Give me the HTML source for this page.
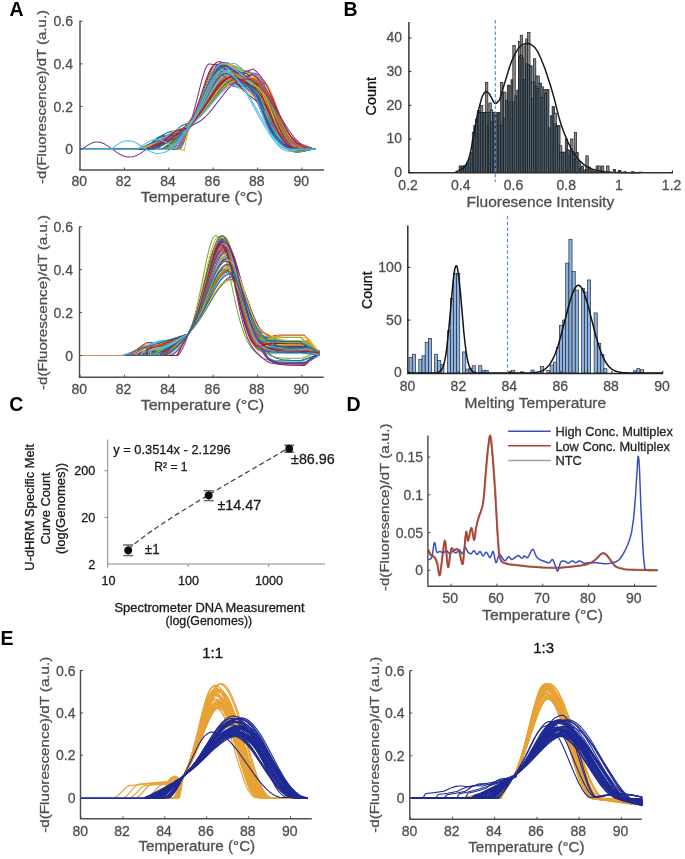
<!DOCTYPE html><html><head><meta charset="utf-8"><style>html,body{margin:0;padding:0;background:#fff;}svg{display:block;filter:blur(0.35px)}</style></head><body><svg width="685" height="859" viewBox="0 0 685 859" font-family='"Liberation Sans", sans-serif'>
<rect width="685" height="859" fill="#fff"/>
<g fill="none" stroke-width="1.05" stroke-linejoin="round">
<polyline points="80.0,149.2 142.3,149.2 148.8,146.9 158.4,142.7 160.6,141.7 161.7,141.0 166.0,136.5 168.1,134.9 169.2,134.3 170.3,133.9 172.4,133.5 174.6,133.6 176.7,133.9 187.5,128.3 188.5,127.6 197.1,116.1 210.0,96.2 214.3,90.3 217.5,86.8 219.7,85.1 221.8,83.9 222.9,83.5 225.1,83.2 228.3,83.4 247.6,86.5 251.9,87.6 256.2,89.6 259.4,92.3 261.6,94.6 263.7,97.3 265.9,100.5 270.2,108.0 278.8,125.5 282.0,131.5 284.2,135.1 286.3,138.2 289.5,141.9 291.7,143.7 293.8,145.2 296.0,146.2 298.1,147.0 302.4,147.8 315.3,149.2" stroke="#0072BD"/>
<polyline points="80.0,149.2 150.9,149.2 154.1,148.4 158.4,146.6 164.9,143.4 172.4,138.9 176.7,137.6 178.9,136.6 181.0,135.3 183.2,133.7 186.4,130.6 188.5,128.1 189.6,126.3 196.0,117.3 199.3,112.3 212.2,89.8 215.4,84.8 217.5,81.8 220.8,78.3 222.9,76.7 225.1,75.6 227.2,75.1 229.4,75.2 230.4,75.8 234.7,80.8 238.0,84.0 241.2,86.4 243.3,87.5 245.5,88.2 247.6,88.4 250.8,88.1 256.2,87.0 258.4,86.7 259.4,87.4 262.7,91.6 265.9,96.6 270.2,104.6 280.9,126.3 285.2,133.5 288.5,137.7 290.6,139.9 292.8,141.8 294.9,143.2 298.1,144.9 303.5,146.6 308.9,147.7 312.1,148.7 315.3,149.2" stroke="#D95319"/>
<polyline points="80.0,149.2 139.1,149.2 141.2,148.9 147.7,147.2 155.2,144.6 158.4,141.5 161.7,139.1 162.7,138.6 164.9,138.0 167.0,137.8 169.2,138.0 170.3,137.8 177.8,133.9 186.4,129.0 188.5,127.6 192.8,120.6 196.0,114.8 201.4,103.6 211.1,81.1 215.4,72.6 218.6,67.9 220.8,65.8 222.9,64.6 224.0,64.3 225.1,64.3 226.1,64.4 227.2,64.9 231.5,69.8 234.7,73.0 238.0,75.6 240.1,76.8 242.3,77.7 244.4,78.3 251.9,79.0 254.1,79.5 255.1,79.8 256.2,80.9 259.4,86.5 262.7,93.2 273.4,118.8 277.7,127.8 279.9,131.6 282.0,135.0 284.2,137.8 287.4,141.3 289.5,143.2 291.7,144.6 293.8,145.7 297.1,146.9 302.4,148.0 315.3,149.2" stroke="#EDB120"/>
<polyline points="80.0,149.2 175.6,149.2 176.7,149.0 178.9,146.6 181.0,143.1 184.2,136.5 188.5,126.6 192.8,119.5 197.1,111.8 207.9,90.9 210.0,87.0 213.2,82.3 215.4,80.1 217.5,78.7 219.7,78.2 221.8,78.2 226.1,81.8 229.4,84.2 232.6,85.9 235.8,86.8 238.0,86.8 241.2,86.3 244.4,85.1 250.8,82.1 254.1,84.2 257.3,87.2 259.4,89.8 261.6,93.0 263.7,96.9 268.0,106.4 275.6,125.9 278.8,133.4 282.0,139.5 285.2,143.9 287.4,145.9 289.5,147.3 291.7,148.2 293.8,148.6 297.1,148.9 307.8,148.9 315.3,149.2" stroke="#7E2F8E"/>
<polyline points="80.0,149.2 170.3,149.2 175.6,143.1 181.0,136.6 185.3,130.0 188.5,125.5 197.1,112.2 201.4,103.1 211.1,80.6 213.2,76.2 215.4,72.4 217.5,69.3 219.7,67.0 221.8,65.7 222.9,65.3 224.0,65.3 226.1,65.4 232.6,68.5 236.9,70.1 240.1,70.9 247.6,72.5 249.8,73.1 253.0,74.7 255.1,76.6 257.3,79.9 259.4,84.0 262.7,91.6 265.9,100.6 272.3,119.9 276.6,131.1 278.8,135.7 280.9,139.5 283.1,142.5 285.2,144.9 287.4,146.6 289.5,147.8 291.7,148.6 293.8,149.0 297.1,149.2 307.8,149.1 315.3,149.2" stroke="#77AC30"/>
<polyline points="80.0,149.2 179.9,149.2 181.0,148.1 186.4,129.1 188.5,122.7 189.6,121.3 191.8,119.1 193.9,117.7 197.1,116.4 198.2,115.1 212.2,93.8 215.4,89.4 217.5,86.9 220.8,83.9 222.9,82.4 225.1,81.4 226.1,81.2 228.3,81.0 229.4,81.0 230.4,81.3 234.7,84.5 238.0,86.6 241.2,88.1 243.3,88.9 247.6,89.6 255.1,89.4 257.3,89.6 258.4,89.7 259.4,90.4 261.6,92.7 263.7,95.6 267.0,100.7 270.2,106.7 278.8,124.5 282.0,130.7 286.3,137.7 288.5,140.6 290.6,143.0 292.8,145.0 294.9,146.6 297.1,147.8 300.3,148.9 304.6,149.4 315.3,149.2" stroke="#4DBEEE"/>
<polyline points="80.0,149.2 141.2,149.2 142.3,148.8 149.8,145.2 157.4,142.6 162.7,140.4 168.1,137.7 175.6,133.5 187.5,128.3 188.5,127.6 190.7,124.4 193.9,119.2 197.1,113.5 201.4,105.0 211.1,84.0 215.4,75.9 218.6,71.2 220.8,68.9 222.9,67.4 225.1,66.8 227.2,66.9 228.3,67.2 233.7,70.0 239.0,73.3 242.3,75.6 245.5,78.4 247.6,80.7 249.8,83.4 253.0,88.5 256.2,94.7 265.9,120.0 270.2,129.7 272.3,133.6 274.5,136.9 276.6,139.7 279.9,143.0 283.1,145.5 286.3,147.4 290.6,149.3 293.8,150.1 297.1,150.5 300.3,150.5 311.0,149.4 315.3,149.2" stroke="#A2142F"/>
<polyline points="80.0,149.2 170.3,149.2 173.5,144.6 178.9,137.8 183.2,131.6 185.3,128.9 188.5,125.3 196.0,114.2 197.1,112.2 200.3,105.2 210.0,81.8 214.3,72.6 217.5,67.3 219.7,64.8 221.8,63.2 222.9,62.7 224.0,62.6 226.1,62.7 227.2,63.5 233.7,69.1 236.9,71.5 240.1,73.6 248.7,78.6 251.9,81.2 255.1,84.8 258.4,92.0 268.0,117.3 272.3,127.3 274.5,131.6 277.7,137.1 280.9,141.5 284.2,144.9 286.3,146.6 288.5,148.0 290.6,149.0 293.8,149.9 298.1,150.1 308.9,149.3 315.3,149.2" stroke="#0072BD"/>
<polyline points="80.0,149.2 159.5,149.2 160.6,149.1 162.7,148.1 169.2,143.9 176.7,138.1 183.2,134.3 186.4,131.7 188.5,129.4 192.8,121.6 200.3,106.4 208.9,88.0 213.2,80.1 216.5,75.7 218.6,73.6 220.8,72.5 222.9,72.2 225.1,72.5 231.5,76.3 234.7,77.7 236.9,78.4 241.2,79.2 249.8,79.6 253.0,80.4 254.1,81.3 256.2,84.1 258.4,87.5 261.6,94.0 264.8,101.9 272.3,122.1 274.5,127.3 276.6,131.8 278.8,135.7 280.9,138.9 283.1,141.5 285.2,143.6 287.4,145.3 290.6,147.1 292.8,147.9 296.0,148.7 301.4,149.2 315.3,149.2" stroke="#D95319"/>
<polyline points="80.0,149.2 154.1,149.1 159.5,146.2 167.0,141.7 171.3,137.6 174.6,135.0 177.8,133.3 182.1,132.0 188.5,127.6 195.0,119.7 199.3,113.9 203.6,107.5 213.2,92.0 218.6,84.4 221.8,80.9 225.1,78.2 228.3,76.6 230.4,76.1 231.5,76.1 233.7,76.3 238.0,80.9 241.2,83.8 244.4,86.0 246.6,86.8 248.7,87.3 251.9,87.2 254.1,86.7 260.5,84.7 261.6,84.5 262.7,84.7 264.8,87.1 267.0,90.0 269.1,93.4 271.3,97.5 274.5,104.4 282.0,122.7 285.2,129.9 288.5,136.1 291.7,140.8 293.8,143.2 296.0,145.0 298.1,146.3 300.3,147.2 304.6,148.1 315.3,149.2" stroke="#EDB120"/>
<polyline points="80.0,149.2 175.6,149.2 176.7,147.9 188.5,127.8 192.8,121.0 196.0,115.2 201.4,104.4 212.2,79.9 216.5,71.6 219.7,66.9 221.8,64.7 224.0,63.4 226.1,63.0 228.3,63.1 235.8,68.2 239.0,69.9 241.2,70.7 245.5,71.9 254.1,73.2 256.2,73.9 257.3,74.4 259.4,77.1 261.6,80.3 264.8,86.0 269.1,95.2 277.7,116.2 280.9,123.6 285.2,131.9 287.4,135.4 289.5,138.3 291.7,140.7 293.8,142.6 296.0,144.1 299.2,145.7 303.5,147.0 308.9,147.9 312.1,148.7 315.3,149.2" stroke="#7E2F8E"/>
<polyline points="80.0,149.2 170.3,149.2 171.3,148.0 175.6,141.7 179.9,136.2 184.2,131.4 192.8,122.6 198.2,115.8 204.6,106.3 216.5,87.2 219.7,82.5 221.8,79.8 225.1,76.3 228.3,73.7 231.5,72.1 233.7,71.6 234.7,71.5 236.9,71.8 246.6,80.2 257.3,88.1 260.5,91.0 263.7,94.8 265.9,98.0 274.5,119.8 278.8,129.6 280.9,133.8 283.1,137.3 285.2,140.2 287.4,142.5 289.5,144.2 291.7,145.5 293.8,146.5 296.0,147.2 299.2,147.8 302.4,148.2 315.3,149.2" stroke="#77AC30"/>
<polyline points="80.0,149.2 153.1,149.2 154.1,148.8 168.1,140.1 176.7,135.9 181.0,133.5 185.3,130.8 188.5,128.4 197.1,115.9 201.4,108.9 205.7,101.0 215.4,82.2 218.6,76.5 220.8,73.1 224.0,68.9 227.2,65.7 229.4,64.3 230.4,63.9 232.6,63.4 234.7,63.6 235.8,64.0 240.1,67.2 243.3,69.9 246.6,72.9 249.8,76.4 251.9,79.1 254.1,82.2 256.2,85.7 258.4,89.8 262.7,99.4 264.8,104.8 270.2,120.1 272.3,125.5 274.5,130.2 276.6,134.3 278.8,137.8 280.9,140.7 283.1,143.1 286.3,146.1 289.5,148.3 292.8,149.8 296.0,150.7 298.1,151.0 301.4,150.9 312.1,149.4 315.3,149.2" stroke="#4DBEEE"/>
<polyline points="80.0,149.2 140.2,149.2 141.2,149.0 145.5,147.9 147.7,147.1 154.1,141.0 157.4,138.7 159.5,137.6 161.7,136.9 163.8,136.6 166.0,136.5 171.3,136.9 187.5,128.4 188.5,127.5 189.6,125.5 192.8,118.9 195.0,114.0 199.3,102.7 207.9,77.9 211.1,70.1 213.2,66.1 215.4,63.3 216.5,62.4 217.5,61.9 218.6,61.7 220.8,61.8 228.3,66.7 231.5,68.2 233.7,69.0 238.0,70.0 246.6,71.0 248.7,71.5 249.8,72.0 251.9,74.4 254.1,77.3 256.2,80.7 258.4,84.5 262.7,93.5 271.3,114.0 275.6,123.5 279.9,131.2 282.0,134.4 284.2,137.1 286.3,139.4 289.5,142.1 292.8,144.1 296.0,145.6 299.2,146.6 302.4,147.4 312.1,148.9 315.3,149.2" stroke="#A2142F"/>
<polyline points="80.0,149.2 156.3,149.2 157.4,148.7 174.6,137.2 182.1,131.5 188.5,127.3 191.8,124.4 195.0,121.1 201.4,113.8 205.7,108.3 218.6,90.6 221.8,86.7 225.1,83.2 229.4,79.4 232.6,77.3 235.8,76.0 239.0,75.5 241.2,75.9 242.3,76.7 247.6,83.8 260.5,101.5 270.2,115.2 275.6,126.2 279.9,133.9 283.1,138.5 285.2,141.1 287.4,143.3 289.5,145.1 291.7,146.6 293.8,147.7 297.1,148.7 299.2,149.1 302.4,149.3 315.3,149.2" stroke="#0072BD"/>
<polyline points="80.0,149.2 163.8,149.2 164.9,148.6 170.3,143.5 173.5,140.8 176.7,138.7 182.1,135.8 188.5,127.6 195.0,119.9 199.3,114.1 204.6,106.0 215.4,88.5 218.6,83.8 220.8,81.1 224.0,77.6 227.2,75.0 230.4,73.5 232.6,73.1 234.7,73.3 235.8,73.8 241.2,79.1 245.5,82.9 249.8,86.3 258.4,92.4 261.6,95.1 263.7,97.3 264.8,99.0 265.9,101.1 275.6,121.7 279.9,130.0 283.1,135.4 285.2,138.4 287.4,141.0 289.5,143.2 291.7,145.0 293.8,146.3 296.0,147.2 298.1,147.9 302.4,148.5 308.9,148.7 315.3,149.2" stroke="#D95319"/>
<polyline points="80.0,149.2 168.1,149.2 169.2,148.9 177.8,139.8 183.2,131.1 186.4,126.6 191.8,119.9 199.3,111.4 203.6,103.4 214.3,81.6 217.5,75.9 220.8,71.1 224.0,67.5 226.1,65.9 228.3,64.9 230.4,64.7 232.6,64.9 242.3,71.0 254.1,76.9 257.3,79.2 260.5,82.4 261.6,84.0 262.7,86.0 265.9,93.0 275.6,117.5 279.9,127.2 282.0,131.2 284.2,134.7 286.3,137.6 288.5,140.1 290.6,142.0 292.8,143.6 294.9,144.8 298.1,146.2 301.4,147.2 304.6,147.8 312.1,148.9 315.3,149.2" stroke="#EDB120"/>
<polyline points="80.0,149.2 154.1,149.2 156.3,148.8 163.8,142.0 168.1,138.7 170.3,137.3 173.5,135.8 176.7,134.8 181.0,133.7 184.2,131.3 188.5,127.6 193.9,118.6 198.2,110.3 202.5,100.8 210.0,83.1 214.3,74.3 217.5,69.3 219.7,67.0 221.8,65.6 224.0,65.1 226.1,65.1 230.4,69.9 233.7,73.0 236.9,75.3 240.1,76.6 242.3,76.9 244.4,76.8 246.6,76.4 253.0,74.5 255.1,74.3 257.3,76.9 259.4,80.0 262.7,86.0 267.0,95.9 274.5,116.3 277.7,124.4 279.9,129.1 282.0,133.2 285.2,138.1 287.4,140.6 290.6,143.5 292.8,144.8 296.0,146.3 299.2,147.2 302.4,147.9 311.0,148.9 315.3,149.2" stroke="#7E2F8E"/>
<polyline points="80.0,149.2 168.1,149.2 169.2,148.2 174.6,142.1 182.1,131.5 185.3,127.7 188.5,124.5 190.7,121.0 193.9,115.5 197.1,109.4 207.9,80.6 210.0,75.4 212.2,71.0 214.3,67.6 216.5,65.3 217.5,64.6 218.6,64.3 219.7,64.2 225.1,64.6 230.4,65.3 234.7,66.2 238.0,67.2 241.2,68.7 243.3,70.1 246.6,72.9 248.7,75.3 251.9,80.1 254.1,84.1 256.2,88.7 259.4,96.7 268.0,120.0 272.3,130.0 274.5,134.2 277.7,139.5 279.9,142.4 283.1,145.9 285.2,147.7 287.4,149.1 289.5,150.0 292.8,150.7 297.1,150.7 308.9,149.3 315.3,149.2" stroke="#77AC30"/>
<polyline points="80.0,149.2 147.7,149.2 149.8,148.6 153.1,147.4 158.4,142.0 160.6,140.0 162.7,138.4 164.9,137.2 167.0,136.4 169.2,136.0 171.3,135.9 174.6,136.1 175.6,135.8 185.3,129.8 188.5,127.6 192.8,120.6 197.1,112.9 207.9,90.7 212.2,82.8 214.3,79.7 216.5,77.3 218.6,75.7 220.8,75.0 222.9,75.1 224.0,75.6 228.3,80.4 231.5,83.5 234.7,86.0 236.9,87.2 239.0,88.1 241.2,88.8 248.7,89.7 250.8,90.2 251.9,90.5 253.0,91.5 255.1,94.9 258.4,100.6 268.0,120.2 273.4,129.9 275.6,133.1 278.8,137.3 280.9,139.6 284.2,142.4 286.3,143.9 289.5,145.6 291.7,146.5 294.9,147.4 301.4,148.4 315.3,149.2" stroke="#4DBEEE"/>
<polyline points="80.0,149.2 171.3,149.2 172.4,149.0 175.6,145.6 178.9,141.5 188.5,127.0 192.8,117.7 196.0,109.6 199.3,100.4 205.7,80.8 208.9,72.5 211.1,68.3 213.2,65.5 214.3,64.6 215.4,64.2 216.5,64.2 217.5,64.3 218.6,64.7 225.1,69.5 228.3,71.4 230.4,72.3 232.6,72.9 235.8,73.3 243.3,73.2 246.6,73.5 247.6,74.2 248.7,75.4 250.8,78.1 253.0,81.3 257.3,89.3 260.5,96.4 270.2,119.9 274.5,128.9 276.6,132.7 279.9,137.6 283.1,141.5 286.3,144.7 288.5,146.3 290.6,147.6 292.8,148.6 296.0,149.4 300.3,149.7 309.9,149.2 315.3,149.2" stroke="#A2142F"/>
<polyline points="80.0,149.2 145.5,149.2 146.6,149.1 150.9,143.9 154.1,140.5 157.4,137.9 159.5,136.6 161.7,135.8 164.9,135.2 168.1,135.3 171.3,135.8 172.4,135.5 188.5,127.7 196.0,119.9 201.4,113.7 206.8,106.7 218.6,90.0 221.8,85.8 225.1,82.1 229.4,78.0 232.6,75.7 234.7,74.6 236.9,73.7 240.1,73.2 242.3,73.6 243.3,74.1 246.6,76.2 249.8,78.6 255.1,83.6 258.4,87.2 260.5,90.0 264.8,96.4 269.1,103.9 271.3,107.9 278.8,123.9 282.0,129.9 285.2,134.9 288.5,138.8 290.6,140.9 292.8,142.5 294.9,143.8 298.1,145.3 303.5,146.9 308.9,147.9 312.1,148.7 315.3,149.2" stroke="#0072BD"/>
<polyline points="80.0,149.2 177.8,149.2 178.9,149.0 181.0,145.1 182.1,142.5 188.5,123.9 190.7,120.9 192.8,118.2 196.0,114.6 205.7,105.4 217.5,86.7 220.8,82.2 224.0,78.3 227.2,75.1 230.4,72.8 233.7,71.5 235.8,71.1 238.0,71.2 239.0,71.5 244.4,74.8 248.7,77.0 251.9,78.2 258.4,80.2 261.6,81.3 264.8,83.2 267.0,85.1 268.0,86.7 270.2,90.9 273.4,98.3 282.0,122.1 285.2,130.2 288.5,136.7 290.6,140.2 292.8,142.8 294.9,144.8 297.1,146.2 299.2,147.1 303.5,148.1 315.3,149.2" stroke="#D95319"/>
<polyline points="80.0,149.2 139.1,149.2 144.5,148.0 153.1,145.1 157.4,144.3 160.6,143.1 163.8,141.4 168.1,138.6 178.9,133.1 188.5,127.7 195.0,121.0 200.3,115.0 204.6,109.6 215.4,95.4 218.6,91.5 221.8,88.1 226.1,84.4 229.4,82.4 232.6,81.2 235.8,80.7 238.0,80.9 245.5,87.9 248.7,90.2 250.8,91.3 253.0,92.1 255.1,92.6 258.4,93.0 263.7,93.2 265.9,93.5 267.0,93.9 270.2,98.3 274.5,105.7 284.2,125.9 287.4,132.2 290.6,137.3 292.8,139.9 296.0,142.9 299.2,144.7 302.4,145.8 308.9,147.1 312.1,148.4 315.3,149.2" stroke="#EDB120"/>
<polyline points="80.0,149.2 140.2,149.2 141.2,148.9 154.1,143.0 176.7,132.9 179.9,130.2 183.2,127.7 185.3,126.5 188.5,125.0 191.8,121.9 196.0,118.1 197.1,116.9 202.5,109.2 214.3,90.4 217.5,85.9 220.8,82.0 224.0,79.1 226.1,77.6 229.4,76.4 231.5,76.2 233.7,76.5 238.0,80.6 241.2,83.2 244.4,85.3 246.6,86.2 248.7,86.9 250.8,87.2 259.4,87.2 261.6,87.5 262.7,88.0 265.9,92.3 269.1,97.6 273.4,106.0 280.9,122.4 284.2,129.0 288.5,136.5 291.7,140.9 293.8,143.1 296.0,144.8 298.1,146.0 300.3,146.8 303.5,147.6 308.9,148.2 315.3,149.2" stroke="#7E2F8E"/>
<polyline points="80.0,149.2 138.0,149.2 140.2,148.9 146.6,147.3 154.1,144.7 164.9,140.1 176.7,134.3 181.0,133.2 184.2,131.9 186.4,130.7 188.5,129.1 192.8,123.2 200.3,114.0 205.7,106.5 217.5,88.7 220.8,84.3 224.0,80.4 227.2,77.2 230.4,74.7 233.7,73.1 236.9,72.4 238.0,72.5 240.1,73.4 243.3,76.5 249.8,83.6 255.1,90.7 260.5,98.8 268.0,111.5 273.4,122.4 277.7,130.2 282.0,136.6 285.2,140.4 287.4,142.4 290.6,144.6 292.8,145.8 296.0,146.9 301.4,147.9 315.3,149.2" stroke="#77AC30"/>
<polyline points="80.0,149.2 140.2,149.2 143.4,148.8 146.6,148.2 154.1,146.1 157.4,145.8 160.6,145.2 163.8,144.1 166.0,143.1 168.1,141.9 171.3,139.7 176.7,135.3 184.2,130.6 188.5,127.6 193.9,120.4 198.2,114.0 202.5,107.0 212.2,90.0 216.5,83.5 219.7,79.6 221.8,77.6 224.0,76.2 225.1,75.7 227.2,75.2 229.4,75.5 230.4,75.9 234.7,79.2 246.6,89.0 250.8,93.1 254.1,96.7 257.3,100.8 259.4,104.1 268.0,121.6 273.4,131.1 275.6,134.3 278.8,138.6 282.0,142.1 285.2,145.1 287.4,146.7 289.5,147.9 291.7,148.9 294.9,149.7 299.2,150.0 308.9,149.2 315.3,149.2" stroke="#4DBEEE"/>
<polyline points="80.0,149.2 140.2,149.1 145.5,148.1 152.0,146.2 162.7,142.3 169.2,139.2 183.2,131.1 188.5,127.6 193.9,119.0 198.2,111.1 202.5,102.1 211.1,82.9 215.4,74.7 218.6,70.1 220.8,68.0 222.9,66.7 225.1,66.3 227.2,66.5 233.7,71.7 236.9,73.9 239.0,75.2 242.3,76.7 248.7,78.9 251.9,80.3 254.1,81.6 256.2,83.4 258.4,87.3 261.6,94.0 271.3,117.7 275.6,127.1 277.7,131.1 279.9,134.5 282.0,137.5 285.2,140.9 287.4,142.7 290.6,144.7 292.8,145.7 296.0,146.8 302.4,148.1 315.3,149.2" stroke="#A2142F"/>
<polyline points="80.0,149.2 179.9,149.2 181.0,147.9 183.2,143.9 185.3,138.4 188.5,128.9 193.9,122.4 201.4,112.0 215.4,91.5 219.7,86.1 221.8,83.8 224.0,81.9 226.1,80.3 228.3,79.1 230.4,78.4 232.6,78.1 234.7,78.2 235.8,78.4 254.1,85.0 257.3,86.6 259.4,87.9 261.6,89.6 263.7,91.8 267.0,96.6 270.2,102.6 279.9,123.6 284.2,132.3 286.3,136.0 288.5,139.2 290.6,141.9 292.8,144.0 296.0,146.3 298.1,147.3 300.3,147.9 303.5,148.4 315.3,149.2" stroke="#0072BD"/>
<polyline points="80.0,149.2 141.2,149.2 145.5,146.7 150.9,143.9 160.6,139.4 172.4,134.3 179.9,130.2 183.2,128.9 188.5,127.1 192.8,123.6 197.1,119.4 201.4,114.8 206.8,108.3 218.6,93.4 221.8,89.7 225.1,86.3 229.4,82.7 232.6,80.6 234.7,79.5 236.9,78.8 240.1,78.3 242.3,78.4 243.3,78.8 248.7,83.6 253.0,87.1 257.3,90.1 265.9,95.5 269.1,98.1 271.3,100.2 272.3,101.7 273.4,103.8 282.0,122.0 285.2,128.1 288.5,133.1 290.6,135.9 292.8,138.2 296.0,140.8 300.3,143.4 303.5,144.8 308.9,146.7 312.1,148.3 315.3,149.2" stroke="#D95319"/>
<polyline points="80.0,149.2 150.9,149.1 156.3,147.2 157.4,146.4 160.6,142.7 163.8,139.5 166.0,137.8 168.1,136.5 171.3,135.5 173.5,135.3 176.7,135.3 177.8,135.1 185.3,130.0 188.5,127.6 193.9,118.3 198.2,109.6 202.5,99.6 210.0,81.0 214.3,71.8 217.5,66.7 219.7,64.3 221.8,63.0 222.9,62.7 224.0,62.7 226.1,63.0 232.6,67.0 236.9,69.2 240.1,70.5 247.6,72.9 249.8,73.9 253.0,75.9 254.1,76.8 255.1,78.2 258.4,84.2 261.6,91.5 264.8,99.9 272.3,120.8 276.6,131.2 278.8,135.6 280.9,139.3 283.1,142.4 285.2,144.8 288.5,147.2 290.6,148.2 292.8,148.8 296.0,149.1 307.8,148.9 315.3,149.2" stroke="#EDB120"/>
<polyline points="80.0,149.2 150.9,149.2 152.0,149.0 154.1,147.4 162.7,143.7 167.0,141.4 171.3,138.6 178.9,132.9 187.5,128.3 188.5,127.4 190.7,121.8 192.8,115.1 196.0,103.3 201.4,81.7 204.6,70.9 205.7,68.2 206.8,66.1 207.9,64.7 208.9,64.0 210.0,64.0 225.1,66.4 229.4,67.3 232.6,68.3 235.8,69.7 239.0,71.7 241.2,73.5 243.3,75.7 245.5,78.5 247.6,81.7 251.9,89.7 255.1,96.8 264.8,120.1 268.0,126.9 270.2,130.8 272.3,134.2 275.6,138.6 278.8,142.1 283.1,146.0 286.3,148.3 289.5,150.2 292.8,151.5 296.0,152.0 300.3,151.8 311.0,149.5 315.3,149.2" stroke="#7E2F8E"/>
<polyline points="80.0,149.2 168.1,149.2 169.2,149.1 172.4,146.6 175.6,143.4 188.5,125.9 200.3,111.1 202.5,108.1 213.2,90.3 216.5,85.6 218.6,82.9 221.8,79.6 224.0,78.1 226.1,77.0 227.2,76.7 229.4,76.5 231.5,76.6 239.0,77.9 244.4,78.9 248.7,79.9 254.1,81.9 257.3,83.7 259.4,85.3 261.6,87.3 263.7,89.8 268.0,96.1 272.3,103.9 283.1,125.7 287.4,132.9 290.6,137.2 292.8,139.5 294.9,141.4 297.1,143.0 300.3,144.8 304.6,146.4 308.9,147.5 312.1,148.6 315.3,149.2" stroke="#77AC30"/>
<polyline points="80.0,149.2 155.2,149.1 164.9,143.0 170.3,136.2 173.5,133.4 174.6,132.8 176.7,132.0 178.9,131.7 182.1,131.9 188.5,127.6 193.9,119.1 198.2,111.3 202.5,102.5 211.1,83.8 215.4,75.9 218.6,71.5 220.8,69.5 222.9,68.3 225.1,68.0 227.2,68.1 247.6,71.7 250.8,72.6 253.0,73.5 255.1,74.7 256.2,75.5 258.4,77.7 260.5,80.5 262.7,83.9 264.8,87.9 269.1,97.8 276.6,118.0 279.9,126.0 283.1,132.7 285.2,136.4 287.4,139.4 289.5,141.9 291.7,143.8 293.8,145.3 297.1,146.9 300.3,147.8 303.5,148.3 315.3,149.2" stroke="#4DBEEE"/>
<polyline points="80.0,149.2 147.7,149.2 155.2,144.8 173.5,134.8 178.9,132.1 186.4,128.8 188.5,127.6 193.9,120.7 199.3,113.1 203.6,106.2 212.2,91.7 215.4,86.8 217.5,83.8 220.8,80.2 224.0,77.5 226.1,76.5 227.2,76.1 229.4,75.9 231.5,76.0 235.8,79.1 239.0,81.1 242.3,82.7 244.4,83.4 248.7,84.2 257.3,84.0 259.4,84.0 260.5,84.3 263.7,87.5 265.9,90.1 270.2,96.4 275.6,106.5 286.3,129.0 290.6,136.3 293.8,140.5 297.1,143.6 299.2,145.0 301.4,146.0 304.6,146.9 308.9,147.6 312.1,148.6 315.3,149.2" stroke="#A2142F"/>
<polyline points="80.0,149.2 140.2,149.2 144.5,146.8 152.0,143.2 172.4,134.3 177.8,131.0 181.0,129.3 184.2,128.1 188.5,127.0 191.8,124.3 199.3,115.9 204.6,109.1 215.4,94.4 218.6,90.3 221.8,86.8 225.1,83.8 228.3,81.6 231.5,80.2 234.7,79.5 236.9,79.8 238.0,80.2 243.3,84.5 246.6,87.5 249.8,90.8 254.1,96.3 257.3,101.5 260.5,107.5 265.9,118.7 270.2,128.7 272.3,133.1 275.6,138.5 277.7,141.3 279.9,143.5 282.0,145.2 285.2,147.0 287.4,147.8 290.6,148.5 297.1,149.0 315.3,149.2" stroke="#0072BD"/>
<polyline points="80.0,149.2 149.8,149.2 153.1,148.6 158.4,146.6 164.9,143.5 172.4,139.1 177.8,134.3 181.0,131.7 184.2,129.5 188.5,127.0 190.7,125.6 196.0,120.5 201.4,114.9 205.7,109.9 217.5,95.4 220.8,91.8 224.0,88.6 228.3,85.1 231.5,83.1 233.7,82.1 235.8,81.4 239.0,81.0 241.2,81.2 242.3,81.7 248.7,86.6 255.1,92.4 258.4,96.0 260.5,98.7 264.8,105.0 270.2,114.3 275.6,126.0 279.9,134.2 282.0,137.7 284.2,140.7 287.4,144.3 289.5,146.1 291.7,147.4 293.8,148.3 296.0,148.9 300.3,149.3 308.9,149.1 315.3,149.2" stroke="#D95319"/>
<polyline points="80.0,149.2 155.2,149.2 159.5,145.4 164.9,141.6 171.3,135.5 175.6,132.1 177.8,130.8 181.0,129.3 184.2,128.3 188.5,127.3 189.6,126.2 195.0,118.7 199.3,112.0 203.6,104.5 212.2,88.6 215.4,83.1 217.5,79.9 220.8,76.0 224.0,73.2 226.1,72.1 227.2,71.8 229.4,71.7 230.4,71.7 231.5,72.1 238.0,76.0 241.2,77.4 243.3,78.0 245.5,78.3 248.7,78.3 257.3,76.7 259.4,76.6 260.5,77.1 261.6,78.0 263.7,80.1 265.9,82.8 268.0,86.1 270.2,90.2 272.3,95.1 274.5,100.6 280.9,118.7 284.2,127.0 287.4,133.8 290.6,139.0 292.8,141.6 294.9,143.6 297.1,145.1 299.2,146.2 301.4,147.1 304.6,147.9 311.0,148.9 315.3,149.2" stroke="#EDB120"/>
<polyline points="80.0,149.2 146.6,149.2 147.7,149.1 148.8,148.6 153.1,146.3 156.3,144.9 159.5,144.1 162.7,143.5 163.8,143.2 168.1,140.9 178.9,134.4 185.3,130.0 188.5,127.6 192.8,120.3 197.1,112.0 200.3,105.1 207.9,87.9 212.2,79.3 215.4,74.5 217.5,72.3 219.7,71.1 221.8,70.8 222.9,70.8 224.0,71.3 228.3,74.7 231.5,76.8 234.7,78.2 236.9,78.7 239.0,78.8 242.3,78.4 245.5,77.3 251.9,74.5 253.0,74.8 256.2,77.0 258.4,79.1 260.5,81.8 262.7,85.2 264.8,89.4 267.0,94.3 269.1,100.0 276.6,122.4 279.9,130.9 283.1,137.5 284.2,139.3 286.3,142.3 288.5,144.4 290.6,145.9 292.8,147.0 294.9,147.6 298.1,148.2 301.4,148.5 315.3,149.2" stroke="#7E2F8E"/>
<polyline points="80.0,149.2 138.0,149.1 178.9,131.9 182.1,129.3 184.2,127.8 186.4,126.7 188.5,126.0 192.8,123.4 193.9,122.5 199.3,116.9 203.6,112.0 219.7,91.6 222.9,88.1 226.1,85.0 229.4,82.5 232.6,80.6 235.8,79.3 239.0,78.8 241.2,79.0 242.3,79.5 250.8,90.1 262.7,103.1 267.0,108.7 270.2,113.5 271.3,115.6 276.6,128.9 279.9,135.7 283.1,141.1 286.3,144.9 288.5,146.7 290.6,147.9 292.8,148.7 294.9,149.1 298.1,149.2 307.8,149.0 315.3,149.2" stroke="#77AC30"/>
<polyline points="80.0,149.2 177.8,149.2 178.9,149.1 179.9,148.0 181.0,146.5 182.1,144.0 184.2,137.9 188.5,124.0 190.7,121.4 192.8,119.1 195.0,117.3 199.3,114.1 200.3,112.7 205.7,104.4 216.5,86.6 219.7,81.8 222.9,77.6 226.1,74.2 229.4,71.8 232.6,70.4 234.7,70.0 236.9,70.1 238.0,70.9 244.4,78.5 248.7,82.6 251.9,84.8 259.4,88.9 261.6,90.2 263.7,92.0 265.9,94.3 268.0,99.0 275.6,119.3 279.9,129.6 282.0,133.9 284.2,137.6 286.3,140.6 288.5,143.0 290.6,144.9 292.8,146.3 294.9,147.3 297.1,147.9 302.4,148.7 315.3,149.2" stroke="#4DBEEE"/>
<polyline points="80.0,149.2 164.9,149.2 166.0,148.9 170.3,144.1 176.7,138.0 182.1,130.0 186.4,124.8 192.8,118.6 199.3,114.0 200.3,113.1 213.2,94.4 216.5,90.3 218.6,87.8 221.8,84.8 225.1,82.7 228.3,81.6 230.4,81.4 232.6,81.6 239.0,84.4 243.3,85.9 247.6,86.8 256.2,87.9 258.4,88.5 260.5,89.5 261.6,90.4 263.7,93.1 267.0,98.5 270.2,105.3 277.7,124.1 280.9,131.5 284.2,137.5 287.4,142.1 289.5,144.2 291.7,145.9 293.8,147.0 296.0,147.7 298.1,148.2 301.4,148.6 315.3,149.2" stroke="#A2142F"/>
<polyline points="80.0,149.2 140.2,149.2 170.3,135.8 171.3,135.1 177.8,128.7 181.0,126.2 184.2,124.5 188.5,123.2 196.0,115.9 197.1,114.6 200.3,108.9 212.2,85.3 216.5,77.8 219.7,73.4 221.8,71.2 224.0,69.6 225.1,69.1 227.2,68.7 230.4,69.1 233.7,69.9 236.9,70.9 240.1,72.4 243.3,74.3 245.5,76.0 247.6,78.1 249.8,80.7 253.0,85.6 255.1,89.7 257.3,94.4 259.4,99.6 267.0,119.5 271.3,129.3 273.4,133.3 275.6,136.7 277.7,139.5 280.9,142.9 284.2,145.4 287.4,147.3 290.6,148.7 294.9,149.8 298.1,150.1 301.4,150.1 315.3,149.2" stroke="#0072BD"/>
<polyline points="80.0,149.2 144.5,149.2 146.6,148.7 149.8,147.5 155.2,143.8 158.4,142.1 161.7,141.0 166.0,140.2 177.8,133.9 188.5,127.6 195.0,119.7 200.3,112.2 204.6,105.4 214.3,89.3 217.5,84.5 219.7,81.6 222.9,78.0 226.1,75.4 229.4,73.8 231.5,73.4 234.7,73.7 253.0,80.6 257.3,82.8 259.4,84.2 261.6,86.0 262.7,87.0 264.8,89.8 269.1,97.2 273.4,106.1 283.1,128.0 285.2,132.1 287.4,135.7 290.6,140.0 293.8,142.9 296.0,144.3 298.1,145.3 302.4,146.5 308.9,147.6 312.1,148.6 315.3,149.2" stroke="#D95319"/>
<polyline points="80.0,149.2 179.9,149.2 184.2,150.5 187.5,134.2 188.5,129.7 191.8,126.4 193.9,123.9 200.3,115.1 204.6,109.8 214.3,97.1 217.5,93.1 220.8,89.5 225.1,85.5 228.3,83.3 230.4,82.2 232.6,81.4 235.8,81.0 238.0,81.2 239.0,82.0 246.6,89.8 257.3,99.6 261.6,104.5 263.7,107.4 267.0,112.4 272.3,125.5 274.5,130.2 276.6,134.2 279.9,139.2 283.1,142.7 285.2,144.4 287.4,145.7 290.6,147.0 293.8,147.9 297.1,148.4 301.4,148.7 315.3,149.2" stroke="#EDB120"/>
<polyline points="80.0,149.2 171.3,149.2 172.4,148.1 174.6,144.5 177.8,140.1 178.9,138.9 184.2,134.3 186.4,132.0 188.5,129.2 198.2,108.6 201.4,100.8 208.9,81.3 213.2,71.7 215.4,67.9 217.5,65.1 219.7,63.3 220.8,62.8 221.8,62.5 224.0,62.6 225.1,63.4 229.4,67.5 232.6,70.1 235.8,71.9 238.0,72.6 240.1,72.9 243.3,72.6 246.6,71.6 253.0,69.1 254.1,69.6 256.2,71.4 259.4,74.7 261.6,77.5 263.7,80.7 267.0,86.4 271.3,95.5 279.9,116.0 283.1,123.2 287.4,131.5 290.6,136.4 292.8,139.1 294.9,141.3 297.1,143.0 299.2,144.3 303.5,146.1 308.9,147.4 312.1,148.5 315.3,149.2" stroke="#7E2F8E"/>
<polyline points="80.0,149.2 159.5,149.2 160.6,149.1 162.7,148.5 166.0,147.0 169.2,145.1 172.4,142.9 176.7,139.4 178.9,137.3 199.3,113.2 203.6,106.3 214.3,87.9 217.5,83.0 219.7,80.2 222.9,76.7 225.1,74.9 228.3,73.2 230.4,72.8 232.6,72.9 233.7,73.3 243.3,79.0 256.2,85.4 259.4,87.6 261.6,89.4 262.7,90.8 264.8,94.3 268.0,100.4 278.8,123.7 282.0,130.1 284.2,133.8 286.3,136.9 289.5,140.6 291.7,142.4 293.8,143.7 298.1,145.5 302.4,146.6 308.9,147.8 312.1,148.7 315.3,149.2" stroke="#77AC30"/>
<polyline points="80.0,149.2 143.4,149.1 147.7,148.3 153.1,146.7 159.5,144.1 166.0,141.1 176.7,135.2 184.2,128.1 188.5,124.5 191.8,120.5 201.4,109.3 213.2,89.1 216.5,84.3 218.6,81.5 221.8,78.1 224.0,76.5 226.1,75.4 227.2,75.1 229.4,74.9 231.5,75.3 236.9,79.4 241.2,82.3 250.8,87.5 253.0,88.8 256.2,91.4 258.4,93.7 259.4,95.0 260.5,96.8 261.6,99.2 270.2,120.7 274.5,130.3 276.6,134.2 278.8,137.4 280.9,140.1 283.1,142.3 285.2,144.0 288.5,145.9 291.7,147.1 294.9,148.0 298.1,148.5 302.4,148.9 315.3,149.2" stroke="#4DBEEE"/>
<polyline points="80.0,149.2 145.5,149.1 149.8,148.4 154.1,147.2 158.4,145.7 163.8,143.3 171.3,139.3 176.7,134.0 179.9,131.3 184.2,128.4 188.5,126.4 191.8,124.0 197.1,117.6 201.4,111.9 205.7,105.6 215.4,90.6 218.6,86.1 221.8,82.0 225.1,78.7 228.3,76.2 231.5,74.7 234.7,74.1 236.9,74.7 238.0,75.2 241.2,77.4 244.4,80.0 247.6,83.1 249.8,85.4 254.1,91.0 257.3,96.0 261.6,103.8 265.9,112.4 271.3,124.2 275.6,132.5 277.7,136.0 279.9,139.0 283.1,142.6 285.2,144.4 287.4,145.8 289.5,146.8 292.8,147.7 298.1,148.3 315.3,149.2" stroke="#A2142F"/>
<polyline points="80.0,149.2 140.2,149.2 146.6,145.3 154.1,141.6 161.7,135.8 164.9,133.9 167.0,132.8 170.3,131.6 173.5,130.9 176.7,130.6 181.0,130.6 187.5,128.2 188.5,127.7 190.7,125.5 196.0,120.0 200.3,115.2 205.7,108.5 217.5,92.8 220.8,89.0 224.0,85.6 228.3,82.1 231.5,80.2 234.7,79.0 238.0,78.7 240.1,79.3 246.6,84.9 251.9,90.6 256.2,96.2 260.5,102.8 264.8,110.5 269.1,118.6 273.4,127.9 276.6,133.8 279.9,138.5 283.1,142.1 285.2,143.9 288.5,145.8 290.6,146.7 293.8,147.6 297.1,148.1 301.4,148.5 315.3,149.2" stroke="#0072BD"/>
<polyline points="80.0,149.2 176.7,149.2 177.8,149.1 178.9,148.1 179.9,146.7 182.1,142.8 184.2,137.8 188.5,126.4 199.3,114.5 203.6,108.3 213.2,93.1 217.5,86.9 221.8,81.7 225.1,78.7 227.2,77.2 229.4,76.2 232.6,75.5 235.8,75.6 251.9,79.7 255.1,80.9 257.3,81.9 259.4,83.2 261.6,84.8 263.7,86.9 264.8,88.2 267.0,91.5 269.1,95.4 272.3,102.2 279.9,120.7 283.1,128.0 286.3,134.0 289.5,138.6 291.7,140.9 293.8,142.7 296.0,144.1 299.2,145.6 304.6,147.2 312.1,148.8 315.3,149.2" stroke="#D95319"/>
<polyline points="80.0,149.2 138.0,149.2 145.5,146.7 156.3,142.4 162.7,140.6 168.1,138.5 172.4,136.2 177.8,132.9 188.5,127.7 195.0,120.1 200.3,113.2 204.6,106.9 215.4,90.1 220.8,82.8 224.0,79.3 227.2,76.6 230.4,74.9 233.7,74.2 235.8,74.3 236.9,74.6 244.4,79.5 255.1,85.7 257.3,87.2 259.4,89.0 262.7,92.7 264.8,95.9 265.9,98.0 269.1,106.1 275.6,123.2 278.8,130.6 280.9,134.8 283.1,138.3 285.2,141.1 287.4,143.3 289.5,144.9 291.7,146.1 296.0,147.5 302.4,148.4 315.3,149.2" stroke="#EDB120"/>
<polyline points="80.0,149.2 173.5,149.2 174.6,148.9 177.8,141.9 179.9,137.7 182.1,134.1 184.2,130.9 186.4,128.2 188.5,125.9 192.8,122.7 193.9,121.7 198.2,116.5 203.6,109.3 214.3,93.2 219.7,85.9 224.0,81.1 227.2,78.4 229.4,77.1 231.5,76.2 234.7,75.6 236.9,75.9 238.0,76.6 246.6,83.9 251.9,88.8 255.1,92.1 260.5,98.5 265.9,106.5 273.4,123.3 277.7,131.9 279.9,135.6 282.0,138.7 285.2,142.4 287.4,144.2 289.5,145.5 291.7,146.4 293.8,147.0 299.2,147.9 315.3,149.2" stroke="#7E2F8E"/>
<polyline points="80.0,149.2 152.0,149.2 154.1,148.9 156.3,148.3 170.3,141.6 178.9,135.6 187.5,128.6 195.0,120.9 200.3,114.6 204.6,109.1 216.5,92.9 221.8,86.5 226.1,82.5 229.4,80.4 232.6,79.0 235.8,78.5 238.0,78.6 239.0,79.2 245.5,84.6 248.7,86.8 250.8,88.1 254.1,89.6 262.7,92.8 264.8,94.0 267.0,95.5 269.1,98.9 272.3,105.1 282.0,126.9 285.2,133.5 287.4,137.2 289.5,140.4 292.8,143.9 296.0,146.0 299.2,147.2 302.4,147.7 308.9,148.2 315.3,149.2" stroke="#77AC30"/>
<polyline points="80.0,149.2 152.0,149.2 153.1,148.9 157.4,145.5 161.7,140.4 164.9,137.0 167.0,135.2 169.2,133.8 171.3,132.7 174.6,131.7 177.8,131.4 181.0,131.5 182.1,131.2 188.5,127.7 196.0,120.8 201.4,115.5 205.7,110.8 218.6,95.8 221.8,92.4 225.1,89.4 229.4,86.1 232.6,84.2 234.7,83.2 236.9,82.5 240.1,82.0 241.2,82.1 242.3,82.6 243.3,83.3 245.5,85.1 249.8,89.6 253.0,93.8 258.4,102.3 268.0,120.1 275.6,132.7 277.7,135.9 280.9,140.0 283.1,142.5 286.3,145.7 289.5,148.3 291.7,149.7 293.8,150.7 297.1,151.5 299.2,151.7 301.4,151.5 311.0,149.6 315.3,149.2" stroke="#4DBEEE"/>
<polyline points="80.0,149.2 146.6,149.2 147.7,148.9 156.3,144.1 163.8,141.6 168.1,139.8 171.3,138.1 174.6,136.2 182.1,131.0 188.5,127.6 195.0,119.7 199.3,113.9 203.6,107.5 213.2,92.2 216.5,87.6 218.6,84.9 221.8,81.6 225.1,79.1 228.3,77.8 230.4,77.5 232.6,77.8 239.0,85.5 243.3,90.1 247.6,94.0 256.2,100.9 259.4,104.1 261.6,106.5 269.1,123.6 273.4,131.9 275.6,135.4 277.7,138.4 279.9,140.9 283.1,144.0 285.2,145.6 288.5,147.6 291.7,148.9 294.9,149.7 297.1,149.9 300.3,150.0 311.0,149.3 315.3,149.2" stroke="#A2142F"/>
<polyline points="80.0,149.2 160.6,149.2 161.7,149.1 162.7,148.6 168.1,145.2 172.4,143.0 176.7,139.9 179.9,136.9 185.3,130.8 188.5,127.6 193.9,119.7 198.2,112.5 201.4,106.7 211.1,87.9 215.4,80.8 218.6,76.8 220.8,74.9 222.9,73.7 225.1,73.2 227.2,73.3 228.3,73.8 236.9,79.3 246.6,84.5 248.7,85.9 250.8,87.6 254.1,91.0 256.2,93.9 257.3,96.1 260.5,103.7 268.0,122.8 272.3,132.0 274.5,135.7 277.7,140.2 279.9,142.6 283.1,145.6 286.3,148.0 289.5,149.9 292.8,151.2 296.0,151.9 298.1,152.0 301.4,151.7 311.0,149.7 315.3,149.2" stroke="#0072BD"/>
<polyline points="80.0,149.2 144.5,149.1 149.8,147.9 155.2,146.1 161.7,143.4 168.1,140.3 174.6,136.7 179.9,133.3 184.2,127.7 188.5,122.8 193.9,114.2 201.4,103.9 208.9,88.6 211.1,84.7 213.2,81.3 215.4,78.6 217.5,76.7 219.7,75.7 221.8,75.5 222.9,75.5 224.0,75.9 228.3,78.2 231.5,79.6 235.8,80.8 239.0,81.0 242.3,80.7 251.9,78.4 253.0,78.7 255.1,79.7 258.4,81.9 261.6,84.9 263.7,87.6 265.9,90.8 268.0,94.7 272.3,104.2 278.8,120.7 282.0,128.3 285.2,134.7 288.5,139.4 290.6,141.8 292.8,143.6 294.9,144.9 298.1,146.3 303.5,147.6 312.1,148.9 315.3,149.2" stroke="#D95319"/>
<polyline points="80.0,149.2 139.1,149.2 142.3,148.4 148.8,146.2 156.3,143.2 164.9,139.4 171.3,132.8 173.5,131.1 175.6,129.9 177.8,129.1 179.9,128.8 182.1,128.8 185.3,129.3 186.4,128.9 188.5,127.7 195.0,120.8 200.3,114.4 205.7,107.3 216.5,92.0 219.7,87.9 222.9,84.2 226.1,81.1 229.4,78.8 232.6,77.2 235.8,76.6 236.9,76.6 239.0,77.1 243.3,81.7 248.7,88.0 251.9,92.0 255.1,96.4 259.4,103.3 267.0,117.1 268.0,119.3 272.3,129.4 275.6,135.6 278.8,140.5 280.9,143.1 283.1,145.3 285.2,147.1 288.5,149.0 290.6,149.9 293.8,150.6 298.1,150.7 309.9,149.4 315.3,149.2" stroke="#EDB120"/>
<polyline points="80.0,149.2 147.7,149.2 154.1,146.5 162.7,142.2 178.9,133.7 185.3,129.9 188.5,127.7 193.9,120.0 198.2,113.2 202.5,105.7 211.1,89.5 215.4,82.4 218.6,78.1 220.8,76.0 222.9,74.4 224.0,73.9 226.1,73.4 228.3,73.6 229.4,73.9 234.7,76.7 240.1,80.0 245.5,84.2 248.7,87.3 250.8,89.9 254.1,94.4 257.3,99.8 267.0,121.2 271.3,129.6 273.4,133.2 275.6,136.2 277.7,138.8 280.9,141.9 284.2,144.3 287.4,146.0 290.6,147.2 293.8,148.1 300.3,148.8 315.3,149.2" stroke="#7E2F8E"/>
<polyline points="80.0,149.2 166.0,149.2 167.0,148.5 169.2,146.6 179.9,136.2 184.2,130.1 188.5,124.9 196.0,115.0 197.1,113.5 199.3,109.4 211.1,84.3 215.4,76.5 218.6,72.0 220.8,70.0 222.9,68.7 225.1,68.3 227.2,68.4 233.7,73.4 239.0,76.6 242.3,78.0 247.6,80.0 250.8,81.5 254.1,84.0 256.2,86.5 258.4,91.2 260.5,96.6 269.1,120.6 273.4,130.9 275.6,135.1 278.8,140.3 280.9,143.1 284.2,146.5 287.4,149.1 289.5,150.4 291.7,151.3 294.9,152.1 297.1,152.1 299.2,151.9 311.0,149.5 315.3,149.2" stroke="#77AC30"/>
<polyline points="80.0,149.2 171.3,149.2 172.4,149.0 175.6,145.2 178.9,140.9 182.1,134.9 185.3,129.5 193.9,118.2 197.1,111.6 200.3,104.3 211.1,77.9 213.2,73.4 215.4,69.6 217.5,66.5 219.7,64.5 221.8,63.4 222.9,63.3 225.1,63.5 233.7,68.7 239.0,72.1 242.3,74.6 244.4,76.5 246.6,78.8 248.7,81.6 251.9,86.8 254.1,91.1 263.7,118.2 267.0,126.4 269.1,131.2 271.3,135.5 274.5,140.8 276.6,143.7 279.9,147.2 282.0,148.9 284.2,150.1 286.3,150.8 288.5,151.2 291.7,151.1 303.5,149.4 308.9,149.2 315.3,149.2" stroke="#4DBEEE"/>
<polyline points="80.0,149.2 153.1,149.2 157.4,146.0 162.7,142.4 169.2,135.9 172.4,133.3 174.6,131.9 176.7,130.7 179.9,129.5 183.2,128.8 187.5,128.3 188.5,127.7 195.0,120.3 200.3,113.4 204.6,107.3 215.4,91.2 220.8,84.4 224.0,81.1 227.2,78.7 230.4,77.2 233.7,76.8 235.8,77.0 236.9,77.5 244.4,81.5 249.8,84.8 253.0,87.1 255.1,89.0 257.3,91.1 259.4,93.7 262.7,98.2 264.8,101.9 274.5,123.8 278.8,132.4 283.1,139.2 285.2,141.9 288.5,145.3 290.6,147.0 292.8,148.3 294.9,149.2 298.1,149.9 302.4,150.1 311.0,149.3 315.3,149.2" stroke="#A2142F"/>
<polyline points="80.0,149.2 150.9,149.2 155.2,148.2 160.6,146.0 164.9,143.9 170.3,140.8 174.6,138.8 177.8,137.1 183.2,133.5 186.4,130.8 188.5,128.7 192.8,120.5 198.2,108.9 207.9,85.3 212.2,75.9 214.3,72.2 216.5,69.3 218.6,67.4 219.7,66.8 220.8,66.5 222.9,66.7 224.0,67.3 228.3,72.6 231.5,76.1 234.7,79.0 236.9,80.6 240.1,82.4 248.7,85.6 251.9,87.3 253.0,88.7 256.2,95.0 267.0,119.0 272.3,129.8 275.6,135.4 278.8,140.1 282.0,143.9 284.2,145.9 286.3,147.4 288.5,148.5 290.6,149.2 292.8,149.5 296.0,149.5 306.7,148.9 315.3,149.2" stroke="#0072BD"/>
<polyline points="80.0,149.2 82.1,149.2 87.5,145.4 91.8,143.1 95.0,142.1 98.3,142.0 101.5,142.7 104.7,144.1 107.9,146.1 117.6,152.9 120.8,154.8 124.1,156.2 127.3,156.9 129.4,157.1 132.7,156.7 135.9,155.8 140.2,153.6 147.7,148.4 154.1,144.6 168.1,137.5 188.5,127.7 191.8,125.6 198.2,122.2 201.4,120.2 204.6,117.5 208.9,113.1 212.2,109.1 224.0,93.7 228.3,88.7 231.5,85.5 235.8,82.1 239.0,80.3 242.3,79.2 245.5,78.8 247.6,79.0 249.8,79.6 251.9,80.5 254.1,81.7 256.2,83.3 258.4,85.2 262.7,89.9 265.9,94.0 270.2,100.3 284.2,123.0 288.5,129.7 293.8,137.1 298.1,141.9 302.4,145.7 304.6,147.1 306.7,148.1 309.9,149.0 315.3,149.2" stroke="#7E2F8E"/>
<polyline points="80.0,149.2 111.2,149.1 116.5,145.1 120.8,142.6 123.0,141.6 125.1,141.0 128.4,140.7 131.6,141.1 134.8,142.1 139.1,144.5 145.5,149.2 150.9,151.8 155.2,153.2 158.4,153.5 161.7,153.1 166.0,151.7 170.3,149.6 171.3,148.8 188.5,127.6 195.0,118.3 198.2,112.9 201.4,107.0 212.2,85.1 214.3,81.3 216.5,78.0 218.6,75.4 220.8,73.6 222.9,72.6 224.0,72.4 226.1,72.6 228.3,73.1 230.4,74.0 232.6,75.3 234.7,77.0 236.9,79.0 241.2,84.0 244.4,88.4 248.7,95.2 263.7,121.8 269.1,130.7 272.3,135.4 275.6,139.6 278.8,143.1 280.9,145.0 283.1,146.6 285.2,147.8 287.4,148.7 289.5,149.1 315.3,149.2" stroke="#4DBEEE"/>
<polyline points="80.0,149.2 136.9,149.2 138.0,149.0 144.5,144.1 148.8,141.6 150.9,140.7 153.1,140.0 156.3,139.6 158.4,139.7 160.6,140.1 162.7,140.8 164.9,141.8 169.2,144.4 174.6,148.5 175.6,148.9 189.6,125.8 193.9,118.0 198.2,109.2 207.9,87.6 212.2,79.3 215.4,74.5 217.5,72.3 219.7,70.8 221.8,70.3 224.0,70.4 226.1,71.0 228.3,72.0 230.4,73.3 232.6,75.0 234.7,77.1 239.0,82.2 242.3,86.8 246.6,93.8 261.6,121.1 267.0,130.2 270.2,135.1 273.4,139.4 276.6,143.0 278.8,145.0 280.9,146.6 283.1,147.8 285.2,148.7 287.4,149.1 315.3,149.2" stroke="#4DBEEE"/>
</g>
<path d="M80.0,20.5 L80.0,170.0 L324.0,170.0" fill="none" stroke="#4e4e4e" stroke-width="1.45"/>
<line x1="80.00" y1="149.20" x2="82.50" y2="149.20" stroke="#4e4e4e" stroke-width="1" />
<text x="73.0" y="154.2" font-size="14" fill="#505050" text-anchor="end" stroke="#505050" stroke-width="0.3">0</text>
<line x1="80.00" y1="106.54" x2="82.50" y2="106.54" stroke="#4e4e4e" stroke-width="1" />
<text x="73.0" y="111.5" font-size="14" fill="#505050" text-anchor="end" stroke="#505050" stroke-width="0.3">0.2</text>
<line x1="80.00" y1="63.88" x2="82.50" y2="63.88" stroke="#4e4e4e" stroke-width="1" />
<text x="73.0" y="68.9" font-size="14" fill="#505050" text-anchor="end" stroke="#505050" stroke-width="0.3">0.4</text>
<line x1="80.00" y1="21.22" x2="82.50" y2="21.22" stroke="#4e4e4e" stroke-width="1" />
<text x="73.0" y="26.2" font-size="14" fill="#505050" text-anchor="end" stroke="#505050" stroke-width="0.3">0.6</text>
<line x1="80.00" y1="170.00" x2="80.00" y2="167.50" stroke="#4e4e4e" stroke-width="1" />
<text x="79.2" y="186.4" font-size="14" fill="#505050" text-anchor="middle" stroke="#505050" stroke-width="0.3">80</text>
<line x1="124.40" y1="170.00" x2="124.40" y2="167.50" stroke="#4e4e4e" stroke-width="1" />
<text x="123.6" y="186.4" font-size="14" fill="#505050" text-anchor="middle" stroke="#505050" stroke-width="0.3">82</text>
<line x1="168.80" y1="170.00" x2="168.80" y2="167.50" stroke="#4e4e4e" stroke-width="1" />
<text x="168.0" y="186.4" font-size="14" fill="#505050" text-anchor="middle" stroke="#505050" stroke-width="0.3">84</text>
<line x1="213.20" y1="170.00" x2="213.20" y2="167.50" stroke="#4e4e4e" stroke-width="1" />
<text x="212.4" y="186.4" font-size="14" fill="#505050" text-anchor="middle" stroke="#505050" stroke-width="0.3">86</text>
<line x1="257.60" y1="170.00" x2="257.60" y2="167.50" stroke="#4e4e4e" stroke-width="1" />
<text x="256.8" y="186.4" font-size="14" fill="#505050" text-anchor="middle" stroke="#505050" stroke-width="0.3">88</text>
<line x1="302.00" y1="170.00" x2="302.00" y2="167.50" stroke="#4e4e4e" stroke-width="1" />
<text x="301.2" y="186.4" font-size="14" fill="#505050" text-anchor="middle" stroke="#505050" stroke-width="0.3">90</text>
<text x="201.8" y="201.8" font-size="14" fill="#505050" text-anchor="middle" stroke="#505050" stroke-width="0.3" textLength="122.0" lengthAdjust="spacingAndGlyphs">Temperature (°C)</text>
<text x="46.5" y="96.9" font-size="13.5" fill="#505050" text-anchor="middle" stroke="#505050" stroke-width="0.3" textLength="174.0" lengthAdjust="spacingAndGlyphs" transform="rotate(-90 46.5 96.9)">-d(Fluorescence)/dT (a.u.)</text>
<g fill="none" stroke-width="1.05" stroke-linejoin="round">
<polyline points="80.0,355.5 143.2,355.5 144.2,352.6 151.2,352.0 155.2,351.4 159.3,350.3 164.3,348.2 169.3,345.7 175.3,342.3 181.3,338.6 188.3,334.0 191.4,328.5 193.4,324.3 196.4,317.2 198.4,311.9 202.4,299.9 211.4,270.2 215.4,259.0 217.4,254.7 219.4,251.4 221.4,249.3 222.5,248.7 223.5,248.4 224.5,248.5 225.5,249.1 226.5,250.2 228.5,253.9 230.5,259.3 233.5,270.2 242.5,309.8 246.5,325.0 248.5,331.3 251.5,339.0 254.6,344.7 257.6,348.6 259.6,350.4 261.6,351.6 263.6,352.4 265.6,352.8 269.6,353.0 300.7,353.0 319.8,355.0" stroke="#0072BD"/>
<polyline points="80.0,355.5 163.3,355.5 164.3,355.1 166.3,354.8 168.3,354.0 172.3,351.5 177.3,347.2 183.3,340.5 188.3,334.0 191.4,328.4 195.4,319.6 199.4,309.0 202.4,299.8 210.4,273.7 214.4,262.5 217.4,256.2 219.4,253.3 221.4,251.7 222.5,251.3 223.5,251.3 224.5,251.7 225.5,252.7 226.5,254.2 228.5,258.6 230.5,264.7 233.5,276.2 241.5,311.4 244.5,323.0 246.5,329.6 248.5,335.3 250.5,340.0 252.5,343.8 253.6,345.3 255.6,347.9 256.6,348.8 258.6,350.2 259.6,350.6 261.6,351.0 263.6,351.0 270.6,350.0 274.6,349.8 307.7,349.7 319.8,352.7" stroke="#D95319"/>
<polyline points="80.0,355.5 124.1,355.4 128.2,353.9 131.2,352.5 134.2,350.8 141.2,346.4 145.2,344.5 148.2,343.8 157.2,343.4 160.3,343.0 163.3,342.4 170.3,340.3 188.3,334.0 195.4,324.1 200.4,315.6 204.4,307.9 215.4,284.9 218.4,279.4 220.4,276.1 223.5,272.0 226.5,269.1 228.5,267.8 229.5,267.4 231.5,267.0 232.5,267.1 233.5,267.5 235.5,269.4 237.5,272.5 239.5,276.7 241.5,281.8 243.5,287.7 250.5,310.4 254.6,322.2 256.6,327.1 258.6,331.2 260.6,334.4 262.6,336.8 265.6,339.5 268.6,341.6 272.6,343.8 275.6,344.9 279.6,345.9 284.6,346.6 290.7,346.9 304.7,347.1 319.8,354.8" stroke="#EDB120"/>
<polyline points="80.0,355.5 160.3,355.5 161.3,354.4 164.3,353.4 167.3,351.8 173.3,347.5 180.3,341.5 188.3,334.0 192.4,326.4 196.4,317.2 200.4,306.0 204.4,293.0 211.4,268.7 215.4,256.5 218.4,249.5 220.4,246.1 222.5,243.8 223.5,243.2 224.5,242.9 225.5,242.9 226.5,243.2 227.5,243.9 228.5,245.0 230.5,248.1 233.5,255.0 237.5,267.4 247.5,304.6 251.5,317.8 253.6,323.4 255.6,328.2 257.6,331.9 259.6,334.6 261.6,336.3 263.6,337.1 268.6,337.9 275.6,339.6 279.6,340.4 287.7,341.1 305.7,341.5 319.8,352.0" stroke="#7E2F8E"/>
<polyline points="80.0,355.5 147.2,355.5 148.2,351.9 153.2,350.4 162.3,348.7 167.3,346.8 171.3,344.8 176.3,341.9 188.3,334.0 190.3,329.2 192.4,323.4 194.4,316.7 196.4,308.9 199.4,295.6 206.4,260.7 209.4,247.9 211.4,241.5 212.4,239.1 213.4,237.3 214.4,236.2 215.4,235.7 216.4,235.8 217.4,236.4 218.4,237.5 219.4,239.1 221.4,243.7 223.5,249.9 225.5,257.5 227.5,266.0 236.5,307.4 239.5,319.3 242.5,329.3 244.5,334.8 247.5,341.5 250.5,346.5 253.6,350.3 255.6,352.4 258.6,355.0 261.6,357.2 263.6,358.4 265.6,359.2 267.6,359.7 270.6,360.2 273.6,360.4 303.7,360.6 319.8,353.9" stroke="#77AC30"/>
<polyline points="80.0,355.5 162.3,355.5 163.3,355.1 165.3,353.8 171.3,349.2 179.3,342.3 188.3,334.0 189.3,332.4 194.4,323.0 199.4,311.3 203.4,300.3 212.4,273.6 216.4,263.6 219.4,258.0 221.4,255.4 223.5,253.8 224.5,253.4 225.5,253.2 226.5,253.4 227.5,253.8 229.5,255.6 231.5,258.5 234.5,264.8 238.5,275.9 248.5,308.8 252.5,320.6 255.6,328.0 257.6,332.0 259.6,335.1 261.6,337.4 264.6,339.7 268.6,341.5 274.6,343.8 279.6,345.1 283.6,345.7 288.7,346.1 308.7,346.5 319.8,352.6" stroke="#4DBEEE"/>
<polyline points="80.0,355.5 176.3,355.5 177.3,354.7 181.3,346.6 188.3,334.0 195.4,325.3 200.4,318.3 205.4,310.2 214.4,294.7 219.4,287.0 223.5,282.0 226.5,279.3 228.5,277.9 230.5,277.0 233.5,276.4 234.5,276.5 235.5,276.9 237.5,278.6 239.5,281.2 241.5,284.8 245.5,294.2 252.5,313.4 255.6,320.8 258.6,326.8 259.6,328.3 261.6,330.7 264.6,333.0 272.6,337.5 276.6,339.3 279.6,340.3 283.6,341.1 287.7,341.6 293.7,341.9 301.7,342.0 302.7,342.2 319.8,354.4" stroke="#A2142F"/>
<polyline points="80.0,355.5 170.3,355.5 173.3,354.0 175.3,352.6 177.3,350.7 181.3,345.7 185.3,339.4 194.4,323.6 197.4,317.4 200.4,310.5 212.4,278.7 215.4,271.6 217.4,267.6 220.4,262.9 222.5,260.8 224.5,259.5 225.5,259.3 226.5,259.2 227.5,259.6 228.5,260.4 229.5,261.6 231.5,265.2 233.5,270.2 236.5,279.8 245.5,313.9 249.5,327.1 252.5,335.1 254.6,339.5 256.6,343.1 259.6,347.1 261.6,348.9 263.6,350.1 265.6,350.9 268.6,351.4 280.6,352.0 302.7,352.1 319.8,353.9" stroke="#0072BD"/>
<polyline points="80.0,355.5 144.2,355.5 149.2,353.0 159.3,347.6 174.3,341.2 188.3,334.0 193.4,324.7 196.4,317.9 198.4,312.9 202.4,301.5 212.4,270.0 216.4,259.5 218.4,255.4 220.4,252.3 222.5,250.2 223.5,249.6 224.5,249.3 225.5,249.3 226.5,249.6 227.5,250.2 228.5,251.1 230.5,253.9 233.5,260.0 235.5,265.3 238.5,274.4 246.5,301.9 250.5,314.5 252.5,319.8 254.6,324.3 255.6,326.1 257.6,329.0 259.6,331.0 262.6,332.8 271.6,337.4 274.6,338.6 277.6,339.5 281.6,340.3 286.7,340.8 293.7,341.0 306.7,341.1 307.7,341.5 319.8,351.9" stroke="#D95319"/>
<polyline points="80.0,355.5 145.2,355.5 146.2,353.8 150.2,353.7 154.2,352.9 159.3,351.1 164.3,348.8 169.3,346.2 175.3,342.7 181.3,338.8 188.3,334.0 191.4,328.1 193.4,323.7 196.4,316.0 198.4,310.2 202.4,296.9 211.4,263.8 213.4,257.3 215.4,251.6 217.4,247.0 219.4,243.6 220.4,242.4 221.4,241.5 222.5,241.1 223.5,241.0 224.5,241.4 225.5,242.3 226.5,243.8 227.5,245.7 229.5,251.1 231.5,258.1 233.5,266.3 241.5,303.7 244.5,316.4 246.5,323.9 248.5,330.4 251.5,338.4 253.6,342.5 256.6,347.1 258.6,349.2 260.6,350.7 262.6,351.6 265.6,352.3 276.6,352.6 301.7,352.6 319.8,353.7" stroke="#EDB120"/>
<polyline points="80.0,355.5 127.1,355.5 130.2,354.1 133.2,352.4 136.2,350.3 142.2,345.4 144.2,344.1 146.2,343.1 148.2,342.6 150.2,342.4 158.2,343.2 161.3,343.1 164.3,342.6 171.3,340.4 188.3,334.0 194.4,324.4 199.4,314.8 203.4,306.0 212.4,284.3 215.4,277.7 217.4,273.9 220.4,269.2 222.5,266.8 224.5,265.2 225.5,264.6 227.5,264.2 228.5,264.2 229.5,264.6 231.5,266.1 233.5,268.8 235.5,272.3 237.5,276.7 240.5,284.6 249.5,311.5 253.6,322.3 255.6,326.9 257.6,330.8 259.6,333.9 262.6,337.2 265.6,339.6 270.6,342.7 274.6,344.6 278.6,345.8 282.6,346.6 286.7,347.0 301.7,347.5 319.8,351.7" stroke="#7E2F8E"/>
<polyline points="80.0,355.5 167.3,355.5 168.3,353.3 175.3,346.9 188.3,334.0 191.4,327.9 195.4,317.9 199.4,305.4 203.4,290.6 210.4,262.6 214.4,248.9 216.4,243.6 218.4,239.6 219.4,238.1 220.4,237.1 221.4,236.4 222.5,236.2 223.5,236.3 224.5,237.0 225.5,238.2 227.5,241.8 229.5,247.2 231.5,254.0 233.5,261.9 242.5,302.4 246.5,318.3 249.5,328.0 251.5,333.3 253.6,337.4 255.6,340.5 257.6,342.3 258.6,342.9 260.6,343.2 266.6,342.0 269.6,341.7 284.6,342.0 304.7,342.0 319.8,354.1" stroke="#77AC30"/>
<polyline points="80.0,355.5 128.2,355.5 136.2,354.2 149.2,351.2 154.2,349.7 160.3,347.5 167.3,344.6 174.3,341.4 181.3,337.8 188.3,334.0 191.4,329.2 194.4,323.9 199.4,313.6 203.4,303.9 212.4,280.2 215.4,273.0 217.4,268.8 220.4,263.7 222.5,261.1 224.5,259.4 225.5,258.9 227.5,258.5 228.5,258.7 229.5,259.2 231.5,261.0 233.5,264.0 235.5,267.9 237.5,272.7 239.5,278.2 249.5,310.0 254.6,324.2 257.6,331.1 259.6,334.9 261.6,337.9 263.6,340.3 266.6,342.9 270.6,345.6 274.6,347.5 279.6,349.0 283.6,349.6 288.7,350.1 305.7,350.4 319.8,352.4" stroke="#4DBEEE"/>
<polyline points="80.0,355.5 162.3,355.5 163.3,351.4 166.3,350.7 169.3,349.6 172.3,348.1 174.3,346.8 177.3,344.6 180.3,342.0 188.3,334.0 193.4,326.4 198.4,317.4 202.4,309.3 212.4,287.1 216.4,279.6 219.4,275.1 221.4,272.9 223.5,271.4 224.5,270.9 226.5,270.4 227.5,270.5 228.5,271.0 229.5,271.9 231.5,274.8 233.5,279.1 235.5,284.6 237.5,290.9 244.5,315.5 248.5,328.0 251.5,335.7 253.6,339.7 255.6,342.9 257.6,345.3 259.6,346.7 260.6,347.1 262.6,347.5 271.6,346.9 307.7,347.0 308.7,347.4 319.8,355.0" stroke="#A2142F"/>
<polyline points="80.0,355.5 147.2,355.5 148.2,353.4 151.2,353.7 155.2,353.1 159.3,351.8 165.3,349.0 170.3,346.2 176.3,342.5 182.3,338.4 188.3,334.0 191.4,328.0 193.4,323.3 196.4,315.3 198.4,309.2 202.4,295.2 210.4,264.2 214.4,250.9 216.4,245.7 218.4,241.7 220.4,239.3 221.4,238.6 222.5,238.3 223.5,238.4 224.5,238.8 226.5,240.6 228.5,243.6 231.5,250.1 233.5,255.6 236.5,265.2 247.5,304.9 252.5,320.8 256.6,331.3 260.6,340.2 264.6,347.5 267.6,351.7 269.6,353.9 271.6,355.6 273.6,356.8 276.6,358.2 279.6,359.1 282.6,359.7 290.7,360.3 300.7,360.5 319.8,353.9" stroke="#0072BD"/>
<polyline points="80.0,355.5 134.2,355.5 138.2,354.5 142.2,352.9 151.2,347.7 155.2,345.8 159.3,344.7 167.3,343.2 171.3,342.0 178.3,339.0 188.3,334.0 194.4,324.6 199.4,315.3 203.4,306.6 212.4,285.5 215.4,279.1 217.4,275.3 220.4,270.6 223.5,267.2 225.5,265.9 226.5,265.5 228.5,265.2 229.5,265.6 230.5,266.3 231.5,267.4 233.5,270.7 235.5,275.3 237.5,280.9 239.5,287.3 246.5,312.1 250.5,324.8 252.5,330.2 254.6,334.7 256.6,338.3 258.6,340.8 260.6,342.3 261.6,342.7 263.6,343.1 268.6,343.2 282.6,344.1 305.7,344.3 319.8,352.3" stroke="#D95319"/>
<polyline points="80.0,355.5 155.2,355.5 156.2,351.4 160.3,349.6 168.3,346.8 172.3,344.9 178.3,341.2 188.3,334.0 191.4,328.2 193.4,323.8 196.4,316.2 198.4,310.5 203.4,293.7 212.4,260.0 214.4,253.4 216.4,247.6 218.4,242.9 220.4,239.5 221.4,238.2 222.5,237.3 223.5,236.8 224.5,236.7 225.5,237.0 226.5,237.9 227.5,239.3 228.5,241.4 230.5,246.9 232.5,254.2 234.5,262.8 242.5,302.1 246.5,319.4 249.5,329.8 251.5,335.3 253.6,339.7 255.6,343.0 257.6,345.1 258.6,345.8 260.6,346.4 262.6,346.3 268.6,345.2 271.6,345.0 302.7,344.9 303.7,345.1 319.8,351.5" stroke="#EDB120"/>
<polyline points="80.0,355.5 163.3,355.5 164.3,354.1 168.3,352.2 173.3,348.7 176.3,346.2 180.3,342.4 188.3,334.0 192.4,326.2 196.4,316.7 200.4,305.0 203.4,295.1 211.4,266.8 215.4,254.8 217.4,250.1 219.4,246.5 221.4,244.1 222.5,243.4 223.5,243.1 224.5,243.1 225.5,243.6 226.5,244.6 228.5,247.9 230.5,252.9 232.5,259.4 234.5,267.0 243.5,306.3 247.5,321.5 249.5,327.8 251.5,333.1 253.6,337.3 255.6,340.3 257.6,342.1 259.6,342.8 261.6,342.7 266.6,341.7 269.6,341.5 302.7,341.9 319.8,354.9" stroke="#7E2F8E"/>
<polyline points="80.0,355.5 132.2,355.5 136.2,355.0 139.2,354.3 142.2,353.3 154.2,348.1 165.3,345.1 170.3,343.3 178.3,339.5 188.3,334.0 191.4,329.0 194.4,323.4 199.4,312.4 203.4,302.0 212.4,276.8 216.4,267.3 219.4,261.8 221.4,259.1 223.5,257.4 224.5,256.8 225.5,256.6 226.5,256.6 227.5,256.9 228.5,257.7 229.5,258.8 231.5,262.3 233.5,267.1 235.5,273.1 237.5,279.9 245.5,310.3 248.5,320.6 250.5,326.8 253.6,334.6 255.6,338.9 257.6,342.4 260.6,346.3 262.6,348.0 265.6,349.5 268.6,350.4 273.6,351.1 282.6,351.6 301.7,351.8 319.8,353.1" stroke="#77AC30"/>
<polyline points="80.0,355.5 150.2,355.5 151.2,351.1 159.3,348.9 164.3,346.9 169.3,344.4 188.3,334.0 195.4,324.5 200.4,316.6 204.4,309.3 214.4,290.0 219.4,281.6 222.5,277.6 225.5,274.6 228.5,272.7 230.5,272.1 231.5,272.0 232.5,272.1 233.5,272.5 235.5,274.1 237.5,276.8 239.5,280.4 241.5,284.9 243.5,290.0 251.5,313.2 255.6,323.8 257.6,328.3 259.6,332.1 261.6,335.0 263.6,337.2 265.6,338.7 269.6,341.0 273.6,343.0 277.6,344.4 281.6,345.3 286.7,346.0 292.7,346.3 302.7,346.4 319.8,352.8" stroke="#4DBEEE"/>
<polyline points="80.0,355.5 146.2,355.5 147.2,354.1 152.2,351.4 156.2,349.6 165.3,346.1 170.3,343.9 177.3,340.3 188.3,334.0 191.4,327.6 193.4,322.6 197.4,310.7 201.4,296.2 209.4,263.6 211.4,256.2 213.4,249.9 215.4,244.7 217.4,241.1 218.4,239.9 219.4,239.2 220.4,238.9 221.4,239.0 222.5,239.5 223.5,240.4 224.5,241.6 226.5,245.2 228.5,250.0 230.5,256.0 232.5,262.8 242.5,302.3 247.5,319.9 250.5,328.6 253.6,335.7 255.6,339.5 258.6,343.9 259.6,345.0 261.6,346.7 263.6,347.8 265.6,348.3 282.6,349.2 300.7,349.4 319.8,355.4" stroke="#A2142F"/>
<polyline points="80.0,355.5 168.3,355.5 188.3,334.0 190.3,330.5 193.4,324.5 195.4,320.0 199.4,309.8 203.4,298.1 210.4,276.1 214.4,265.1 217.4,258.9 219.4,255.9 221.4,254.0 222.5,253.5 223.5,253.3 224.5,253.4 225.5,253.9 226.5,254.7 227.5,255.9 229.5,259.2 231.5,263.7 233.5,269.2 235.5,275.5 244.5,307.6 249.5,323.6 252.5,331.4 254.6,335.7 257.6,340.9 259.6,343.3 260.6,344.3 262.6,345.6 264.6,346.4 266.6,346.8 275.6,347.8 281.6,348.3 303.7,348.6 319.8,352.0" stroke="#0072BD"/>
<polyline points="80.0,355.5 156.2,355.5 158.2,354.8 161.3,353.2 166.3,350.0 172.3,345.9 188.3,334.0 194.4,325.3 199.4,316.9 204.4,307.0 213.4,288.0 216.4,282.2 218.4,278.8 221.4,274.6 224.5,271.5 226.5,270.1 227.5,269.7 229.5,269.3 230.5,269.4 231.5,269.9 232.5,270.7 234.5,273.5 236.5,277.4 238.5,282.5 240.5,288.4 248.5,315.1 252.5,327.0 254.6,331.9 256.6,336.0 258.6,339.2 259.6,340.4 261.6,341.9 263.6,342.5 265.6,342.3 270.6,341.1 273.6,340.9 302.7,341.4 319.8,352.1" stroke="#D95319"/>
<polyline points="80.0,355.5 161.3,355.5 162.3,354.8 164.3,352.5 166.3,350.6 172.3,345.6 179.3,340.3 188.3,334.0 194.4,326.2 199.4,318.9 203.4,312.3 213.4,294.9 218.4,287.5 221.4,284.0 224.5,281.4 227.5,279.9 229.5,279.5 230.5,279.6 231.5,279.9 232.5,280.6 234.5,283.0 236.5,286.6 238.5,291.2 240.5,296.6 248.5,320.9 252.5,331.7 254.6,336.1 256.6,339.8 258.6,342.7 260.6,344.8 262.6,345.9 264.6,346.3 273.6,345.5 301.7,345.7 319.8,353.1" stroke="#EDB120"/>
<polyline points="80.0,355.5 130.2,355.5 133.2,353.9 142.2,349.5 151.2,344.8 155.2,343.1 159.3,341.9 171.3,339.4 188.3,334.0 191.4,328.0 193.4,323.3 196.4,315.3 198.4,309.3 202.4,295.6 209.4,269.4 213.4,256.4 215.4,251.3 217.4,247.5 219.4,245.0 220.4,244.4 221.4,244.1 222.5,244.3 223.5,245.1 224.5,246.5 226.5,251.0 228.5,257.4 231.5,270.0 240.5,313.4 243.5,325.4 245.5,332.1 247.5,337.8 250.5,344.3 252.5,347.7 255.6,351.4 262.6,358.1 266.6,361.1 268.6,362.2 270.6,362.9 273.6,363.5 276.6,363.7 304.7,363.9 305.7,363.6 319.8,354.9" stroke="#7E2F8E"/>
<polyline points="80.0,355.5 152.2,355.5 153.2,352.3 160.3,351.5 164.3,350.5 166.3,349.8 169.3,348.4 174.3,345.4 181.3,340.1 188.3,334.0 190.3,330.7 195.4,321.1 199.4,311.8 203.4,301.2 211.4,278.3 214.4,270.6 216.4,266.1 219.4,260.9 221.4,258.4 223.5,257.0 224.5,256.6 225.5,256.5 226.5,256.8 227.5,257.4 229.5,259.7 231.5,263.4 233.5,268.2 237.5,280.7 247.5,316.5 250.5,325.7 253.6,333.6 255.6,338.1 258.6,343.7 261.6,348.1 264.6,351.6 266.6,353.4 269.6,355.4 272.6,356.6 275.6,357.3 279.6,357.8 283.6,358.1 301.7,358.2 302.7,358.1 319.8,351.2" stroke="#77AC30"/>
<polyline points="80.0,355.5 129.2,355.5 133.2,355.0 139.2,353.4 144.2,351.2 148.2,348.6 155.2,343.3 158.2,341.7 160.3,341.0 162.3,340.7 170.3,340.6 174.3,340.0 177.3,339.0 180.3,337.8 188.3,334.0 191.4,328.4 193.4,324.1 197.4,314.4 201.4,302.8 210.4,274.0 212.4,268.3 214.4,263.3 216.4,259.2 218.4,256.1 220.4,254.3 221.4,253.8 222.5,253.7 223.5,253.9 224.5,254.4 226.5,256.4 228.5,259.6 230.5,264.0 232.5,269.2 234.5,275.3 244.5,309.7 248.5,322.0 251.5,329.9 253.6,334.3 256.6,339.6 258.6,342.2 260.6,343.9 261.6,344.4 263.6,344.7 265.6,344.3 270.6,342.2 272.6,341.7 274.6,341.4 302.7,341.6 303.7,342.1 319.8,353.6" stroke="#4DBEEE"/>
<polyline points="80.0,355.5 147.2,355.5 148.2,350.4 152.2,347.6 154.2,346.7 156.2,346.1 164.3,345.4 166.3,345.0 169.3,344.1 172.3,342.9 176.3,340.8 188.3,334.0 191.4,328.1 193.4,323.6 196.4,315.8 198.4,310.0 202.4,296.7 210.4,267.9 212.4,261.5 214.4,255.9 216.4,251.4 218.4,248.1 219.4,246.9 220.4,246.1 221.4,245.7 222.5,245.6 223.5,245.9 224.5,246.6 226.5,248.9 228.5,252.6 231.5,260.2 235.5,273.3 243.5,303.3 246.5,313.8 249.5,323.2 252.5,331.5 255.6,338.7 259.6,346.8 262.6,351.9 265.6,355.8 267.6,357.7 270.6,359.6 273.6,360.8 276.6,361.5 280.6,362.0 285.7,362.3 304.7,362.5 305.7,362.1 319.8,352.4" stroke="#A2142F"/>
<polyline points="80.0,355.5 150.2,355.5 151.2,353.4 158.2,350.9 168.3,347.8 171.3,346.5 174.3,344.9 180.3,340.7 188.3,334.0 193.4,325.8 198.4,316.2 202.4,307.3 211.4,285.9 215.4,277.9 218.4,273.3 220.4,271.1 222.5,269.7 224.5,269.1 225.5,269.2 226.5,269.5 228.5,271.2 230.5,274.0 232.5,278.0 234.5,282.8 236.5,288.3 245.5,316.3 249.5,327.4 252.5,334.2 254.6,338.0 256.6,341.0 258.6,343.2 260.6,344.7 263.6,346.1 267.6,347.1 272.6,348.1 277.6,348.7 282.6,349.0 300.7,349.2 319.8,353.0" stroke="#0072BD"/>
<polyline points="80.0,355.5 138.2,355.5 143.2,354.1 153.2,350.0 167.3,344.7 176.3,340.5 188.3,334.0 191.4,328.2 193.4,323.8 196.4,316.3 198.4,310.5 202.4,297.4 211.4,264.3 215.4,251.6 218.4,244.6 220.4,241.4 221.4,240.3 222.5,239.5 223.5,239.1 224.5,239.1 225.5,239.5 226.5,240.4 227.5,241.8 229.5,245.8 231.5,251.3 233.5,258.1 235.5,265.9 244.5,305.2 248.5,320.4 251.5,329.7 253.6,334.9 256.6,340.9 258.6,343.8 259.6,344.9 261.6,346.4 262.6,346.9 264.6,347.1 266.6,346.8 271.6,345.5 275.6,345.0 300.7,345.0 319.8,352.3" stroke="#D95319"/>
<polyline points="80.0,355.5 135.2,355.5 136.2,354.6 139.2,352.5 147.2,346.4 149.2,345.1 151.2,344.2 154.2,343.4 162.3,343.0 167.3,342.1 173.3,340.1 188.3,334.0 191.4,327.2 193.4,321.8 197.4,308.7 201.4,292.6 208.4,261.6 211.4,250.1 213.4,244.0 215.4,239.6 216.4,238.1 217.4,237.1 218.4,236.6 219.4,236.6 220.4,236.9 221.4,237.7 222.5,238.7 224.5,241.9 227.5,248.9 229.5,254.9 231.5,261.7 241.5,300.3 246.5,317.6 249.5,326.2 251.5,331.1 254.6,336.9 256.6,339.6 258.6,341.4 259.6,341.9 261.6,342.3 263.6,342.1 267.6,341.3 270.6,341.1 284.6,341.9 304.7,342.1 305.7,342.2 319.8,352.0" stroke="#EDB120"/>
<polyline points="80.0,355.5 162.3,355.5 164.3,355.1 166.3,354.4 168.3,353.4 171.3,351.5 174.3,349.2 177.3,346.5 183.3,340.2 188.3,334.0 192.4,327.2 196.4,319.3 200.4,309.8 204.4,298.9 213.4,272.3 217.4,262.1 220.4,256.1 222.5,253.1 224.5,251.0 225.5,250.3 227.5,249.7 228.5,249.8 229.5,250.3 230.5,251.3 232.5,254.6 234.5,259.4 236.5,265.5 238.5,272.6 248.5,313.2 251.5,323.8 253.6,330.2 256.6,338.5 260.6,347.9 263.6,353.6 266.6,357.9 268.6,359.8 270.6,361.2 273.6,362.5 276.6,363.3 279.6,363.7 284.6,363.9 303.7,364.1 319.8,353.0" stroke="#7E2F8E"/>
<polyline points="80.0,355.5 154.2,355.5 155.2,353.6 159.3,350.9 173.3,342.4 188.3,334.0 194.4,325.1 199.4,316.4 204.4,306.2 213.4,286.3 216.4,280.3 218.4,276.7 221.4,272.2 224.5,269.0 226.5,267.5 227.5,267.1 229.5,266.7 230.5,266.7 231.5,267.2 232.5,268.0 234.5,270.5 236.5,274.3 238.5,279.2 240.5,284.9 248.5,311.1 252.5,322.8 254.6,327.5 256.6,331.3 257.6,332.8 259.6,335.1 262.6,337.2 267.6,339.6 271.6,341.2 275.6,342.3 279.6,343.0 284.6,343.4 300.7,343.6 319.8,352.1" stroke="#77AC30"/>
<polyline points="80.0,355.5 124.1,355.5 125.1,355.4 139.2,350.0 143.2,348.0 150.2,344.2 154.2,342.4 158.2,341.3 166.3,340.3 171.3,339.3 177.3,337.6 188.3,334.0 194.4,325.7 199.4,317.6 204.4,308.4 213.4,290.6 218.4,282.0 221.4,277.9 224.5,274.9 226.5,273.6 227.5,273.2 229.5,272.7 230.5,272.7 231.5,272.9 233.5,274.4 235.5,276.9 237.5,280.5 239.5,284.9 241.5,290.1 249.5,313.4 252.5,321.5 254.6,326.1 256.6,329.9 257.6,331.5 259.6,333.8 260.6,334.6 262.6,335.6 274.6,339.1 279.6,340.2 287.7,340.9 304.7,341.1 319.8,351.8" stroke="#4DBEEE"/>
<polyline points="80.0,355.5 149.2,355.5 150.2,350.6 153.2,351.7 155.2,352.1 157.2,352.3 159.3,352.2 161.3,351.9 164.3,350.9 169.3,348.4 173.3,345.9 178.3,342.3 183.3,338.4 188.3,334.0 194.4,325.2 199.4,316.6 203.4,308.7 212.4,289.8 215.4,284.1 217.4,280.7 220.4,276.5 223.5,273.5 225.5,272.3 226.5,271.9 228.5,271.6 229.5,271.8 230.5,272.3 232.5,274.1 234.5,277.0 236.5,280.8 240.5,290.6 250.5,319.7 253.6,327.8 256.6,335.1 261.6,346.3 264.6,352.3 267.6,357.1 270.6,360.3 272.6,361.8 274.6,362.9 277.6,363.9 280.6,364.5 288.7,365.2 304.7,365.4 319.8,351.5" stroke="#A2142F"/>
<polyline points="80.0,355.5 139.2,355.5 141.2,355.1 144.2,354.3 147.2,353.2 159.3,347.4 169.3,344.1 173.3,342.6 180.3,338.9 188.3,334.0 191.4,327.8 193.4,322.9 196.4,314.5 198.4,308.0 202.4,293.2 210.4,260.6 212.4,253.3 214.4,247.0 216.4,241.9 218.4,238.2 219.4,237.0 220.4,236.2 221.4,235.8 222.5,235.8 223.5,236.3 224.5,237.1 225.5,238.4 227.5,242.0 230.5,250.0 234.5,264.3 242.5,297.6 245.5,309.3 248.5,319.9 251.5,328.9 254.6,336.3 257.6,342.4 261.6,349.0 266.6,355.9 269.6,359.0 271.6,360.5 273.6,361.5 276.6,362.5 279.6,363.0 284.6,363.4 303.7,363.5 304.7,363.1 319.8,352.2" stroke="#0072BD"/>
<polyline points="80.0,355.5 158.2,355.5 162.3,354.6 164.3,353.8 167.3,352.2 172.3,349.0 177.3,345.0 182.3,340.3 188.3,334.0 194.4,325.1 199.4,316.4 203.4,308.4 212.4,289.3 215.4,283.6 217.4,280.3 220.4,276.1 222.5,274.1 224.5,272.6 225.5,272.1 227.5,271.6 228.5,271.7 229.5,272.1 230.5,272.9 232.5,275.6 234.5,279.6 236.5,284.7 238.5,290.7 246.5,317.5 249.5,326.5 251.5,331.7 253.6,336.2 255.6,339.7 257.6,342.2 258.6,343.1 259.6,343.6 260.6,343.8 261.6,343.7 262.6,343.3 264.6,341.9 267.6,339.1 269.6,337.5 271.6,336.4 274.6,335.5 280.6,335.1 303.7,335.1 304.7,335.5 319.8,354.6" stroke="#D95319"/>
<polyline points="80.0,355.5 160.3,355.5 162.3,354.7 166.3,352.3 171.3,348.6 176.3,344.6 188.3,334.0 192.4,325.5 196.4,314.7 199.4,304.9 202.4,293.8 209.4,265.7 213.4,251.6 215.4,246.0 217.4,241.8 219.4,239.0 220.4,238.2 221.4,237.9 222.5,237.9 223.5,238.5 224.5,239.5 225.5,240.9 227.5,245.1 229.5,250.9 231.5,257.9 233.5,265.8 241.5,301.2 244.5,313.3 246.5,320.5 249.5,329.7 251.5,334.6 253.6,338.5 255.6,341.4 256.6,342.4 258.6,343.7 259.6,344.1 261.6,344.4 267.6,344.3 281.6,345.0 307.7,345.1 308.7,345.3 319.8,353.6" stroke="#EDB120"/>
<polyline points="80.0,355.5 177.3,355.5 178.3,355.0 180.3,352.5 183.3,346.9 185.3,342.2 188.3,334.0 192.4,326.1 196.4,316.3 198.4,310.6 201.4,301.0 212.4,261.4 214.4,255.1 216.4,249.8 218.4,245.5 220.4,242.5 221.4,241.5 222.5,240.8 223.5,240.5 224.5,240.5 225.5,241.0 226.5,241.8 227.5,243.0 229.5,246.5 231.5,251.3 233.5,257.3 235.5,264.1 245.5,303.5 248.5,314.4 250.5,320.9 253.6,329.4 255.6,334.2 258.6,339.8 261.6,343.8 264.6,346.5 268.6,348.9 272.6,350.3 277.6,351.4 281.6,351.8 287.7,352.1 306.7,352.2 319.8,352.6" stroke="#7E2F8E"/>
<polyline points="80.0,355.5 151.2,355.4 157.2,352.7 165.3,348.3 175.3,342.3 186.3,335.3 188.3,334.0 189.3,332.5 193.4,325.9 197.4,318.2 202.4,306.9 213.4,278.7 217.4,270.1 220.4,265.1 222.5,262.6 224.5,261.0 225.5,260.4 227.5,260.1 228.5,260.2 229.5,260.7 231.5,262.7 233.5,265.8 235.5,269.9 237.5,274.9 239.5,280.6 249.5,312.9 253.6,324.4 256.6,331.4 258.6,335.3 260.6,338.3 262.6,340.7 265.6,343.1 269.6,345.4 273.6,347.0 278.6,348.3 282.6,348.9 287.7,349.3 302.7,349.5 319.8,352.1" stroke="#77AC30"/>
<polyline points="80.0,355.5 121.1,355.5 137.2,350.3 150.2,344.8 154.2,343.4 170.3,339.7 188.3,334.0 191.4,328.0 193.4,323.4 196.4,315.5 198.4,309.5 202.4,295.9 209.4,270.0 213.4,257.2 215.4,252.1 217.4,248.3 219.4,245.8 220.4,245.2 221.4,244.9 222.5,245.0 223.5,245.6 224.5,246.6 226.5,250.0 228.5,255.0 230.5,261.4 232.5,268.9 241.5,307.2 245.5,322.1 248.5,331.2 250.5,336.2 252.5,340.2 254.6,343.4 255.6,344.7 256.6,345.7 258.6,347.1 259.6,347.5 261.6,347.7 268.6,346.5 272.6,346.2 307.7,346.2 308.7,346.3 319.8,351.3" stroke="#4DBEEE"/>
<polyline points="80.0,355.5 163.3,355.5 166.3,352.1 172.3,346.6 179.3,340.9 188.3,334.0 191.4,327.5 193.4,322.3 197.4,310.1 201.4,295.2 208.4,266.9 210.4,259.6 212.4,253.4 214.4,248.5 216.4,245.2 217.4,244.2 218.4,243.7 219.4,243.6 220.4,243.9 221.4,244.6 223.5,247.2 225.5,251.1 227.5,256.3 231.5,269.5 240.5,304.6 245.5,321.8 248.5,330.2 250.5,334.9 253.6,340.7 256.6,345.0 258.6,347.0 260.6,348.4 262.6,349.3 264.6,349.8 280.6,350.6 307.7,350.8 308.7,350.8 319.8,353.2" stroke="#A2142F"/>
<polyline points="80.0,355.5 155.2,355.5 156.2,354.6 163.3,350.4 188.3,334.0 194.4,326.6 199.4,319.7 204.4,311.9 214.4,295.1 217.4,290.5 220.4,286.6 223.5,283.3 226.5,280.9 229.5,279.5 232.5,279.1 233.5,279.3 235.5,280.6 237.5,282.9 239.5,286.1 241.5,290.1 243.5,294.8 251.5,316.2 254.6,323.5 257.6,329.4 259.6,332.4 261.6,334.6 264.6,336.9 270.6,340.4 274.6,342.3 278.6,343.5 282.6,344.3 287.7,344.7 305.7,345.0 306.7,345.5 319.8,355.4" stroke="#0072BD"/>
<polyline points="80.0,355.5 162.3,355.5 163.3,354.1 166.3,353.1 169.3,351.3 175.3,346.7 182.3,340.2 188.3,334.0 190.3,330.8 195.4,321.4 199.4,312.5 203.4,302.2 212.4,277.4 216.4,268.1 219.4,262.7 221.4,260.2 223.5,258.5 225.5,257.8 226.5,257.9 227.5,258.2 229.5,259.8 231.5,262.5 234.5,268.6 238.5,279.6 247.5,308.8 250.5,317.8 252.5,323.1 254.6,327.6 256.6,331.3 258.6,334.0 260.6,335.8 262.6,337.0 271.6,340.5 276.6,342.0 280.6,342.7 285.7,343.2 301.7,343.5 302.7,343.7 319.8,352.7" stroke="#D95319"/>
<polyline points="80.0,355.5 176.3,355.5 177.3,354.0 188.3,334.0 192.4,327.3 197.4,317.3 200.4,310.2 203.4,302.4 213.4,274.1 216.4,266.7 218.4,262.5 221.4,257.4 223.5,255.1 225.5,253.7 227.5,253.3 228.5,253.6 229.5,254.3 230.5,255.4 232.5,258.9 234.5,263.9 236.5,270.1 238.5,277.2 245.5,305.1 249.5,319.7 251.5,325.8 253.6,331.0 255.6,335.2 257.6,338.2 259.6,340.1 261.6,341.3 264.6,342.2 272.6,343.8 277.6,344.4 282.6,344.6 301.7,344.7 319.8,355.5" stroke="#EDB120"/>
<polyline points="80.0,355.5 170.3,355.5 172.3,354.7 174.3,353.3 176.3,351.4 179.3,347.9 184.3,340.8 189.3,332.2 193.4,323.7 197.4,313.3 200.4,304.0 203.4,293.6 210.4,267.6 214.4,254.5 217.4,247.0 219.4,243.4 221.4,241.2 222.5,240.6 223.5,240.4 224.5,240.6 225.5,241.1 226.5,242.1 227.5,243.3 229.5,246.9 231.5,251.8 233.5,257.7 235.5,264.6 245.5,303.5 249.5,317.3 251.5,323.2 253.6,328.2 255.6,332.2 257.6,335.2 259.6,337.1 262.6,338.7 270.6,341.3 275.6,342.5 280.6,343.2 285.7,343.5 303.7,343.7 319.8,353.0" stroke="#7E2F8E"/>
<polyline points="80.0,355.5 129.2,355.5 130.2,353.1 138.2,349.0 140.2,348.3 143.2,348.0 150.2,348.8 153.2,348.8 156.2,348.5 159.3,347.8 165.3,345.5 172.3,342.4 180.3,338.4 188.3,334.0 191.4,327.7 193.4,322.9 196.4,314.4 198.4,308.0 202.4,293.2 209.4,265.0 211.4,257.7 213.4,251.2 215.4,245.8 217.4,241.9 218.4,240.5 219.4,239.5 220.4,238.9 221.4,238.8 222.5,239.0 223.5,239.7 225.5,242.0 227.5,245.6 229.5,250.5 231.5,256.4 234.5,266.7 243.5,301.6 247.5,315.5 250.5,324.3 252.5,329.2 254.6,333.1 256.6,336.0 258.6,337.8 260.6,338.6 267.6,338.9 278.6,340.5 288.7,341.0 307.7,341.1 319.8,354.1" stroke="#77AC30"/>
<polyline points="80.0,355.5 168.3,355.5 170.3,354.9 172.3,353.8 174.3,352.3 176.3,350.4 178.3,348.3 181.3,344.6 185.3,338.9 192.4,327.7 196.4,320.4 200.4,312.0 204.4,302.3 213.4,279.3 217.4,270.5 220.4,265.3 222.5,262.6 224.5,260.8 225.5,260.1 227.5,259.5 228.5,259.5 229.5,259.7 231.5,261.2 233.5,263.7 236.5,269.4 240.5,279.8 250.5,311.0 254.6,322.1 256.6,326.7 258.6,330.6 260.6,333.7 263.6,337.1 267.6,340.4 271.6,343.1 274.6,344.6 278.6,346.1 282.6,346.9 287.7,347.5 303.7,347.9 319.8,352.7" stroke="#4DBEEE"/>
<polyline points="80.0,355.5 138.2,355.5 139.2,353.9 141.2,352.6 144.2,351.2 156.2,346.6 173.3,339.8 188.3,334.0 193.4,325.3 198.4,314.8 202.4,304.8 211.4,280.2 214.4,272.9 216.4,268.7 219.4,263.8 221.4,261.5 223.5,260.2 224.5,259.9 225.5,259.8 226.5,260.1 227.5,260.7 228.5,261.6 230.5,264.5 232.5,268.5 234.5,273.6 236.5,279.5 246.5,313.3 250.5,325.3 253.6,332.6 255.6,336.5 257.6,339.6 259.6,341.7 261.6,343.1 263.6,343.9 272.6,345.4 277.6,346.1 287.7,346.6 307.7,346.6 319.8,351.7" stroke="#A2142F"/>
<polyline points="80.0,355.5 161.3,355.5 165.3,351.3 171.3,346.3 179.3,340.3 188.3,334.0 191.4,327.6 193.4,322.7 197.4,310.9 201.4,296.5 209.4,264.4 211.4,257.3 213.4,251.1 215.4,246.2 217.4,242.7 218.4,241.6 219.4,241.0 220.4,240.7 221.4,241.0 222.5,241.7 223.5,242.8 225.5,246.5 227.5,251.7 229.5,258.4 231.5,266.0 240.5,305.2 244.5,320.5 247.5,330.0 249.5,335.2 252.5,341.4 255.6,345.8 257.6,347.8 260.6,349.7 263.6,350.7 266.6,351.3 271.6,351.9 277.6,352.2 304.7,352.4 319.8,355.3" stroke="#0072BD"/>
<polyline points="80.0,355.5 130.2,355.5 131.2,355.3 135.2,354.3 140.2,352.6 155.2,346.1 166.3,342.9 171.3,341.2 178.3,338.4 188.3,334.0 193.4,324.6 196.4,317.7 198.4,312.6 202.4,301.1 212.4,269.0 214.4,263.3 216.4,258.3 218.4,254.2 220.4,251.1 222.5,249.0 223.5,248.5 224.5,248.2 225.5,248.2 226.5,248.6 227.5,249.4 228.5,250.5 230.5,253.7 232.5,258.2 234.5,263.6 236.5,270.0 246.5,306.6 251.5,322.9 254.6,330.9 256.6,335.3 258.6,339.1 261.6,343.3 263.6,345.3 266.6,347.2 270.6,348.7 275.6,349.9 279.6,350.4 284.6,350.8 301.7,351.1 319.8,354.0" stroke="#D95319"/>
<polyline points="80.0,355.5 150.2,355.5 151.2,349.2 153.2,348.5 155.2,348.1 163.3,347.4 167.3,346.2 170.3,344.9 174.3,342.7 188.3,334.0 194.4,326.2 199.4,318.9 203.4,312.4 213.4,295.2 218.4,287.8 221.4,284.4 224.5,281.9 227.5,280.4 229.5,280.1 230.5,280.1 231.5,280.5 233.5,282.0 235.5,284.5 237.5,288.0 239.5,292.4 241.5,297.3 249.5,319.4 253.6,329.3 255.6,333.5 257.6,336.9 259.6,339.5 260.6,340.3 261.6,341.0 262.6,341.3 264.6,341.2 266.6,340.4 269.6,338.8 271.6,338.0 273.6,337.5 275.6,337.3 290.7,337.6 307.7,337.7 308.7,338.7 319.8,353.1" stroke="#EDB120"/>
<polyline points="80.0,355.5 166.3,355.5 167.3,353.0 171.3,350.5 175.3,347.2 180.3,342.4 187.3,335.1 188.3,334.0 190.3,330.1 193.4,323.4 195.4,318.2 199.4,306.1 203.4,291.8 210.4,264.8 214.4,251.6 216.4,246.5 218.4,242.6 220.4,240.2 221.4,239.5 222.5,239.3 223.5,239.4 224.5,239.9 225.5,240.7 226.5,241.9 228.5,245.4 230.5,250.1 232.5,255.9 235.5,266.2 244.5,301.2 249.5,318.6 252.5,327.1 254.6,331.8 256.6,335.7 258.6,338.7 260.6,340.8 261.6,341.5 263.6,342.6 268.6,344.3 274.6,345.8 279.6,346.6 285.7,347.0 307.7,347.2 319.8,351.4" stroke="#7E2F8E"/>
<polyline points="80.0,355.5 154.2,355.5 155.2,353.3 158.2,351.2 174.3,341.6 188.3,334.0 194.4,325.0 199.4,316.1 203.4,308.0 212.4,288.2 215.4,282.2 217.4,278.7 220.4,274.3 223.5,271.1 225.5,269.8 226.5,269.4 228.5,269.1 229.5,269.3 230.5,270.0 231.5,271.0 233.5,274.0 235.5,278.3 237.5,283.6 239.5,289.8 246.5,313.4 249.5,322.5 251.5,327.8 253.6,332.0 255.6,335.0 256.6,336.1 257.6,336.8 258.6,337.2 259.6,337.4 261.6,337.2 265.6,336.3 267.6,336.2 281.6,337.1 300.7,337.3 319.8,354.4" stroke="#77AC30"/>
<polyline points="80.0,355.5 141.2,355.5 142.2,352.3 146.2,350.8 149.2,350.0 152.2,349.6 159.3,349.1 162.3,348.5 165.3,347.5 169.3,345.7 174.3,343.0 180.3,339.4 186.3,335.4 188.3,334.0 190.3,330.9 194.4,323.8 198.4,315.5 203.4,303.3 213.4,276.1 216.4,268.9 218.4,264.8 221.4,260.0 223.5,257.7 225.5,256.3 227.5,255.9 228.5,256.1 229.5,256.6 230.5,257.6 232.5,260.6 234.5,264.9 236.5,270.5 238.5,276.9 248.5,313.7 253.6,329.7 256.6,337.8 259.6,344.8 262.6,350.6 265.6,354.8 267.6,356.8 269.6,358.3 271.6,359.4 274.6,360.4 277.6,361.0 280.6,361.4 290.7,361.8 307.7,361.8 319.8,355.4" stroke="#4DBEEE"/>
<polyline points="80.0,355.5 146.2,355.5 147.2,348.8 148.2,348.3 150.2,347.6 157.2,346.6 162.3,345.2 188.3,334.0 191.4,327.8 193.4,323.1 197.4,311.8 201.4,298.2 209.4,267.8 211.4,260.9 213.4,254.9 215.4,250.0 217.4,246.4 218.4,245.2 219.4,244.4 220.4,244.0 221.4,244.0 222.5,244.4 223.5,245.4 225.5,248.8 227.5,253.9 229.5,260.5 231.5,268.2 240.5,307.8 244.5,323.0 247.5,332.1 249.5,337.0 251.5,340.8 253.6,343.7 255.6,345.5 256.6,346.0 258.6,346.4 260.6,346.0 264.6,344.5 266.6,344.0 270.6,343.5 301.7,343.4 302.7,343.8 319.8,353.6" stroke="#A2142F"/>
<polyline points="80.0,355.5 127.1,355.5 128.2,354.6 132.2,352.4 136.2,350.5 140.2,348.9 154.2,344.7 188.3,334.0 194.4,325.8 199.4,318.0 204.4,309.0 213.4,291.7 218.4,283.3 221.4,279.3 224.5,276.4 227.5,274.6 229.5,274.0 230.5,274.0 231.5,274.2 232.5,274.6 234.5,276.3 236.5,278.9 238.5,282.4 242.5,291.4 251.5,315.7 255.6,325.2 257.6,329.1 259.6,332.2 261.6,334.7 264.6,337.7 268.6,340.9 271.6,342.9 274.6,344.5 278.6,345.9 283.6,346.9 288.7,347.4 295.7,347.7 307.7,347.8 319.8,352.6" stroke="#0072BD"/>
<polyline points="80.0,355.5 126.1,355.5 127.1,354.8 129.2,354.2 132.2,352.7 139.2,348.3 142.2,346.9 144.2,346.3 146.2,346.0 155.2,346.4 158.2,346.1 161.3,345.4 165.3,344.1 171.3,341.7 188.3,334.0 191.4,328.3 193.4,323.9 196.4,316.5 198.4,310.9 202.4,298.3 211.4,267.2 213.4,261.1 215.4,255.9 217.4,251.6 219.4,248.5 220.4,247.4 221.4,246.7 222.5,246.3 223.5,246.2 224.5,246.6 225.5,247.4 226.5,248.7 228.5,252.6 230.5,258.0 232.5,264.7 234.5,272.4 243.5,310.2 247.5,324.5 250.5,333.1 252.5,337.8 254.6,341.6 257.6,345.8 259.6,347.6 262.6,349.1 265.6,349.8 269.6,350.3 280.6,350.9 306.7,351.0 319.8,351.9" stroke="#D95319"/>
<polyline points="80.0,355.5 168.3,355.5 169.3,353.5 170.3,352.4 179.3,343.0 188.3,334.0 190.3,330.9 195.4,322.2 199.4,314.0 203.4,304.6 212.4,281.5 215.4,274.5 217.4,270.4 220.4,265.3 222.5,262.8 224.5,261.1 225.5,260.6 227.5,260.1 228.5,260.2 229.5,260.6 231.5,262.1 233.5,264.7 236.5,270.4 240.5,280.5 249.5,307.6 253.6,318.5 255.6,323.1 257.6,326.8 258.6,328.4 260.6,330.6 261.6,331.4 263.6,332.6 268.6,334.6 273.6,337.0 277.6,338.5 280.6,339.4 285.7,340.2 290.7,340.6 307.7,340.9 308.7,341.4 319.8,352.9" stroke="#EDB120"/>
<polyline points="80.0,355.5 160.3,355.5 161.3,353.4 167.3,350.2 173.3,346.0 188.3,334.0 191.4,328.5 195.4,319.8 199.4,309.2 203.4,296.9 211.4,270.2 215.4,258.8 218.4,252.3 220.4,249.3 222.5,247.5 223.5,247.1 224.5,246.9 225.5,247.2 226.5,247.8 228.5,250.1 230.5,253.8 232.5,258.7 234.5,264.6 236.5,271.4 246.5,309.2 249.5,319.4 251.5,325.5 254.6,333.6 258.6,342.6 262.6,350.1 264.6,353.4 266.6,356.1 268.6,358.1 271.6,360.3 274.6,361.6 277.6,362.3 281.6,362.8 286.7,363.1 304.7,363.2 319.8,354.0" stroke="#7E2F8E"/>
<polyline points="80.0,355.5 166.3,355.5 170.3,350.6 174.3,346.4 180.3,340.8 188.3,334.0 190.3,330.0 194.4,320.5 198.4,308.5 202.4,294.1 210.4,262.5 213.4,252.2 215.4,246.6 217.4,242.3 219.4,239.5 220.4,238.7 221.4,238.3 222.5,238.3 223.5,238.7 224.5,239.4 225.5,240.5 227.5,243.7 230.5,250.8 234.5,263.7 244.5,302.3 248.5,316.3 251.5,325.2 253.6,330.2 256.6,336.1 258.6,339.0 260.6,340.9 261.6,341.5 263.6,342.0 270.6,341.7 284.6,342.7 302.7,343.0 319.8,353.9" stroke="#77AC30"/>
<polyline points="80.0,355.5 148.2,355.5 149.2,350.8 157.2,349.3 162.3,347.6 169.3,344.3 188.3,334.0 191.4,328.3 193.4,323.9 196.4,316.5 198.4,310.9 202.4,298.1 211.4,266.3 213.4,260.0 215.4,254.4 217.4,249.8 219.4,246.4 221.4,244.3 222.5,243.7 223.5,243.5 224.5,243.6 225.5,244.2 226.5,245.2 228.5,248.5 230.5,253.2 232.5,259.3 234.5,266.4 244.5,307.3 248.5,321.6 251.5,330.4 253.6,335.3 255.6,339.3 258.6,343.7 260.6,345.7 263.6,347.7 266.6,348.8 270.6,349.9 275.6,350.6 280.6,350.9 303.7,351.1 319.8,355.5" stroke="#4DBEEE"/>
<polyline points="80.0,355.5 177.3,355.5 179.3,350.9 181.3,346.8 191.4,328.3 194.4,321.6 196.4,316.5 198.4,310.8 201.4,301.4 212.4,262.4 214.4,256.3 216.4,251.1 218.4,246.9 220.4,243.9 221.4,242.9 222.5,242.3 223.5,241.9 224.5,242.0 225.5,242.4 226.5,243.3 227.5,244.5 229.5,248.0 231.5,252.9 233.5,258.8 235.5,265.7 245.5,305.1 248.5,315.8 250.5,322.2 253.6,330.4 255.6,334.8 257.6,338.4 260.6,342.4 263.6,345.1 267.6,347.6 271.6,349.2 276.6,350.3 283.6,351.0 299.7,351.2 319.8,352.4" stroke="#A2142F"/>
<polyline points="80.0,355.5 163.3,355.5 166.3,354.4 169.3,352.7 174.3,348.9 179.3,344.2 185.3,337.6 188.3,334.0 189.3,332.5 194.4,323.7 199.4,313.1 203.4,303.3 211.4,282.2 214.4,275.0 216.4,270.9 219.4,265.9 221.4,263.6 223.5,262.1 225.5,261.5 226.5,261.5 227.5,261.9 228.5,262.7 229.5,263.8 231.5,266.9 233.5,271.1 235.5,276.3 237.5,282.2 246.5,312.4 250.5,324.3 252.5,329.4 254.6,333.7 256.6,337.1 258.6,339.5 260.6,341.0 262.6,341.4 268.6,340.7 270.6,340.6 283.6,341.4 299.7,341.6 319.8,352.9" stroke="#0072BD"/>
<line x1="80.0" y1="355.5" x2="124.4" y2="355.5" stroke="#E8824A" stroke-width="1.2"/>
</g>
<path d="M79.5,226.6 L79.5,377.2 L323.7,377.2" fill="none" stroke="#4e4e4e" stroke-width="1.45"/>
<line x1="79.50" y1="355.50" x2="82.00" y2="355.50" stroke="#4e4e4e" stroke-width="1" />
<text x="73.0" y="360.5" font-size="14" fill="#505050" text-anchor="end" stroke="#505050" stroke-width="0.3">0</text>
<line x1="79.50" y1="312.60" x2="82.00" y2="312.60" stroke="#4e4e4e" stroke-width="1" />
<text x="73.0" y="317.6" font-size="14" fill="#505050" text-anchor="end" stroke="#505050" stroke-width="0.3">0.2</text>
<line x1="79.50" y1="269.70" x2="82.00" y2="269.70" stroke="#4e4e4e" stroke-width="1" />
<text x="73.0" y="274.7" font-size="14" fill="#505050" text-anchor="end" stroke="#505050" stroke-width="0.3">0.4</text>
<line x1="79.50" y1="226.80" x2="82.00" y2="226.80" stroke="#4e4e4e" stroke-width="1" />
<text x="73.0" y="231.8" font-size="14" fill="#505050" text-anchor="end" stroke="#505050" stroke-width="0.3">0.6</text>
<line x1="80.00" y1="377.20" x2="80.00" y2="374.70" stroke="#4e4e4e" stroke-width="1" />
<text x="79.2" y="393.6" font-size="14" fill="#505050" text-anchor="middle" stroke="#505050" stroke-width="0.3">80</text>
<line x1="124.40" y1="377.20" x2="124.40" y2="374.70" stroke="#4e4e4e" stroke-width="1" />
<text x="123.6" y="393.6" font-size="14" fill="#505050" text-anchor="middle" stroke="#505050" stroke-width="0.3">82</text>
<line x1="168.80" y1="377.20" x2="168.80" y2="374.70" stroke="#4e4e4e" stroke-width="1" />
<text x="168.0" y="393.6" font-size="14" fill="#505050" text-anchor="middle" stroke="#505050" stroke-width="0.3">84</text>
<line x1="213.20" y1="377.20" x2="213.20" y2="374.70" stroke="#4e4e4e" stroke-width="1" />
<text x="212.4" y="393.6" font-size="14" fill="#505050" text-anchor="middle" stroke="#505050" stroke-width="0.3">86</text>
<line x1="257.60" y1="377.20" x2="257.60" y2="374.70" stroke="#4e4e4e" stroke-width="1" />
<text x="256.8" y="393.6" font-size="14" fill="#505050" text-anchor="middle" stroke="#505050" stroke-width="0.3">88</text>
<line x1="302.00" y1="377.20" x2="302.00" y2="374.70" stroke="#4e4e4e" stroke-width="1" />
<text x="301.2" y="393.6" font-size="14" fill="#505050" text-anchor="middle" stroke="#505050" stroke-width="0.3">90</text>
<text x="202.4" y="409.7" font-size="14" fill="#505050" text-anchor="middle" stroke="#505050" stroke-width="0.3" textLength="123.5" lengthAdjust="spacingAndGlyphs">Temperature (°C)</text>
<text x="46.5" y="302.5" font-size="13.5" fill="#505050" text-anchor="middle" stroke="#505050" stroke-width="0.3" textLength="175.0" lengthAdjust="spacingAndGlyphs" transform="rotate(-90 46.5 302.5)">-d(Fluorescence)/dT (a.u.)</text>
<g stroke="#141414" stroke-width="0.65">
<rect x="459.06" y="165.96" width="2.45" height="6.74" fill="#4f6272"/>
<rect x="461.69" y="165.96" width="2.45" height="6.74" fill="#4f6272"/>
<rect x="463.54" y="165.96" width="2.45" height="6.74" fill="#4f6272"/>
<rect x="465.12" y="164.95" width="2.45" height="7.75" fill="#4f6272"/>
<rect x="466.96" y="162.59" width="2.45" height="10.11" fill="#4f6272"/>
<rect x="468.81" y="158.88" width="2.45" height="13.82" fill="#4f6272"/>
<rect x="470.39" y="152.48" width="2.45" height="20.22" fill="#4f6272"/>
<rect x="472.23" y="132.26" width="2.45" height="40.44" fill="#8a8a8a"/>
<rect x="472.23" y="140.35" width="2.45" height="32.35" fill="#4f6272"/>
<rect x="473.81" y="125.52" width="2.45" height="47.18" fill="#8a8a8a"/>
<rect x="473.81" y="131.92" width="2.45" height="40.78" fill="#4f6272"/>
<rect x="475.39" y="119.12" width="2.45" height="53.58" fill="#4f6272"/>
<rect x="477.24" y="110.35" width="2.45" height="62.34" fill="#8a8a8a"/>
<rect x="477.24" y="112.38" width="2.45" height="60.32" fill="#4f6272"/>
<rect x="478.82" y="112.38" width="2.45" height="60.32" fill="#4f6272"/>
<rect x="480.40" y="105.30" width="2.45" height="67.40" fill="#8a8a8a"/>
<rect x="480.40" y="112.38" width="2.45" height="60.32" fill="#4f6272"/>
<rect x="482.25" y="112.38" width="2.45" height="60.32" fill="#4f6272"/>
<rect x="483.83" y="112.38" width="2.45" height="60.32" fill="#4f6272"/>
<rect x="485.41" y="82.38" width="2.45" height="90.32" fill="#8a8a8a"/>
<rect x="485.41" y="112.38" width="2.45" height="60.32" fill="#4f6272"/>
<rect x="487.25" y="127.20" width="2.45" height="45.50" fill="#4f6272"/>
<rect x="488.83" y="102.94" width="2.45" height="69.76" fill="#8a8a8a"/>
<rect x="488.83" y="112.38" width="2.45" height="60.32" fill="#4f6272"/>
<rect x="490.41" y="110.02" width="2.45" height="62.68" fill="#8a8a8a"/>
<rect x="490.41" y="122.15" width="2.45" height="50.55" fill="#4f6272"/>
<rect x="492.26" y="112.38" width="2.45" height="60.32" fill="#4f6272"/>
<rect x="493.84" y="112.38" width="2.45" height="60.32" fill="#4f6272"/>
<rect x="495.42" y="115.41" width="2.45" height="57.29" fill="#4f6272"/>
<rect x="497.26" y="112.38" width="2.45" height="60.32" fill="#4f6272"/>
<rect x="498.85" y="113.05" width="2.45" height="59.65" fill="#4f6272"/>
<rect x="500.43" y="82.38" width="2.45" height="90.32" fill="#8a8a8a"/>
<rect x="500.43" y="125.52" width="2.45" height="47.18" fill="#4f6272"/>
<rect x="502.01" y="92.16" width="2.45" height="80.54" fill="#4f6272"/>
<rect x="503.59" y="92.16" width="2.45" height="80.54" fill="#8a8a8a"/>
<rect x="503.59" y="118.11" width="2.45" height="54.59" fill="#4f6272"/>
<rect x="505.43" y="100.24" width="2.45" height="72.45" fill="#4f6272"/>
<rect x="507.28" y="85.08" width="2.45" height="87.62" fill="#4f6272"/>
<rect x="509.12" y="86.09" width="2.45" height="86.61" fill="#8a8a8a"/>
<rect x="509.12" y="101.93" width="2.45" height="70.77" fill="#4f6272"/>
<rect x="510.97" y="79.69" width="2.45" height="93.01" fill="#4f6272"/>
<rect x="512.81" y="45.31" width="2.45" height="127.39" fill="#8a8a8a"/>
<rect x="512.81" y="101.93" width="2.45" height="70.77" fill="#4f6272"/>
<rect x="514.92" y="95.86" width="2.45" height="76.84" fill="#4f6272"/>
<rect x="516.76" y="90.13" width="2.45" height="82.56" fill="#4f6272"/>
<rect x="518.34" y="41.61" width="2.45" height="131.09" fill="#8a8a8a"/>
<rect x="518.34" y="56.10" width="2.45" height="116.60" fill="#4f6272"/>
<rect x="520.19" y="35.20" width="2.45" height="137.50" fill="#8a8a8a"/>
<rect x="520.19" y="55.09" width="2.45" height="117.61" fill="#4f6272"/>
<rect x="522.03" y="58.12" width="2.45" height="114.58" fill="#4f6272"/>
<rect x="523.88" y="45.99" width="2.45" height="126.71" fill="#8a8a8a"/>
<rect x="523.88" y="79.69" width="2.45" height="93.01" fill="#4f6272"/>
<rect x="525.72" y="38.91" width="2.45" height="133.79" fill="#8a8a8a"/>
<rect x="525.72" y="63.85" width="2.45" height="108.85" fill="#4f6272"/>
<rect x="527.57" y="32.51" width="2.45" height="140.19" fill="#8a8a8a"/>
<rect x="527.57" y="64.86" width="2.45" height="107.84" fill="#4f6272"/>
<rect x="529.68" y="65.87" width="2.45" height="106.83" fill="#4f6272"/>
<rect x="531.52" y="82.05" width="2.45" height="90.65" fill="#8a8a8a"/>
<rect x="531.52" y="98.56" width="2.45" height="74.14" fill="#4f6272"/>
<rect x="533.36" y="58.79" width="2.45" height="113.91" fill="#8a8a8a"/>
<rect x="533.36" y="82.05" width="2.45" height="90.65" fill="#4f6272"/>
<rect x="535.21" y="75.98" width="2.45" height="96.72" fill="#8a8a8a"/>
<rect x="535.21" y="86.09" width="2.45" height="86.61" fill="#4f6272"/>
<rect x="537.05" y="75.98" width="2.45" height="96.72" fill="#8a8a8a"/>
<rect x="537.05" y="88.45" width="2.45" height="84.25" fill="#4f6272"/>
<rect x="538.90" y="83.06" width="2.45" height="89.64" fill="#4f6272"/>
<rect x="541.01" y="86.76" width="2.45" height="85.94" fill="#8a8a8a"/>
<rect x="541.01" y="97.55" width="2.45" height="75.15" fill="#4f6272"/>
<rect x="542.85" y="89.46" width="2.45" height="83.24" fill="#4f6272"/>
<rect x="544.69" y="93.50" width="2.45" height="79.20" fill="#4f6272"/>
<rect x="546.54" y="89.46" width="2.45" height="83.24" fill="#4f6272"/>
<rect x="548.38" y="127.88" width="2.45" height="44.82" fill="#4f6272"/>
<rect x="550.23" y="115.75" width="2.45" height="56.95" fill="#4f6272"/>
<rect x="552.07" y="106.65" width="2.45" height="66.05" fill="#4f6272"/>
<rect x="553.92" y="113.05" width="2.45" height="59.65" fill="#8a8a8a"/>
<rect x="553.92" y="123.83" width="2.45" height="48.87" fill="#4f6272"/>
<rect x="555.76" y="126.53" width="2.45" height="46.17" fill="#4f6272"/>
<rect x="557.61" y="125.52" width="2.45" height="47.18" fill="#4f6272"/>
<rect x="559.45" y="145.74" width="2.45" height="26.96" fill="#8a8a8a"/>
<rect x="559.45" y="152.14" width="2.45" height="20.56" fill="#4f6272"/>
<rect x="561.30" y="152.14" width="2.45" height="20.56" fill="#4f6272"/>
<rect x="563.14" y="152.14" width="2.45" height="20.56" fill="#4f6272"/>
<rect x="565.25" y="139.00" width="2.45" height="33.70" fill="#4f6272"/>
<rect x="567.09" y="149.78" width="2.45" height="22.92" fill="#4f6272"/>
<rect x="568.94" y="155.85" width="2.45" height="16.85" fill="#4f6272"/>
<rect x="570.52" y="139.00" width="2.45" height="33.70" fill="#8a8a8a"/>
<rect x="570.52" y="151.13" width="2.45" height="21.57" fill="#4f6272"/>
<rect x="572.36" y="153.83" width="2.45" height="18.87" fill="#4f6272"/>
<rect x="574.21" y="132.26" width="2.45" height="40.44" fill="#8a8a8a"/>
<rect x="574.21" y="159.22" width="2.45" height="13.48" fill="#4f6272"/>
<rect x="575.79" y="152.48" width="2.45" height="20.22" fill="#4f6272"/>
<rect x="577.90" y="161.58" width="2.45" height="11.12" fill="#4f6272"/>
<rect x="579.74" y="168.66" width="2.45" height="4.04" fill="#4f6272"/>
<rect x="581.06" y="165.96" width="2.45" height="6.74" fill="#4f6272"/>
<rect x="583.17" y="170.00" width="2.45" height="2.70" fill="#4f6272"/>
<rect x="585.80" y="155.85" width="2.45" height="16.85" fill="#8a8a8a"/>
<rect x="585.80" y="169.33" width="2.45" height="3.37" fill="#4f6272"/>
<rect x="588.17" y="166.97" width="2.45" height="5.73" fill="#4f6272"/>
<rect x="590.81" y="170.00" width="2.45" height="2.70" fill="#4f6272"/>
<rect x="593.44" y="171.35" width="2.45" height="1.35" fill="#4f6272"/>
<rect x="596.08" y="165.96" width="2.45" height="6.74" fill="#8a8a8a"/>
<rect x="597.92" y="165.96" width="2.45" height="6.74" fill="#8a8a8a"/>
<rect x="601.35" y="165.96" width="2.45" height="6.74" fill="#8a8a8a"/>
<rect x="606.62" y="165.96" width="2.45" height="6.74" fill="#8a8a8a"/>
<rect x="613.20" y="169.33" width="2.45" height="3.37" fill="#4f6272"/>
<rect x="618.48" y="170.34" width="2.45" height="2.36" fill="#4f6272"/>
<rect x="623.75" y="171.69" width="2.45" height="1.01" fill="#4f6272"/>
<rect x="631.65" y="171.69" width="2.45" height="1.01" fill="#4f6272"/>
<rect x="639.55" y="172.03" width="2.45" height="0.67" fill="#4f6272"/>
</g>
<polyline points="455.0,172.4 460.9,169.8 463.9,167.5 465.5,165.6 466.2,164.4 468.4,159.7 469.6,155.7 471.0,150.0 476.0,122.0 478.8,109.0 481.1,100.1 482.0,97.3 483.5,94.0 484.5,92.6 485.5,91.7 486.5,91.5 487.5,91.9 489.5,94.2 493.6,101.8 494.7,103.2 495.2,103.6 495.7,103.6 496.2,103.4 498.9,100.7 499.6,99.6 500.5,96.9 509.0,68.7 511.6,61.2 513.8,56.3 517.2,50.1 518.7,47.9 520.0,46.5 522.0,45.0 523.6,44.2 525.4,43.7 527.7,43.5 529.6,43.8 531.0,44.5 533.5,46.3 535.2,48.0 537.4,51.1 540.8,58.2 545.0,68.7 550.7,86.3 554.0,97.6 558.9,117.2 561.1,124.5 563.4,131.0 567.0,140.0 570.8,148.0 573.5,152.8 575.0,155.0 578.2,159.1 579.9,160.9 583.3,164.1 586.7,166.6 588.3,167.5 591.7,168.9 598.1,170.8 605.0,171.8 611.9,172.2 623.3,172.6 640.0,172.7" fill="none" stroke="#1a1a1a" stroke-width="1.5" stroke-linejoin="round" />
<line x1="495.30" y1="20.00" x2="495.30" y2="182.00" stroke="#5a8fd8" stroke-width="1.2" stroke-dasharray="3.5,2.2"/>
<path d="M408.9,21.9 L408.9,172.7 L673.0,172.7" fill="none" stroke="#303030" stroke-width="1.45"/>
<line x1="408.90" y1="172.70" x2="411.40" y2="172.70" stroke="#262626" stroke-width="1" />
<text x="402.0" y="176.9" font-size="14" fill="#505050" text-anchor="end" stroke="#505050" stroke-width="0.3">0</text>
<line x1="408.90" y1="139.00" x2="411.40" y2="139.00" stroke="#262626" stroke-width="1" />
<text x="402.0" y="143.2" font-size="14" fill="#505050" text-anchor="end" stroke="#505050" stroke-width="0.3">10</text>
<line x1="408.90" y1="105.30" x2="411.40" y2="105.30" stroke="#262626" stroke-width="1" />
<text x="402.0" y="109.5" font-size="14" fill="#505050" text-anchor="end" stroke="#505050" stroke-width="0.3">20</text>
<line x1="408.90" y1="71.60" x2="411.40" y2="71.60" stroke="#262626" stroke-width="1" />
<text x="402.0" y="75.8" font-size="14" fill="#505050" text-anchor="end" stroke="#505050" stroke-width="0.3">30</text>
<line x1="408.90" y1="37.90" x2="411.40" y2="37.90" stroke="#262626" stroke-width="1" />
<text x="402.0" y="42.1" font-size="14" fill="#505050" text-anchor="end" stroke="#505050" stroke-width="0.3">40</text>
<line x1="408.90" y1="172.70" x2="408.90" y2="170.20" stroke="#262626" stroke-width="1" />
<text x="408.1" y="190.0" font-size="14" fill="#505050" text-anchor="middle" stroke="#505050" stroke-width="0.3">0.2</text>
<line x1="461.60" y1="172.70" x2="461.60" y2="170.20" stroke="#262626" stroke-width="1" />
<text x="460.8" y="190.0" font-size="14" fill="#505050" text-anchor="middle" stroke="#505050" stroke-width="0.3">0.4</text>
<line x1="514.30" y1="172.70" x2="514.30" y2="170.20" stroke="#262626" stroke-width="1" />
<text x="513.5" y="190.0" font-size="14" fill="#505050" text-anchor="middle" stroke="#505050" stroke-width="0.3">0.6</text>
<line x1="567.00" y1="172.70" x2="567.00" y2="170.20" stroke="#262626" stroke-width="1" />
<text x="566.2" y="190.0" font-size="14" fill="#505050" text-anchor="middle" stroke="#505050" stroke-width="0.3">0.8</text>
<line x1="619.70" y1="172.70" x2="619.70" y2="170.20" stroke="#262626" stroke-width="1" />
<text x="618.9" y="190.0" font-size="14" fill="#505050" text-anchor="middle" stroke="#505050" stroke-width="0.3">1</text>
<line x1="672.40" y1="172.70" x2="672.40" y2="170.20" stroke="#262626" stroke-width="1" />
<text x="671.6" y="190.0" font-size="14" fill="#505050" text-anchor="middle" stroke="#505050" stroke-width="0.3">1.2</text>
<text x="540.4" y="207.0" font-size="15.5" fill="#505050" text-anchor="middle" stroke="#505050" stroke-width="0.3" textLength="147.6" lengthAdjust="spacingAndGlyphs">Fluoresence Intensity</text>
<text x="376.3" y="96.3" font-size="14.5" fill="#111" text-anchor="middle" stroke="#111" stroke-width="0.3" textLength="38.4" lengthAdjust="spacingAndGlyphs" transform="rotate(-90 376.3 96.3)">Count</text>
<g stroke="#262c36" stroke-width="0.7" fill="#8db3e2">
<rect x="409.10" y="357.59" width="3.15" height="15.31"/>
<rect x="412.30" y="354.21" width="3.15" height="18.69"/>
<rect x="418.80" y="359.28" width="3.15" height="13.62"/>
<rect x="422.00" y="355.79" width="3.15" height="17.11"/>
<rect x="425.20" y="342.49" width="3.15" height="30.41"/>
<rect x="428.40" y="338.37" width="3.15" height="34.53"/>
<rect x="434.40" y="354.21" width="3.15" height="18.69"/>
<rect x="437.60" y="360.44" width="3.15" height="12.46"/>
<rect x="440.80" y="364.45" width="3.15" height="8.45"/>
<rect x="447.40" y="330.66" width="3.15" height="42.24"/>
<rect x="450.50" y="298.45" width="3.15" height="74.45"/>
<rect x="453.50" y="273.32" width="3.15" height="99.58"/>
<rect x="456.60" y="273.32" width="3.15" height="99.58"/>
<rect x="462.60" y="351.89" width="3.15" height="21.01"/>
<rect x="465.80" y="369.10" width="3.15" height="3.80"/>
<rect x="469.00" y="368.15" width="3.15" height="4.75"/>
<rect x="472.20" y="365.72" width="3.15" height="7.18"/>
<rect x="478.70" y="365.72" width="3.15" height="7.18"/>
<rect x="481.90" y="370.58" width="3.15" height="2.32"/>
<rect x="485.10" y="370.58" width="3.15" height="2.32"/>
<rect x="508.20" y="371.84" width="3.15" height="1.06"/>
<rect x="511.60" y="370.58" width="3.15" height="2.32"/>
<rect x="520.50" y="371.84" width="3.15" height="1.06"/>
<rect x="530.90" y="370.05" width="3.15" height="2.85"/>
<rect x="540.40" y="366.56" width="3.15" height="6.34"/>
<rect x="546.80" y="370.58" width="3.15" height="2.32"/>
<rect x="550.20" y="365.09" width="3.15" height="7.81"/>
<rect x="553.30" y="362.13" width="3.15" height="10.77"/>
<rect x="556.30" y="347.56" width="3.15" height="25.34"/>
<rect x="559.40" y="325.49" width="3.15" height="47.41"/>
<rect x="562.60" y="320.10" width="3.15" height="52.80"/>
<rect x="565.70" y="263.08" width="3.15" height="109.82"/>
<rect x="568.90" y="239.32" width="3.15" height="133.58"/>
<rect x="572.10" y="271.52" width="3.15" height="101.38"/>
<rect x="575.30" y="290.11" width="3.15" height="82.79"/>
<rect x="581.30" y="288.42" width="3.15" height="84.48"/>
<rect x="584.40" y="292.12" width="3.15" height="80.78"/>
<rect x="587.50" y="279.97" width="3.15" height="92.93"/>
<rect x="594.10" y="312.92" width="3.15" height="59.98"/>
<rect x="597.60" y="343.54" width="3.15" height="29.36"/>
<rect x="600.80" y="354.31" width="3.15" height="18.59"/>
<rect x="603.80" y="368.68" width="3.15" height="4.22"/>
<rect x="633.50" y="370.79" width="3.15" height="2.11"/>
<rect x="636.70" y="368.68" width="3.15" height="4.22"/>
<rect x="640.50" y="369.73" width="3.15" height="3.17"/>
</g>
<polyline points="408.3,372.9 432.3,372.9 436.9,372.7 438.4,372.3 439.9,371.5 441.5,369.9 442.5,368.1 443.5,365.4 444.5,361.6 445.6,356.4 446.6,349.7 448.6,331.4 453.2,280.4 454.7,269.4 455.3,267.3 455.8,266.0 456.3,265.7 456.8,266.3 457.3,267.8 457.8,270.2 458.8,277.3 460.4,292.4 463.9,333.0 465.5,347.0 466.5,354.3 468.0,362.3 469.6,367.3 471.1,370.1 472.1,371.3 473.1,372.0 475.7,372.7 479.2,372.9 521.6,372.9 531.8,372.7 536.9,372.2 540.5,371.4 543.6,370.1 546.1,368.3 548.7,365.7 550.7,362.9 553.3,358.2 555.3,353.5 557.9,346.3 560.4,337.8 568.6,306.2 571.6,295.9 573.7,290.6 575.2,287.7 576.7,285.9 578.3,285.3 578.8,285.3 579.8,285.7 581.3,287.4 582.9,290.1 584.4,293.7 587.5,303.4 595.6,335.0 599.7,348.6 601.7,354.1 604.3,359.7 606.9,364.0 609.4,367.1 612.0,369.3 614.5,370.7 617.6,371.8 621.7,372.5 630.8,372.9 663.0,372.9" fill="none" stroke="#111" stroke-width="1.5" stroke-linejoin="round" />
<line x1="507.50" y1="216.00" x2="507.50" y2="373.00" stroke="#5a8fd8" stroke-width="1.2" stroke-dasharray="3.5,2.2"/>
<path d="M407.8,225.5 L407.8,373.4 L663.0,373.4" fill="none" stroke="#262626" stroke-width="1.45"/>
<line x1="407.80" y1="372.90" x2="410.30" y2="372.90" stroke="#1a1a1a" stroke-width="1" />
<text x="401.7" y="377.4" font-size="14" fill="#505050" text-anchor="end" stroke="#505050" stroke-width="0.3">0</text>
<line x1="407.80" y1="320.10" x2="410.30" y2="320.10" stroke="#1a1a1a" stroke-width="1" />
<text x="401.7" y="324.6" font-size="14" fill="#505050" text-anchor="end" stroke="#505050" stroke-width="0.3">50</text>
<line x1="407.80" y1="267.30" x2="410.30" y2="267.30" stroke="#1a1a1a" stroke-width="1" />
<text x="401.7" y="271.8" font-size="14" fill="#505050" text-anchor="end" stroke="#505050" stroke-width="0.3">100</text>
<line x1="408.30" y1="373.40" x2="408.30" y2="370.90" stroke="#1a1a1a" stroke-width="1" />
<text x="407.5" y="391.0" font-size="14" fill="#505050" text-anchor="middle" stroke="#505050" stroke-width="0.3">80</text>
<line x1="459.20" y1="373.40" x2="459.20" y2="370.90" stroke="#1a1a1a" stroke-width="1" />
<text x="458.4" y="391.0" font-size="14" fill="#505050" text-anchor="middle" stroke="#505050" stroke-width="0.3">82</text>
<line x1="510.10" y1="373.40" x2="510.10" y2="370.90" stroke="#1a1a1a" stroke-width="1" />
<text x="509.3" y="391.0" font-size="14" fill="#505050" text-anchor="middle" stroke="#505050" stroke-width="0.3">84</text>
<line x1="561.00" y1="373.40" x2="561.00" y2="370.90" stroke="#1a1a1a" stroke-width="1" />
<text x="560.2" y="391.0" font-size="14" fill="#505050" text-anchor="middle" stroke="#505050" stroke-width="0.3">86</text>
<line x1="611.90" y1="373.40" x2="611.90" y2="370.90" stroke="#1a1a1a" stroke-width="1" />
<text x="611.1" y="391.0" font-size="14" fill="#505050" text-anchor="middle" stroke="#505050" stroke-width="0.3">88</text>
<line x1="662.80" y1="373.40" x2="662.80" y2="370.90" stroke="#1a1a1a" stroke-width="1" />
<text x="662.0" y="391.0" font-size="14" fill="#505050" text-anchor="middle" stroke="#505050" stroke-width="0.3">90</text>
<text x="535.4" y="408.4" font-size="15.5" fill="#505050" text-anchor="middle" stroke="#505050" stroke-width="0.3" textLength="141.6" lengthAdjust="spacingAndGlyphs">Melting Temperature</text>
<text x="372.0" y="290.2" font-size="14.5" fill="#111" text-anchor="middle" stroke="#111" stroke-width="0.3" textLength="37.7" lengthAdjust="spacingAndGlyphs" transform="rotate(-90 372.0 290.2)">Count</text>
<path d="M107.7,439.5 L107.7,564.0 L325.0,564.0" fill="none" stroke="#8a8a8a" stroke-width="1.0"/>
<line x1="104.50" y1="517.40" x2="107.70" y2="517.40" stroke="#8a8a8a" stroke-width="1" />
<line x1="104.50" y1="470.80" x2="107.70" y2="470.80" stroke="#8a8a8a" stroke-width="1" />
<line x1="188.20" y1="564.00" x2="188.20" y2="567.00" stroke="#8a8a8a" stroke-width="1" />
<line x1="268.70" y1="564.00" x2="268.70" y2="567.00" stroke="#8a8a8a" stroke-width="1" />
<line x1="107.70" y1="564.00" x2="107.70" y2="567.50" stroke="#8a8a8a" stroke-width="1" />
<text x="95.3" y="475.3" font-size="12.6" fill="#1a1a1a" text-anchor="end" stroke="#1a1a1a" stroke-width="0.3">200</text>
<text x="95.3" y="521.9" font-size="12.6" fill="#1a1a1a" text-anchor="end" stroke="#1a1a1a" stroke-width="0.3">20</text>
<text x="95.3" y="568.5" font-size="12.6" fill="#1a1a1a" text-anchor="end" stroke="#1a1a1a" stroke-width="0.3">2</text>
<text x="108.5" y="585.0" font-size="12.6" fill="#1a1a1a" text-anchor="middle" stroke="#1a1a1a" stroke-width="0.3">10</text>
<text x="188.4" y="585.0" font-size="12.6" fill="#1a1a1a" text-anchor="middle" stroke="#1a1a1a" stroke-width="0.3">100</text>
<text x="269.1" y="585.0" font-size="12.6" fill="#1a1a1a" text-anchor="middle" stroke="#1a1a1a" stroke-width="0.3">1000</text>
<text x="209.5" y="612.2" font-size="12.9" fill="#1a1a1a" text-anchor="middle" stroke="#1a1a1a" stroke-width="0.3" textLength="190.0" lengthAdjust="spacingAndGlyphs">Spectrometer DNA Measurement</text>
<text x="208.9" y="624.8" font-size="12.9" fill="#1a1a1a" text-anchor="middle" stroke="#1a1a1a" stroke-width="0.3" textLength="86.7" lengthAdjust="spacingAndGlyphs">(log(Genomes))</text>
<text x="34.0" y="507.3" font-size="12.9" fill="#1a1a1a" text-anchor="middle" stroke="#1a1a1a" stroke-width="0.3" textLength="126.7" lengthAdjust="spacingAndGlyphs" transform="rotate(-90 34.0 507.3)">U-dHRM Specific Melt</text>
<text x="49.6" y="508.4" font-size="12.9" fill="#1a1a1a" text-anchor="middle" stroke="#1a1a1a" stroke-width="0.3" textLength="72.2" lengthAdjust="spacingAndGlyphs" transform="rotate(-90 49.6 508.4)">Curve Count</text>
<text x="64.6" y="508.4" font-size="12.9" fill="#1a1a1a" text-anchor="middle" stroke="#1a1a1a" stroke-width="0.3" textLength="91.2" lengthAdjust="spacingAndGlyphs" transform="rotate(-90 64.6 508.4)">(log(Genomes))</text>
<polyline points="128.2,549.0 138.4,540.7 148.6,533.1 160.9,524.7 177.2,514.1 195.5,502.8 217.9,489.3 289.2,447.6" fill="none" stroke="#4a4a4a" stroke-width="1.3" stroke-linejoin="round" stroke-dasharray="5.2,3"/>
<line x1="128.20" y1="545.00" x2="128.20" y2="555.60" stroke="#6a6a6a" stroke-width="1.4" />
<line x1="123.20" y1="545.00" x2="133.20" y2="545.00" stroke="#6a6a6a" stroke-width="1.5" />
<line x1="123.20" y1="555.60" x2="133.20" y2="555.60" stroke="#6a6a6a" stroke-width="1.5" />
<circle cx="128.2" cy="550.3" r="3.9" fill="#0a0a0a"/>
<line x1="208.70" y1="490.80" x2="208.70" y2="500.60" stroke="#6a6a6a" stroke-width="1.4" />
<line x1="203.70" y1="490.80" x2="213.70" y2="490.80" stroke="#6a6a6a" stroke-width="1.5" />
<line x1="203.70" y1="500.60" x2="213.70" y2="500.60" stroke="#6a6a6a" stroke-width="1.5" />
<circle cx="208.7" cy="495.3" r="3.9" fill="#0a0a0a"/>
<line x1="289.20" y1="445.20" x2="289.20" y2="452.20" stroke="#6a6a6a" stroke-width="1.4" />
<line x1="284.20" y1="445.20" x2="294.20" y2="445.20" stroke="#6a6a6a" stroke-width="1.5" />
<line x1="284.20" y1="452.20" x2="294.20" y2="452.20" stroke="#6a6a6a" stroke-width="1.5" />
<circle cx="289.2" cy="448.7" r="3.9" fill="#0a0a0a"/>
<text x="113.3" y="454.2" font-size="12.8" fill="#1a1a1a" text-anchor="start" stroke="#1a1a1a" stroke-width="0.3" textLength="117.4" lengthAdjust="spacingAndGlyphs">y = 0.3514x - 2.1296</text>
<text x="154.3" y="471.0" font-size="12.8" fill="#1a1a1a" text-anchor="start" stroke="#1a1a1a" stroke-width="0.3" textLength="33.3" lengthAdjust="spacingAndGlyphs">R² = 1</text>
<text x="291.0" y="464.2" font-size="14.4" fill="#1a1a1a" text-anchor="start" stroke="#1a1a1a" stroke-width="0.3" textLength="43.8" lengthAdjust="spacingAndGlyphs">±86.96</text>
<text x="217.4" y="509.8" font-size="14.4" fill="#1a1a1a" text-anchor="start" stroke="#1a1a1a" stroke-width="0.3" textLength="43.8" lengthAdjust="spacingAndGlyphs">±14.47</text>
<text x="144.8" y="554.0" font-size="14.4" fill="#1a1a1a" text-anchor="start" stroke="#1a1a1a" stroke-width="0.3" textLength="14.8" lengthAdjust="spacingAndGlyphs">±1</text>
<polyline points="428.4,549.5 429.9,552.6 431.2,554.8 431.9,555.4 434.2,556.4 434.9,557.1 436.1,559.2 437.6,563.9 439.5,574.5 439.9,575.2 440.4,574.1 440.8,571.6 443.9,546.4 444.5,542.4 445.0,540.5 445.4,541.1 445.8,543.8 447.5,561.2 448.2,566.4 448.6,566.9 449.1,564.9 450.8,551.6 451.4,548.8 452.0,547.9 452.5,548.1 453.6,549.8 454.2,550.3 454.7,550.1 456.4,548.8 457.5,548.9 458.5,549.7 459.7,551.8 462.3,563.1 462.9,563.9 463.3,562.4 463.7,559.2 465.8,535.9 466.5,531.4 466.9,532.0 467.9,539.6 468.4,540.5 468.9,538.9 471.0,528.9 471.6,527.6 472.2,528.8 473.9,538.4 474.3,539.7 474.8,538.9 475.1,536.9 476.2,528.4 477.8,521.3 479.5,515.4 481.2,511.2 483.1,504.0 484.0,497.4 484.5,491.9 486.2,470.0 487.9,451.7 489.5,438.5 490.1,435.4 490.4,435.3 490.9,437.0 491.5,441.0 493.2,459.1 495.5,492.1 497.7,531.9 499.0,549.8 499.8,555.8 500.5,558.2 501.3,560.1 502.2,561.4 503.3,562.1 504.7,562.7 508.9,564.0 528.6,566.2 543.2,567.3 551.9,567.6 560.3,567.4 568.5,566.8 581.4,565.3 586.3,564.3 588.4,563.7 591.7,562.2 594.6,560.3 596.2,559.0 600.7,554.2 602.0,553.3 603.0,552.9 603.8,552.8 605.2,553.4 607.0,554.9 615.1,565.5 616.2,566.4 618.8,567.6 625.0,568.9 627.6,569.2 635.1,569.5 657.9,569.9" fill="none" stroke="#a8a8a8" stroke-width="2.0" stroke-linejoin="round" />
<polyline points="428.1,559.4 429.7,559.4 430.8,558.9 431.7,557.5 432.5,554.0 433.8,544.7 434.5,542.4 435.1,543.3 436.1,549.9 436.8,552.2 437.5,552.7 439.2,551.7 440.0,551.4 440.8,551.7 442.4,552.8 443.2,552.9 444.0,552.5 445.6,551.0 446.4,550.7 447.2,551.2 448.8,553.2 449.6,553.7 450.4,553.4 452.0,551.8 452.8,551.4 453.6,551.6 455.2,552.8 456.0,552.9 456.9,552.3 458.5,550.3 459.3,549.9 460.1,550.6 461.7,553.3 462.5,553.7 463.2,552.6 464.6,548.6 465.2,547.6 465.9,548.1 468.0,552.2 469.6,553.4 470.4,553.7 471.2,553.7 471.9,553.1 473.2,551.1 473.9,550.7 474.7,551.3 476.4,553.8 477.2,554.4 477.9,554.0 479.2,551.8 479.9,551.4 480.7,552.2 482.3,555.2 483.1,556.0 483.9,555.4 485.5,552.7 486.3,552.2 487.2,553.2 489.1,556.9 490.0,557.6 490.9,556.5 492.5,552.0 493.2,551.4 493.9,553.5 495.3,560.9 496.0,562.8 496.8,561.8 498.4,556.2 499.2,554.4 499.9,554.4 503.5,559.5 504.3,560.4 505.2,560.7 506.0,560.1 507.6,557.4 508.4,556.7 509.2,557.0 510.8,558.9 511.6,559.4 512.5,559.2 513.4,558.7 517.7,555.7 518.5,555.5 519.3,556.0 520.9,557.8 521.7,558.2 522.4,557.9 523.7,556.4 524.4,556.0 525.2,556.3 526.7,557.7 527.7,557.5 528.8,555.8 531.5,550.5 532.7,549.4 533.7,550.2 536.4,556.7 538.2,558.6 540.0,559.7 546.7,562.3 548.0,562.7 549.2,562.8 550.2,562.0 551.9,559.6 552.9,559.7 554.0,562.0 556.4,569.3 557.5,571.1 558.4,570.0 559.9,564.2 560.7,562.0 561.7,561.2 562.7,560.9 564.8,561.2 565.8,561.6 567.6,562.9 568.5,563.1 569.4,562.8 571.3,561.2 572.2,560.9 573.1,561.1 574.9,562.4 575.8,562.8 576.8,562.4 578.6,561.1 579.5,560.9 580.5,561.2 582.6,562.6 583.7,563.1 584.7,563.2 588.2,562.8 594.0,562.7 596.0,562.8 604.3,563.7 608.6,563.5 610.6,563.2 615.9,561.7 617.5,561.0 619.0,559.7 620.5,558.0 622.1,555.8 625.0,550.7 627.7,544.7 628.9,541.5 630.0,538.2 631.6,532.2 633.4,520.2 634.5,508.8 635.6,495.0 637.6,461.3 637.9,457.7 638.3,456.3 638.6,457.5 639.0,460.9 639.6,472.1 641.0,509.9 642.9,547.6 643.8,559.6 645.0,570.0 648.9,570.5 657.5,570.3" fill="none" stroke="#3b4ec6" stroke-width="1.5" stroke-linejoin="round" />
<polyline points="428.1,549.9 429.5,553.0 430.8,555.2 431.5,555.8 433.8,556.8 434.5,557.5 435.7,559.6 437.2,564.3 439.1,574.9 439.5,575.6 440.0,574.5 440.4,572.0 443.5,546.8 444.1,542.8 444.6,540.9 445.0,541.5 445.4,544.2 447.1,561.6 447.8,566.8 448.2,567.3 448.7,565.3 450.4,552.0 451.0,549.2 451.6,548.3 452.1,548.5 453.2,550.2 453.8,550.7 454.3,550.5 456.0,549.2 457.1,549.3 458.1,550.1 459.3,552.2 461.9,563.5 462.5,564.3 462.9,562.8 463.3,559.6 465.4,536.3 466.1,531.8 466.5,532.4 467.5,540.0 468.0,540.9 468.5,539.3 470.6,529.3 471.2,528.0 471.8,529.2 473.5,538.8 473.9,540.1 474.4,539.3 474.7,537.3 475.8,528.8 477.4,521.7 479.1,515.8 480.8,511.6 482.7,504.4 483.6,497.8 484.1,492.3 485.8,470.4 487.5,452.1 489.1,438.9 489.7,435.8 490.0,435.7 490.5,437.4 491.1,441.4 492.8,459.5 495.1,492.5 497.3,532.3 498.6,550.2 499.4,556.2 500.1,558.6 500.9,560.5 501.8,561.8 502.9,562.5 504.3,563.1 508.5,564.4 528.2,566.6 542.8,567.7 551.5,568.0 559.9,567.8 568.1,567.2 581.0,565.7 585.9,564.7 588.0,564.1 591.3,562.6 594.2,560.7 595.8,559.4 600.3,554.6 601.6,553.7 602.6,553.3 603.4,553.2 604.8,553.8 606.6,555.3 614.7,565.9 615.8,566.8 618.4,568.0 624.6,569.3 627.2,569.6 634.7,569.9 657.5,570.3" fill="none" stroke="#b0432f" stroke-width="1.7" stroke-linejoin="round" />
<path d="M427.9,435.5 L427.9,586.2 L656.7,586.2" fill="none" stroke="#4e4e4e" stroke-width="1.45"/>
<line x1="427.90" y1="570.30" x2="430.40" y2="570.30" stroke="#4e4e4e" stroke-width="1" />
<text x="423.0" y="575.3" font-size="14" fill="#505050" text-anchor="end" stroke="#505050" stroke-width="0.3">0</text>
<line x1="427.90" y1="532.55" x2="430.40" y2="532.55" stroke="#4e4e4e" stroke-width="1" />
<text x="423.0" y="537.5" font-size="14" fill="#505050" text-anchor="end" stroke="#505050" stroke-width="0.3">0.05</text>
<line x1="427.90" y1="494.80" x2="430.40" y2="494.80" stroke="#4e4e4e" stroke-width="1" />
<text x="423.0" y="499.8" font-size="14" fill="#505050" text-anchor="end" stroke="#505050" stroke-width="0.3">0.1</text>
<line x1="427.90" y1="457.05" x2="430.40" y2="457.05" stroke="#4e4e4e" stroke-width="1" />
<text x="423.0" y="462.0" font-size="14" fill="#505050" text-anchor="end" stroke="#505050" stroke-width="0.3">0.15</text>
<line x1="451.00" y1="586.20" x2="451.00" y2="583.70" stroke="#4e4e4e" stroke-width="1" />
<text x="450.2" y="603.2" font-size="14" fill="#505050" text-anchor="middle" stroke="#505050" stroke-width="0.3">50</text>
<line x1="496.90" y1="586.20" x2="496.90" y2="583.70" stroke="#4e4e4e" stroke-width="1" />
<text x="496.1" y="603.2" font-size="14" fill="#505050" text-anchor="middle" stroke="#505050" stroke-width="0.3">60</text>
<line x1="542.80" y1="586.20" x2="542.80" y2="583.70" stroke="#4e4e4e" stroke-width="1" />
<text x="542.0" y="603.2" font-size="14" fill="#505050" text-anchor="middle" stroke="#505050" stroke-width="0.3">70</text>
<line x1="588.70" y1="586.20" x2="588.70" y2="583.70" stroke="#4e4e4e" stroke-width="1" />
<text x="587.9" y="603.2" font-size="14" fill="#505050" text-anchor="middle" stroke="#505050" stroke-width="0.3">80</text>
<line x1="634.60" y1="586.20" x2="634.60" y2="583.70" stroke="#4e4e4e" stroke-width="1" />
<text x="633.8" y="603.2" font-size="14" fill="#505050" text-anchor="middle" stroke="#505050" stroke-width="0.3">90</text>
<text x="542.5" y="620.3" font-size="15.2" fill="#505050" text-anchor="middle" stroke="#505050" stroke-width="0.3" textLength="121.0" lengthAdjust="spacingAndGlyphs">Temperature (°C)</text>
<text x="389.0" y="507.3" font-size="13.5" fill="#505050" text-anchor="middle" stroke="#505050" stroke-width="0.3" textLength="167.5" lengthAdjust="spacingAndGlyphs" transform="rotate(-90 389.0 507.3)">-d(Fluoresence)/dT (a.u.)</text>
<line x1="508.10" y1="431.30" x2="550.80" y2="431.30" stroke="#3b4ec6" stroke-width="1.4" />
<line x1="508.10" y1="445.70" x2="550.80" y2="445.70" stroke="#b0432f" stroke-width="1.5" />
<line x1="508.10" y1="460.50" x2="550.80" y2="460.50" stroke="#a0a0a0" stroke-width="1.4" />
<text x="555.4" y="436.2" font-size="13" fill="#262626" text-anchor="start" stroke="#262626" stroke-width="0.3" textLength="117.4" lengthAdjust="spacingAndGlyphs">High Conc. Multiplex</text>
<text x="555.4" y="450.5" font-size="13" fill="#262626" text-anchor="start" stroke="#262626" stroke-width="0.3" textLength="114.5" lengthAdjust="spacingAndGlyphs">Low Conc. Multiplex</text>
<text x="555.4" y="464.8" font-size="13" fill="#262626" text-anchor="start" stroke="#262626" stroke-width="0.3" textLength="26.4" lengthAdjust="spacingAndGlyphs">NTC</text>
<g fill="none" stroke="#E8A235" stroke-width="1.2" stroke-linejoin="round">
<polyline points="81.0,797.6 114.1,797.5 116.0,796.8 117.9,795.5 125.5,787.8 127.4,786.4 129.3,785.6 167.1,782.1 168.1,781.9 170.0,779.6 171.9,777.8 173.8,776.9 174.7,776.8 176.6,777.4 178.5,778.9 180.4,780.8 181.3,780.8 187.0,768.3 189.9,761.1 191.8,755.6 195.6,743.2 203.1,716.0 205.0,709.9 206.9,704.6 208.8,700.3 210.7,697.1 211.6,696.0 212.6,695.3 213.5,694.9 214.5,694.9 215.4,695.1 217.3,696.0 218.3,696.7 220.2,698.7 223.0,703.0 225.8,708.6 228.7,715.5 232.5,726.2 243.8,762.4 248.6,776.1 251.4,783.1 253.3,787.1 256.1,792.1 258.0,794.5 259.9,796.3 260.9,796.9 261.8,797.3 263.7,797.6 307.3,797.6"/>
<polyline points="81.0,797.6 123.6,797.5 124.5,797.2 126.4,796.0 128.3,794.2 135.0,786.6 136.9,785.0 138.7,784.1 167.1,781.5 168.1,781.2 170.0,778.9 171.9,777.2 173.8,776.2 174.7,776.2 176.6,776.8 178.5,778.2 180.4,780.1 182.3,780.1 183.2,776.4 188.9,767.0 191.8,761.5 194.6,755.5 198.4,746.5 206.0,727.4 208.8,720.8 210.7,717.0 213.5,712.2 216.4,708.8 218.3,707.4 219.2,707.0 221.1,706.7 223.0,707.3 224.0,707.9 225.8,709.7 228.7,713.9 231.5,719.7 234.4,726.9 237.2,735.1 246.7,765.5 251.4,779.3 254.2,786.2 256.1,790.0 258.0,793.0 259.9,795.4 261.8,796.9 263.7,797.6 307.3,797.6"/>
<polyline points="81.0,797.6 129.3,797.6 130.2,797.5 131.2,797.1 133.1,796.0 135.0,794.3 140.6,788.4 142.5,786.8 144.4,785.8 145.4,785.6 167.1,783.6 168.1,783.3 170.0,781.0 171.9,779.3 173.8,778.4 174.7,778.3 176.6,778.9 178.5,780.3 180.4,782.2 181.3,781.7 183.2,776.4 186.1,770.9 188.9,764.5 192.7,754.5 196.5,742.7 204.1,716.9 207.9,705.8 210.7,699.5 212.6,696.7 214.5,695.0 215.4,694.6 216.4,694.6 217.3,694.7 219.2,695.6 220.2,696.2 222.1,698.1 224.9,702.2 226.8,705.7 228.7,709.8 231.5,716.8 234.4,724.7 246.7,763.4 251.4,776.8 254.2,783.6 256.1,787.5 259.0,792.3 260.9,794.6 262.8,796.3 263.7,796.9 265.6,797.6 307.3,797.6"/>
<polyline points="81.0,797.6 135.9,797.6 137.8,796.9 139.7,795.5 141.6,793.5 147.3,787.0 149.2,785.4 151.1,784.4 167.1,782.8 168.1,782.6 170.9,779.3 172.8,778.0 173.8,777.6 174.7,777.5 176.6,778.1 178.5,779.6 180.4,781.5 181.3,781.6 182.3,780.6 183.2,776.4 186.1,771.3 188.9,765.5 193.7,753.8 197.4,742.7 206.9,711.9 210.7,701.5 213.5,695.6 215.4,692.8 217.3,691.0 218.3,690.4 219.2,690.2 220.2,690.2 222.1,690.9 223.0,691.5 224.9,693.4 227.7,697.5 229.6,701.2 231.5,705.5 234.4,713.1 237.2,721.7 248.6,760.4 253.3,775.1 256.1,782.6 258.0,786.9 260.9,792.0 262.8,794.6 264.7,796.4 265.6,797.0 267.5,797.6 307.3,797.6"/>
<polyline points="81.0,797.6 146.3,797.6 148.2,797.0 150.1,795.6 152.0,793.8 156.7,788.5 159.6,786.0 161.5,785.0 167.1,784.4 168.1,784.2 170.9,780.9 172.8,779.5 173.8,779.2 174.7,779.1 175.7,779.3 177.6,780.3 180.4,783.1 181.3,782.6 183.2,776.4 188.9,766.8 191.8,761.3 194.6,755.0 198.4,745.7 206.9,723.3 210.7,714.6 213.5,709.4 216.4,705.6 218.3,704.0 219.2,703.5 221.1,703.0 222.1,703.1 224.0,703.7 224.9,704.3 226.8,706.0 229.6,709.8 231.5,713.0 233.4,716.9 236.3,723.5 239.1,731.0 250.5,764.7 255.2,777.6 258.0,784.1 259.9,787.9 262.8,792.5 264.7,794.8 266.6,796.4 267.5,797.0 269.4,797.6 307.3,797.6"/>
<polyline points="81.0,797.6 152.9,797.5 154.8,796.8 156.7,795.5 164.3,787.8 166.2,786.4 168.1,785.5 170.9,782.2 172.8,780.8 173.8,780.5 174.7,780.4 175.7,780.6 177.6,781.6 180.4,784.4 181.3,784.4 183.2,776.4 188.0,767.7 192.7,757.1 196.5,747.2 205.0,722.5 208.8,713.0 211.6,707.5 213.5,704.8 215.4,703.0 216.4,702.5 218.3,702.2 219.2,702.3 221.1,703.0 224.0,705.3 226.8,708.8 228.7,711.9 230.6,715.4 233.4,721.6 237.2,731.0 249.5,765.7 254.2,777.7 257.1,783.9 259.0,787.5 261.8,792.0 263.7,794.3 266.6,796.6 268.4,797.4 269.4,797.6 307.3,797.6"/>
<polyline points="81.0,797.6 178.5,797.6 179.5,795.0 183.2,776.4 188.0,767.4 192.7,756.2 196.5,745.7 204.1,722.6 206.9,714.8 209.8,708.4 211.6,705.1 212.6,703.8 214.5,701.9 215.4,701.3 216.4,701.0 217.3,701.0 219.2,701.7 220.2,702.4 222.1,704.4 224.9,709.0 227.7,715.4 229.6,720.5 232.5,729.1 242.9,765.0 246.7,776.9 249.5,784.4 251.4,788.7 253.3,792.2 255.2,794.8 257.1,796.6 258.0,797.2 259.9,797.6 307.3,797.6"/>
<polyline points="81.0,797.6 174.7,797.6 175.7,796.6 183.2,776.4 188.0,767.5 192.7,756.6 196.5,746.4 204.1,724.4 207.9,714.9 210.7,709.4 212.6,706.8 214.5,705.2 215.4,704.8 216.4,704.6 217.3,704.6 219.2,705.2 220.2,705.7 222.1,707.3 224.9,710.7 226.8,713.7 228.7,717.2 231.5,723.3 235.3,732.9 246.7,765.1 251.4,777.4 254.2,783.7 256.1,787.4 259.0,792.0 260.9,794.3 263.7,796.7 265.6,797.4 266.6,797.6 307.3,797.6"/>
<polyline points="81.0,797.6 174.7,797.6 175.7,796.6 183.2,776.4 186.1,771.8 188.9,766.6 191.8,760.9 194.6,754.5 198.4,744.9 206.0,724.5 208.8,717.5 210.7,713.4 213.5,708.2 215.4,705.7 217.3,703.9 218.3,703.3 220.2,702.7 222.1,703.0 223.0,703.5 224.9,705.1 225.8,706.3 227.7,709.3 230.6,715.2 233.4,722.8 236.3,731.5 245.7,764.1 250.5,778.9 253.3,786.1 255.2,790.1 257.1,793.3 259.0,795.6 260.9,797.1 262.8,797.6 307.3,797.6"/>
<polyline points="81.0,797.6 177.6,797.6 178.5,795.1 183.2,776.4 188.0,766.7 190.8,759.7 192.7,754.5 196.5,742.8 204.1,717.3 206.9,708.8 209.8,702.1 211.6,698.8 213.5,696.7 214.5,696.1 215.4,695.8 216.4,695.7 217.3,695.9 219.2,696.7 221.1,698.1 223.0,700.2 225.8,704.3 229.6,711.6 232.5,718.2 236.3,728.3 247.6,761.7 252.4,774.5 255.2,781.3 258.0,787.0 260.9,791.6 262.8,794.0 265.6,796.5 267.5,797.4 268.4,797.6 307.3,797.6"/>
<polyline points="81.0,797.6 179.5,797.5 183.2,776.4 188.0,767.5 191.8,759.1 195.6,749.3 203.1,728.1 206.9,718.7 209.8,713.2 211.6,710.6 213.5,708.9 215.4,708.2 216.4,708.2 218.3,708.9 219.2,709.5 221.1,711.3 224.0,715.5 226.8,721.2 228.7,725.8 231.5,733.5 241.9,766.0 246.7,779.4 249.5,786.2 251.4,789.9 253.3,792.9 255.2,795.3 257.1,796.8 258.0,797.3 259.9,797.6 307.3,797.6"/>
<polyline points="81.0,797.6 173.8,797.6 174.7,796.8 183.2,776.4 186.1,770.8 188.0,766.7 191.8,757.0 196.5,742.2 205.0,712.0 208.8,700.7 211.6,694.4 213.5,691.6 214.5,690.6 215.4,690.0 216.4,689.7 217.3,689.6 218.3,689.9 219.2,690.4 220.2,691.2 222.1,693.6 224.9,698.9 227.7,706.2 229.6,711.9 232.5,721.7 242.9,762.2 246.7,775.4 249.5,783.8 251.4,788.4 253.3,792.2 255.2,795.0 257.1,796.8 258.0,797.3 259.0,797.6 307.3,797.6"/>
<polyline points="81.0,797.6 175.7,797.6 176.6,795.5 183.2,776.4 186.1,771.4 188.9,765.8 193.7,754.6 198.4,741.1 206.9,714.4 210.7,704.3 213.5,698.4 215.4,695.5 217.3,693.5 218.3,692.9 219.2,692.6 220.2,692.5 221.1,692.6 223.0,693.5 224.0,694.3 225.8,696.5 228.7,701.4 231.5,707.9 234.4,715.8 237.2,724.8 247.6,761.5 251.4,773.8 254.2,781.8 256.1,786.3 259.0,791.9 260.9,794.6 262.8,796.4 263.7,797.0 265.6,797.6 307.3,797.6"/>
<polyline points="81.0,797.6 178.5,797.6 183.2,776.4 188.0,766.5 191.8,756.9 195.6,745.6 202.2,724.3 205.0,716.2 207.9,709.7 209.8,706.6 211.6,704.6 212.6,704.1 213.5,703.9 215.4,704.3 216.4,704.8 218.3,706.5 221.1,710.8 224.0,716.8 225.8,721.7 228.7,730.0 239.1,765.4 243.8,779.8 246.7,786.9 248.6,790.7 250.5,793.8 252.4,795.9 254.2,797.2 256.1,797.6 307.3,797.6"/>
<polyline points="81.0,797.6 174.7,797.6 175.7,796.5 183.2,776.4 188.0,767.6 192.7,756.9 196.5,746.9 204.1,725.3 207.9,715.8 210.7,710.3 212.6,707.7 214.5,705.9 215.4,705.4 217.3,705.2 218.3,705.3 220.2,706.1 223.0,708.4 225.8,711.9 227.7,715.0 229.6,718.6 232.5,724.7 236.3,734.1 247.6,765.7 252.4,777.7 255.2,783.9 257.1,787.5 259.9,791.9 261.8,794.2 264.7,796.6 266.6,797.4 267.5,797.6 307.3,797.6"/>
<polyline points="81.0,797.6 173.8,797.6 174.7,796.8 183.2,776.4 187.0,768.1 189.9,760.5 194.6,745.1 203.1,712.9 205.0,706.6 206.9,701.1 208.8,696.8 210.7,693.8 211.6,692.9 212.6,692.3 213.5,692.2 214.5,692.2 216.4,692.9 218.3,694.2 220.2,696.2 223.0,700.3 226.8,707.6 229.6,714.4 233.4,724.7 245.7,762.1 250.5,775.2 253.3,782.0 256.1,787.7 259.0,792.3 260.9,794.5 262.8,796.2 263.7,796.8 265.6,797.5 266.6,797.6 307.3,797.6"/>
<polyline points="81.0,797.6 173.8,797.6 174.7,796.6 183.2,776.4 188.0,768.3 192.7,758.5 197.4,746.8 206.0,723.7 208.8,716.8 210.7,712.8 213.5,708.0 215.4,705.6 217.3,704.1 218.3,703.7 220.2,703.4 222.1,704.1 223.0,704.7 224.9,706.7 227.7,711.2 230.6,717.4 232.5,722.3 235.3,730.7 245.7,765.6 249.5,777.2 252.4,784.6 254.2,788.7 256.1,792.1 258.0,794.8 259.9,796.6 260.9,797.1 262.8,797.6 307.3,797.6"/>
<polyline points="81.0,797.6 178.5,797.6 179.5,794.0 183.2,776.4 186.1,770.6 188.0,766.2 190.8,758.6 192.7,752.9 196.5,739.9 204.1,711.6 206.9,702.3 209.8,694.9 211.6,691.5 213.5,689.3 214.5,688.8 215.4,688.6 216.4,688.7 218.3,689.6 219.2,690.3 221.1,692.3 224.0,696.8 226.8,702.9 229.6,710.4 233.4,722.1 243.8,758.4 248.6,773.6 251.4,781.4 253.3,785.9 256.1,791.4 258.0,794.1 259.9,796.1 260.9,796.8 261.8,797.3 263.7,797.6 307.3,797.6"/>
<polyline points="81.0,797.6 178.5,797.6 179.5,797.0 183.2,776.4 188.0,766.6 191.8,757.0 195.6,745.7 202.2,723.9 205.0,715.3 207.9,708.0 209.8,704.3 211.6,701.7 212.6,700.8 213.5,700.2 214.5,700.0 215.4,700.0 217.3,700.7 218.3,701.4 220.2,703.3 223.0,707.7 225.8,713.7 228.7,721.0 231.5,729.4 241.9,764.0 246.7,778.2 249.5,785.3 251.4,789.2 253.3,792.5 255.2,794.9 257.1,796.6 258.0,797.2 259.9,797.6 307.3,797.6"/>
<polyline points="81.0,797.6 175.7,797.6 176.6,795.5 183.2,776.4 186.1,771.7 188.9,766.5 191.8,760.6 194.6,754.0 198.4,744.2 206.9,720.3 210.7,711.1 213.5,705.6 216.4,701.7 218.3,700.1 219.2,699.6 221.1,699.3 222.1,699.4 224.0,700.3 224.9,701.0 226.8,703.0 229.6,707.3 232.5,713.1 235.3,720.1 238.2,728.2 249.5,764.3 253.3,775.4 256.1,782.6 258.0,786.7 260.9,791.8 262.8,794.4 264.7,796.2 265.6,796.8 267.5,797.5 307.3,797.6"/>
<polyline points="81.0,797.6 175.7,797.6 176.6,796.8 183.2,776.4 188.9,766.6 193.7,756.8 197.4,747.6 205.0,728.0 208.8,719.3 211.6,714.0 214.5,710.1 216.4,708.5 217.3,708.0 219.2,707.5 221.1,708.0 222.1,708.5 224.0,710.2 226.8,714.3 229.6,720.0 231.5,724.7 234.4,732.6 244.8,766.1 249.5,780.0 252.4,786.8 254.2,790.5 256.1,793.5 258.0,795.7 259.9,797.1 261.8,797.6 307.3,797.6"/>
<polyline points="81.0,797.6 176.6,797.6 177.6,796.0 183.2,776.4 186.1,770.4 188.0,765.8 190.8,757.9 192.7,751.9 196.5,738.3 204.1,708.4 206.0,701.8 207.9,696.0 209.8,691.2 211.6,687.8 212.6,686.6 213.5,685.8 214.5,685.4 215.4,685.4 216.4,685.6 218.3,686.5 219.2,687.2 221.1,689.2 224.0,693.5 225.8,697.2 227.7,701.5 230.6,709.0 234.4,720.4 245.7,758.7 250.5,773.2 253.3,780.8 255.2,785.2 258.0,790.6 259.9,793.4 261.8,795.5 262.8,796.3 264.7,797.3 265.6,797.6 307.3,797.6"/>
<polyline points="81.0,797.6 178.5,797.6 179.5,795.7 183.2,776.4 186.1,771.1 188.9,765.1 191.8,758.1 193.7,752.9 197.4,741.2 206.0,712.4 208.8,703.9 211.6,697.0 213.5,693.6 215.4,691.1 216.4,690.3 217.3,689.8 218.3,689.6 219.2,689.6 221.1,690.2 223.0,691.6 224.9,693.6 227.7,697.8 229.6,701.4 231.5,705.6 234.4,712.7 238.2,723.6 249.5,760.1 254.2,774.0 257.1,781.2 259.0,785.4 261.8,790.7 263.7,793.4 265.6,795.5 266.6,796.2 268.4,797.3 269.4,797.5 307.3,797.6"/>
<polyline points="81.0,797.6 175.7,797.6 176.6,797.4 183.2,776.4 186.1,770.4 188.0,765.9 191.8,755.2 195.6,742.5 203.1,714.1 206.9,702.0 208.8,697.4 210.7,694.0 211.6,692.8 212.6,692.0 213.5,691.5 214.5,691.4 216.4,692.0 217.3,692.7 219.2,694.8 222.1,699.6 224.9,706.2 227.7,714.5 230.6,724.0 240.0,759.4 244.8,775.5 247.6,783.6 249.5,788.1 251.4,791.8 253.3,794.7 255.2,796.6 256.1,797.2 258.0,797.6 307.3,797.6"/>
<polyline points="81.0,797.6 173.8,797.6 174.7,796.9 183.2,776.4 186.1,771.1 188.9,765.1 192.7,755.5 197.4,740.9 206.9,707.7 210.7,696.4 213.5,689.9 215.4,686.8 217.3,684.8 218.3,684.3 219.2,684.0 220.2,684.0 222.1,684.7 224.0,686.0 225.8,688.1 228.7,692.6 230.6,696.4 232.5,700.7 235.3,708.3 238.2,716.8 250.5,758.4 255.2,773.1 258.0,780.7 259.9,785.1 262.8,790.5 264.7,793.4 266.6,795.5 267.5,796.3 269.4,797.3 270.3,797.6 307.3,797.6"/>
<polyline points="81.0,797.6 174.7,797.6 175.7,795.8 183.2,776.4 188.0,767.3 191.8,758.5 195.6,748.3 204.1,723.1 207.9,713.6 210.7,708.3 212.6,705.9 214.5,704.5 215.4,704.2 216.4,704.2 217.3,704.3 219.2,705.0 221.1,706.2 223.0,707.9 225.8,711.5 229.6,717.9 232.5,723.7 236.3,732.6 248.6,765.0 253.3,776.5 256.1,782.6 259.0,787.7 261.8,791.9 263.7,794.1 265.6,795.8 267.5,796.9 269.4,797.5 270.3,797.6 307.3,797.6"/>
<polyline points="81.0,797.6 178.5,797.6 179.5,794.4 183.2,776.4 188.0,766.6 191.8,757.0 195.6,745.7 203.1,720.6 206.0,712.2 208.8,705.4 210.7,702.0 212.6,699.8 213.5,699.2 214.5,698.9 215.4,698.8 217.3,699.5 218.3,700.2 220.2,702.3 223.0,707.1 225.8,713.7 227.7,718.9 230.6,727.8 241.0,764.7 244.8,776.9 247.6,784.6 249.5,788.9 251.4,792.4 253.3,795.0 255.2,796.8 256.1,797.3 258.0,797.6 307.3,797.6"/>
<polyline points="81.0,797.6 173.8,797.6 174.7,797.4 183.2,776.4 188.0,767.9 192.7,757.7 196.5,748.2 205.0,724.5 208.8,715.3 211.6,709.9 213.5,707.2 215.4,705.3 216.4,704.7 218.3,704.2 219.2,704.3 221.1,705.0 222.1,705.6 224.0,707.4 226.8,711.2 228.7,714.5 230.6,718.4 233.4,725.1 236.3,732.7 246.7,763.8 251.4,776.8 254.2,783.5 256.1,787.4 259.0,792.1 260.9,794.5 262.8,796.2 263.7,796.8 265.6,797.5 266.6,797.6 307.3,797.6"/>
<polyline points="81.0,797.6 174.7,797.6 183.2,776.4 188.0,767.8 192.7,757.3 196.5,747.4 205.0,722.8 208.8,713.3 211.6,707.8 213.5,705.1 215.4,703.2 216.4,702.7 218.3,702.3 220.2,702.8 221.1,703.4 223.0,705.4 225.8,709.9 228.7,716.2 230.6,721.2 233.4,729.8 243.8,765.7 247.6,777.5 250.5,785.0 252.4,789.2 254.2,792.6 256.1,795.1 258.0,796.8 259.9,797.6 307.3,797.6"/>
<polyline points="81.0,797.6 177.6,797.6 183.2,776.4 188.0,767.0 190.8,760.2 192.7,755.1 196.5,743.6 205.0,714.7 208.8,703.4 211.6,697.0 213.5,693.9 215.4,691.9 216.4,691.4 217.3,691.1 218.3,691.2 220.2,691.9 221.1,692.6 223.0,694.6 225.8,699.3 228.7,705.6 231.5,713.3 234.4,722.3 244.8,759.2 249.5,774.7 252.4,782.6 254.2,787.0 257.1,792.4 259.0,794.9 260.9,796.7 261.8,797.2 263.7,797.6 307.3,797.6"/>
<polyline points="81.0,797.6 175.7,797.6 176.6,796.6 183.2,776.4 188.0,767.3 192.7,756.2 196.5,745.8 203.1,726.2 206.9,716.3 209.8,710.5 211.6,707.7 213.5,705.9 214.5,705.4 215.4,705.1 216.4,705.1 218.3,705.6 219.2,706.2 221.1,707.9 224.0,711.8 226.8,717.3 229.6,724.0 232.5,731.7 243.8,766.8 247.6,777.4 250.5,784.3 252.4,788.2 255.2,792.9 257.1,795.2 259.0,796.7 259.9,797.2 261.8,797.6 307.3,797.6"/>
<polyline points="81.0,797.6 176.6,797.6 177.6,796.2 183.2,776.4 188.9,766.9 193.7,757.3 197.4,748.3 206.0,726.4 209.8,717.7 212.6,712.4 215.4,708.4 217.3,706.7 218.3,706.1 220.2,705.5 222.1,705.7 223.0,706.1 224.9,707.7 225.8,708.8 227.7,711.5 230.6,717.1 233.4,724.2 236.3,732.4 246.7,766.6 250.5,777.9 253.3,785.1 255.2,789.1 257.1,792.5 259.0,795.0 260.9,796.7 261.8,797.2 263.7,797.6 307.3,797.6"/>
<polyline points="81.0,797.6 173.8,797.6 174.7,797.2 183.2,776.4 186.1,771.3 188.9,765.5 191.8,758.9 193.7,753.9 198.4,739.6 207.9,707.4 210.7,699.0 212.6,694.2 215.4,688.4 217.3,685.8 219.2,684.2 220.2,683.8 221.1,683.7 222.1,683.8 224.0,684.6 224.9,685.3 226.8,687.2 229.6,691.5 231.5,695.2 233.4,699.6 236.3,707.1 240.0,718.7 251.4,758.0 256.1,772.9 259.0,780.6 260.9,785.1 263.7,790.7 265.6,793.5 267.5,795.6 268.4,796.4 270.3,797.4 271.3,797.6 307.3,797.6"/>
<polyline points="81.0,797.6 176.6,797.6 183.2,776.4 186.1,771.3 188.9,765.5 191.8,758.9 194.6,751.3 198.4,739.8 206.9,712.0 210.7,701.5 213.5,695.5 215.4,692.6 217.3,690.7 218.3,690.2 219.2,689.9 220.2,689.9 222.1,690.6 223.0,691.3 224.9,693.5 227.7,698.5 230.6,705.4 233.4,713.8 236.3,723.5 245.7,759.5 250.5,775.8 253.3,783.9 255.2,788.4 257.1,792.1 259.0,794.8 260.9,796.7 261.8,797.2 263.7,797.6 307.3,797.6"/>
<polyline points="81.0,797.6 177.6,797.6 178.5,797.3 183.2,776.4 186.1,770.1 188.0,765.3 190.8,756.9 192.7,750.4 195.6,739.7 203.1,708.8 206.0,698.9 207.9,693.6 209.8,689.7 210.7,688.3 211.6,687.3 212.6,686.7 213.5,686.6 214.5,686.7 216.4,687.5 217.3,688.2 219.2,690.1 222.1,694.3 224.0,697.9 225.8,702.1 228.7,709.5 232.5,720.8 243.8,758.8 248.6,773.4 251.4,780.9 254.2,787.2 257.1,792.1 259.0,794.6 260.9,796.3 261.8,796.9 263.7,797.6 307.3,797.6"/>
<polyline points="81.0,797.6 174.7,797.6 175.7,797.2 183.2,776.4 186.1,771.6 188.9,766.2 191.8,760.1 194.6,753.3 198.4,743.1 206.0,721.7 209.8,712.4 212.6,707.0 214.5,704.3 216.4,702.4 217.3,701.8 219.2,701.3 220.2,701.3 222.1,701.9 224.0,703.1 225.8,705.0 228.7,708.8 232.5,715.7 235.3,722.1 238.2,729.3 250.5,764.3 255.2,776.7 258.0,783.1 259.9,786.8 262.8,791.5 264.7,793.9 267.5,796.4 269.4,797.3 270.3,797.5 307.3,797.6"/>
</g>
<g fill="none" stroke="#1f2a93" stroke-width="1.1" stroke-linejoin="round">
<polyline points="81.0,797.6 151.1,797.6 152.9,797.3 156.7,795.8 162.4,792.7 169.0,788.2 175.7,783.0 183.2,776.4 190.8,768.8 195.6,763.6 200.3,757.8 211.6,743.0 215.4,738.7 219.2,734.9 223.0,731.9 225.8,730.3 227.7,729.5 229.6,729.0 232.5,728.7 234.4,728.9 236.3,729.4 238.2,730.1 240.0,731.2 243.8,734.1 245.7,735.9 248.6,739.1 252.4,744.1 256.1,749.7 270.3,773.2 275.1,780.5 279.8,786.9 284.5,792.0 287.4,794.4 289.3,795.6 291.2,796.5 293.1,797.2 295.9,797.6 307.3,797.6"/>
<polyline points="81.0,797.6 152.9,797.6 154.8,797.4 157.7,796.4 161.5,794.5 166.2,791.4 170.9,787.8 175.7,783.7 183.2,776.4 191.8,769.0 196.5,764.6 201.2,759.6 213.5,746.0 217.3,742.2 221.1,738.8 225.8,735.4 229.6,733.4 232.5,732.4 234.4,731.9 238.2,731.6 240.0,731.8 241.9,732.3 245.7,734.0 249.5,736.8 254.2,741.5 258.0,746.2 261.8,751.5 276.0,773.5 280.8,780.5 285.5,786.6 289.3,790.7 292.1,793.2 294.0,794.6 297.8,796.6 299.7,797.2 301.6,797.5 307.3,797.6"/>
<polyline points="81.0,797.6 158.6,797.6 159.6,797.5 161.5,796.7 164.3,795.0 167.1,793.0 172.8,787.9 177.6,783.0 183.2,776.4 191.8,767.3 195.6,762.7 199.3,757.7 213.5,736.9 217.3,732.0 220.2,728.7 224.0,725.2 227.7,722.7 229.6,721.8 231.5,721.2 234.4,721.0 236.3,721.2 238.2,721.7 240.0,722.6 241.9,723.8 245.7,727.2 247.6,729.3 250.5,733.0 254.2,738.6 258.0,745.1 271.3,769.9 276.0,778.2 280.8,785.5 283.6,789.2 285.5,791.3 288.3,794.0 290.2,795.3 292.1,796.4 294.0,797.1 296.8,797.6 307.3,797.6"/>
<polyline points="81.0,797.6 146.3,797.6 149.2,796.7 155.8,793.5 163.4,789.2 172.8,783.4 183.2,776.4 190.8,769.7 195.6,765.2 200.3,760.2 214.5,744.2 219.2,739.6 223.0,736.6 226.8,734.1 230.6,732.4 234.4,731.4 237.2,731.3 239.1,731.5 241.0,731.9 242.9,732.5 245.7,734.0 249.5,736.7 254.2,741.3 258.0,745.7 262.8,752.0 277.0,773.0 281.7,779.7 286.4,785.6 291.2,790.6 294.0,793.0 295.9,794.4 299.7,796.4 303.5,797.4 307.3,797.6"/>
<polyline points="81.0,797.6 165.3,797.6 166.2,797.5 168.1,796.4 170.0,794.9 173.8,790.8 178.5,784.2 183.2,776.4 191.8,769.4 196.5,765.2 211.6,750.0 216.4,745.6 222.1,741.1 226.8,738.3 229.6,737.0 232.5,736.2 235.3,735.7 237.2,735.6 239.1,735.8 241.0,736.3 242.9,737.0 244.8,738.1 248.6,741.0 252.4,744.9 256.1,749.6 259.9,755.1 272.2,774.6 277.0,781.6 281.7,787.8 284.5,790.9 286.4,792.7 289.3,794.9 291.2,796.0 293.1,796.8 295.0,797.3 296.8,797.6 307.3,797.6"/>
<polyline points="81.0,797.6 152.0,797.6 154.8,796.8 157.7,795.6 161.5,793.5 165.3,791.1 172.8,785.5 182.3,777.3 190.8,768.9 195.6,763.6 199.3,758.8 216.4,734.9 220.2,730.2 224.0,726.2 227.7,722.9 231.5,720.6 233.4,719.8 235.3,719.3 238.2,719.0 240.0,719.1 241.9,719.6 243.8,720.4 246.7,722.1 250.5,725.5 255.2,731.1 259.0,736.5 263.7,744.3 277.0,768.5 281.7,776.6 286.4,783.9 291.2,789.8 295.0,793.5 296.8,794.9 298.7,796.1 300.6,796.9 302.5,797.4 304.4,797.6 307.3,797.6"/>
<polyline points="81.0,797.6 148.2,797.6 150.1,797.3 152.9,796.5 158.6,794.2 164.3,791.1 170.0,787.3 176.6,782.2 183.2,776.4 190.8,768.6 196.5,761.9 201.2,755.5 213.5,737.9 217.3,733.1 220.2,729.9 224.0,726.4 227.7,723.8 229.6,722.9 231.5,722.3 234.4,721.9 236.3,722.0 238.2,722.4 240.0,723.2 241.9,724.3 245.7,727.5 247.6,729.5 250.5,733.1 254.2,738.6 258.0,744.9 271.3,769.5 276.0,777.9 280.8,785.2 283.6,788.9 285.5,791.0 288.3,793.8 290.2,795.2 292.1,796.3 294.0,797.1 296.8,797.6 307.3,797.6"/>
<polyline points="81.0,797.6 165.3,797.6 166.2,797.0 168.1,795.5 170.9,792.6 176.6,785.7 183.2,776.4 191.8,768.2 197.4,762.0 202.2,756.1 214.5,739.7 218.3,735.1 222.1,730.9 226.8,726.7 230.6,724.2 233.4,722.9 235.3,722.4 237.2,722.1 239.1,722.0 241.0,722.2 242.9,722.7 244.8,723.6 246.7,724.8 250.5,728.0 252.4,730.0 255.2,733.5 259.0,738.9 262.8,745.0 276.0,768.9 280.8,777.1 285.5,784.3 290.2,790.2 293.1,793.0 295.0,794.5 296.8,795.8 298.7,796.7 300.6,797.3 302.5,797.6 307.3,797.6"/>
<polyline points="81.0,797.6 166.2,797.6 168.1,796.6 170.0,795.0 173.8,790.8 178.5,784.2 183.2,776.4 191.8,769.4 196.5,765.1 201.2,760.5 211.6,749.7 216.4,745.2 222.1,740.7 224.9,738.8 227.7,737.3 230.6,736.1 232.5,735.6 235.3,735.1 237.2,735.0 239.1,735.1 241.0,735.5 244.8,737.0 248.6,739.6 253.3,744.0 257.1,748.4 261.8,754.8 275.1,774.6 279.8,781.3 284.5,787.2 289.3,792.0 292.1,794.2 294.0,795.4 297.8,797.0 300.6,797.6 307.3,797.6"/>
<polyline points="81.0,797.6 147.3,797.6 149.2,797.3 152.0,796.5 156.7,794.7 160.5,792.8 164.3,790.7 171.9,785.6 179.5,779.7 190.8,769.8 195.6,765.2 199.3,761.2 212.6,745.5 217.3,740.2 221.1,736.4 224.9,733.1 228.7,730.4 232.5,728.4 236.3,727.1 240.0,726.7 241.9,726.9 243.8,727.3 245.7,727.9 247.6,728.9 251.4,731.5 255.2,735.1 259.0,739.5 263.7,745.9 268.4,753.2 281.7,774.5 286.4,781.5 290.2,786.3 295.0,791.4 298.7,794.4 301.6,796.1 303.5,796.8 305.4,797.3 307.3,797.6"/>
<polyline points="81.0,797.6 155.8,797.6 156.7,797.5 159.6,796.1 164.3,793.0 170.0,788.5 175.7,783.6 183.2,776.4 190.8,769.8 195.6,765.4 200.3,760.6 211.6,748.2 215.4,744.5 219.2,741.2 224.0,737.9 227.7,736.0 231.5,734.8 235.3,734.4 237.2,734.6 239.1,735.0 242.9,736.7 246.7,739.3 251.4,743.7 255.2,748.2 259.9,754.5 273.2,774.4 277.9,781.0 282.6,786.9 287.4,791.7 290.2,794.0 292.1,795.2 295.9,796.9 297.8,797.4 299.7,797.6 307.3,797.6"/>
<polyline points="81.0,797.6 154.8,797.6 156.7,797.1 160.5,795.2 164.3,792.7 168.1,789.9 172.8,786.1 177.6,781.9 183.2,776.4 191.8,769.6 196.5,765.6 201.2,761.1 214.5,747.8 219.2,743.5 223.0,740.5 227.7,737.3 232.5,735.1 237.2,733.8 241.0,733.6 242.9,733.7 244.8,734.2 248.6,735.9 252.4,738.6 257.1,743.1 260.9,747.7 264.7,752.8 278.9,774.3 283.6,781.0 288.3,787.0 292.1,790.9 295.9,794.1 299.7,796.2 301.6,797.0 303.5,797.4 307.3,797.6"/>
<polyline points="81.0,797.6 167.1,797.6 169.0,795.8 172.8,791.0 183.2,776.4 191.8,769.1 196.5,764.7 201.2,759.8 211.6,748.5 216.4,743.9 222.1,739.1 226.8,736.2 229.6,734.9 231.5,734.3 234.4,733.8 236.3,733.6 238.2,733.7 240.0,734.1 241.9,734.7 243.8,735.6 247.6,738.2 252.4,742.8 256.1,747.3 260.9,753.8 274.1,774.2 278.9,781.1 283.6,787.1 288.3,792.0 291.2,794.3 293.1,795.5 295.0,796.4 296.8,797.1 299.7,797.6 307.3,797.6"/>
<polyline points="81.0,797.6 170.0,797.6 170.9,796.8 171.9,795.3 183.2,776.4 190.8,769.2 195.6,764.4 211.6,746.1 217.3,740.8 222.1,737.5 224.9,736.1 226.8,735.5 230.6,734.9 232.5,735.0 234.4,735.3 236.3,736.0 238.2,736.9 241.9,739.4 246.7,743.9 250.5,748.4 254.2,753.6 268.4,775.1 273.2,781.8 276.0,785.5 278.9,788.8 281.7,791.6 283.6,793.2 286.4,795.2 288.3,796.2 290.2,796.9 292.1,797.4 294.0,797.6 307.3,797.6"/>
<polyline points="81.0,797.6 154.8,797.6 155.8,797.3 161.5,793.7 170.0,787.3 180.4,778.8 192.7,768.3 196.5,764.6 200.3,760.7 217.3,741.1 221.1,737.2 224.9,733.7 229.6,730.2 233.4,728.0 236.3,726.9 238.2,726.4 241.9,726.0 243.8,726.1 245.7,726.6 247.6,727.4 249.5,728.6 253.3,731.8 257.1,736.3 260.9,741.8 264.7,748.0 277.0,770.7 281.7,778.9 286.4,786.1 290.2,790.8 294.0,794.4 295.9,795.7 297.8,796.7 299.7,797.3 301.6,797.6 307.3,797.6"/>
<polyline points="81.0,797.6 151.1,797.6 153.9,797.0 157.7,795.6 160.5,794.2 164.3,792.0 168.1,789.5 171.9,786.6 177.6,781.8 191.8,768.6 195.6,764.9 199.3,760.7 216.4,740.0 220.2,736.0 224.0,732.5 227.7,729.7 231.5,727.6 235.3,726.3 239.1,725.9 241.0,726.0 242.9,726.5 244.8,727.4 246.7,728.5 250.5,731.8 252.4,733.8 255.2,737.4 259.0,742.8 262.8,749.0 275.1,771.1 279.8,779.1 284.5,786.1 288.3,790.7 291.2,793.5 293.1,794.9 295.0,796.1 296.8,796.9 299.7,797.6 307.3,797.6"/>
<polyline points="81.0,797.6 163.4,797.6 164.3,797.6 166.2,796.9 168.1,795.7 170.0,794.2 173.8,790.3 178.5,784.0 183.2,776.4 191.8,768.9 197.4,763.4 202.2,758.2 214.5,743.8 221.1,737.0 225.8,733.1 230.6,730.2 233.4,729.0 235.3,728.4 238.2,727.9 240.0,727.9 241.9,728.1 243.8,728.6 245.7,729.5 247.6,730.6 251.4,733.7 256.1,739.1 259.9,744.3 263.7,750.2 276.0,771.3 280.8,778.9 285.5,785.7 290.2,791.2 294.0,794.5 295.9,795.7 297.8,796.6 299.7,797.2 301.6,797.6 307.3,797.6"/>
<polyline points="81.0,797.6 157.7,797.6 165.3,791.6 177.6,781.3 183.2,776.4 189.9,770.1 197.4,762.2 211.6,745.5 217.3,739.8 221.1,736.8 224.9,734.7 228.7,733.5 231.5,733.1 233.4,733.3 235.3,733.7 237.2,734.4 239.1,735.3 242.9,738.1 247.6,742.9 251.4,747.7 255.2,753.1 268.4,774.2 273.2,781.3 276.0,785.1 278.9,788.5 281.7,791.5 283.6,793.1 286.4,795.2 288.3,796.2 290.2,797.0 292.1,797.4 294.0,797.6 307.3,797.6"/>
<polyline points="81.0,797.6 164.3,797.5 166.2,796.5 168.1,795.0 172.8,790.3 177.6,784.5 183.2,776.4 190.8,769.0 195.6,764.0 200.3,758.4 209.8,746.7 215.4,740.5 220.2,736.3 224.0,733.9 227.7,732.5 229.6,732.1 231.5,732.0 233.4,732.2 235.3,732.6 237.2,733.4 239.1,734.4 242.9,737.3 247.6,742.2 251.4,747.1 255.2,752.7 268.4,774.0 273.2,781.2 277.9,787.4 282.6,792.3 285.5,794.6 287.4,795.8 289.3,796.6 291.2,797.2 294.0,797.6 307.3,797.6"/>
<polyline points="81.0,797.6 168.1,797.5 169.0,797.1 170.9,795.7 172.8,793.8 174.7,791.4 178.5,785.5 183.2,776.4 190.8,769.3 195.6,764.6 208.8,749.6 213.5,744.6 218.3,740.5 221.1,738.5 223.0,737.4 225.8,736.2 227.7,735.7 231.5,735.3 233.4,735.5 235.3,736.0 239.1,737.7 242.9,740.5 247.6,745.2 251.4,749.8 255.2,755.0 268.4,775.0 273.2,781.7 278.9,788.7 283.6,793.1 286.4,795.1 288.3,796.1 290.2,796.9 292.1,797.4 294.0,797.6 307.3,797.6"/>
<polyline points="81.0,797.6 154.8,797.6 157.7,796.9 160.5,795.6 163.4,793.9 167.1,791.3 173.8,785.8 180.4,779.4 190.8,768.4 195.6,762.7 199.3,757.6 210.7,740.6 215.4,733.9 219.2,729.1 222.1,726.0 225.8,722.7 228.7,720.9 230.6,720.1 232.5,719.5 235.3,719.3 237.2,719.5 239.1,720.0 241.0,720.7 243.8,722.4 247.6,725.7 252.4,731.1 256.1,736.3 260.9,743.8 275.1,768.9 279.8,776.8 284.5,783.8 289.3,789.6 292.1,792.5 294.0,794.0 297.8,796.3 299.7,797.0 301.6,797.5 307.3,797.6"/>
<polyline points="81.0,797.6 146.3,797.6 149.2,797.0 152.9,795.6 159.6,792.5 167.1,788.1 174.7,782.9 183.2,776.4 190.8,769.7 195.6,765.2 200.3,760.2 212.6,746.5 217.3,741.8 221.1,738.7 224.9,736.2 228.7,734.4 232.5,733.4 235.3,733.3 237.2,733.4 239.1,733.9 242.9,735.6 246.7,738.3 251.4,742.9 255.2,747.5 259.0,752.7 273.2,774.4 277.9,781.2 282.6,787.2 287.4,792.0 290.2,794.3 292.1,795.4 294.0,796.4 295.9,797.1 298.7,797.6 307.3,797.6"/>
<polyline points="81.0,797.6 147.3,797.6 149.2,797.3 152.0,796.6 154.8,795.6 158.6,793.9 162.4,791.9 166.2,789.7 173.8,784.3 182.3,777.3 190.8,769.1 195.6,764.1 200.3,758.3 213.5,740.0 218.3,733.8 222.1,729.4 225.8,725.6 229.6,722.5 233.4,720.3 237.2,719.0 240.0,718.7 241.9,718.9 243.8,719.4 245.7,720.2 247.6,721.4 251.4,724.7 253.3,726.9 256.1,730.5 259.9,736.3 263.7,742.8 277.0,768.2 281.7,776.8 286.4,784.3 290.2,789.4 293.1,792.5 295.0,794.1 296.8,795.5 298.7,796.5 300.6,797.2 302.5,797.6 307.3,797.6"/>
<polyline points="81.0,797.6 162.4,797.5 164.3,796.3 166.2,794.8 170.9,790.4 176.6,784.3 183.2,776.4 190.8,769.1 195.6,764.1 202.2,755.8 217.3,734.9 221.1,730.2 224.9,726.1 229.6,722.0 233.4,719.6 237.2,718.2 239.1,717.8 241.0,717.7 242.9,717.9 244.8,718.5 246.7,719.3 248.6,720.5 252.4,723.8 254.2,725.9 257.1,729.5 260.9,735.1 265.6,743.2 278.9,768.4 283.6,776.8 288.3,784.3 292.1,789.3 295.9,793.2 297.8,794.7 299.7,795.9 301.6,796.8 303.5,797.4 307.3,797.6"/>
<polyline points="81.0,797.6 152.0,797.6 153.9,797.4 156.7,796.4 162.4,793.4 168.1,789.6 174.7,784.3 181.3,778.2 189.9,770.0 194.6,765.2 199.3,759.7 211.6,744.6 215.4,740.4 219.2,736.8 223.0,733.9 225.8,732.3 229.6,731.0 232.5,730.6 234.4,730.7 236.3,731.0 238.2,731.7 241.0,733.1 244.8,735.8 249.5,740.5 253.3,745.1 258.0,751.7 271.3,772.4 277.0,780.7 281.7,786.8 286.4,791.7 289.3,794.0 291.2,795.2 295.0,797.0 296.8,797.4 298.7,797.6 307.3,797.6"/>
<polyline points="81.0,797.6 148.2,797.6 150.1,797.2 153.9,795.6 160.5,792.2 167.1,788.1 174.7,782.8 183.2,776.4 190.8,769.4 195.6,764.6 200.3,759.2 214.5,741.8 219.2,736.7 223.0,733.3 226.8,730.7 229.6,729.2 233.4,727.9 236.3,727.6 238.2,727.7 240.0,728.1 241.9,728.7 244.8,730.0 246.7,731.3 249.5,733.5 254.2,738.4 258.0,743.1 262.8,749.8 277.0,772.1 281.7,779.1 286.4,785.3 291.2,790.5 294.0,793.0 295.9,794.4 299.7,796.4 301.6,797.1 303.5,797.5 307.3,797.6"/>
<polyline points="81.0,797.6 152.0,797.6 152.9,797.6 153.9,797.1 158.6,794.2 166.2,789.1 183.2,776.4 190.8,767.9 196.5,760.5 201.2,753.4 212.6,735.3 215.4,731.2 218.3,727.5 222.1,723.5 225.8,720.5 227.7,719.4 229.6,718.7 232.5,718.3 234.4,718.5 236.3,718.9 238.2,719.8 240.0,720.9 243.8,724.2 245.7,726.3 248.6,729.9 252.4,735.6 256.1,742.0 270.3,769.2 275.1,777.6 279.8,785.1 282.6,788.8 284.5,791.0 287.4,793.7 289.3,795.2 291.2,796.3 293.1,797.1 295.9,797.6 307.3,797.6"/>
<polyline points="81.0,797.6 144.4,797.6 147.3,796.9 151.1,795.3 157.7,792.1 165.3,787.9 173.8,782.6 183.2,776.4 191.8,768.7 196.5,764.0 201.2,758.7 213.5,744.1 217.3,740.0 221.1,736.4 225.8,732.7 229.6,730.5 233.4,729.1 237.2,728.6 239.1,728.7 241.0,729.1 242.9,729.9 244.8,731.0 248.6,734.1 252.4,738.3 256.1,743.5 259.9,749.5 273.2,773.0 277.9,780.8 282.6,787.5 286.4,791.8 289.3,794.3 291.2,795.6 293.1,796.6 295.0,797.3 297.8,797.6 307.3,797.6"/>
<polyline points="81.0,797.6 168.1,797.6 169.0,797.5 170.0,797.1 170.9,796.4 172.8,794.6 174.7,792.2 176.6,789.4 179.5,784.4 183.2,776.4 191.8,768.5 196.5,763.5 201.2,758.0 212.6,743.8 218.3,737.3 223.0,732.8 227.7,729.3 230.6,727.8 232.5,727.1 235.3,726.4 237.2,726.3 239.1,726.4 241.0,726.7 242.9,727.4 245.7,728.8 247.6,730.1 250.5,732.5 255.2,737.5 259.0,742.4 263.7,749.3 277.0,770.8 281.7,778.0 286.4,784.5 291.2,790.0 294.0,792.6 295.9,794.1 299.7,796.3 301.6,797.0 303.5,797.4 307.3,797.6"/>
<polyline points="81.0,797.6 153.9,797.6 154.8,797.6 155.8,797.2 158.6,795.8 161.5,794.0 170.0,787.8 177.6,781.5 191.8,768.9 196.5,764.3 200.3,760.2 216.4,741.5 220.2,737.6 224.0,734.1 228.7,730.7 232.5,728.7 236.3,727.5 240.0,727.1 241.9,727.2 243.8,727.7 245.7,728.4 247.6,729.5 251.4,732.4 253.3,734.3 256.1,737.5 259.9,742.6 263.7,748.3 277.9,772.3 282.6,779.8 287.4,786.4 291.2,790.7 295.0,794.1 296.8,795.4 298.7,796.4 300.6,797.1 302.5,797.5 307.3,797.6"/>
<polyline points="81.0,797.6 144.4,797.6 146.3,797.2 149.2,796.2 156.7,792.8 162.4,789.8 169.0,785.8 175.7,781.6 183.2,776.4 189.9,769.0 195.6,761.8 200.3,754.9 211.6,737.2 214.5,733.2 217.3,729.7 221.1,725.7 224.9,722.9 226.8,721.9 228.7,721.3 231.5,721.0 233.4,721.2 235.3,721.8 237.2,722.7 239.1,724.0 242.9,727.6 246.7,732.3 250.5,738.1 254.2,744.6 267.5,770.2 272.2,778.7 277.0,786.0 279.8,789.7 281.7,791.9 284.5,794.4 286.4,795.8 288.3,796.7 290.2,797.3 292.1,797.6 307.3,797.6"/>
<polyline points="81.0,797.6 161.5,797.6 162.4,797.2 163.4,796.4 167.1,793.0 174.7,785.4 183.2,776.4 190.8,769.7 195.6,765.2 201.2,759.0 214.5,743.5 218.3,739.4 222.1,735.8 226.8,732.1 230.6,729.9 233.4,728.8 235.3,728.3 239.1,727.9 241.0,728.0 242.9,728.5 244.8,729.3 246.7,730.4 250.5,733.4 252.4,735.4 255.2,738.7 259.0,743.9 262.8,749.8 275.1,771.0 279.8,778.8 284.5,785.6 289.3,791.2 292.1,793.8 294.0,795.1 295.9,796.2 297.8,797.0 300.6,797.6 307.3,797.6"/>
<polyline points="81.0,797.6 167.1,797.6 168.1,797.2 170.9,794.4 174.7,789.5 178.5,784.0 183.2,776.4 190.8,768.2 196.5,761.2 200.3,755.9 209.8,742.1 215.4,734.7 219.2,730.7 223.0,727.6 224.9,726.5 226.8,725.6 228.7,725.1 230.6,724.9 232.5,725.0 234.4,725.4 236.3,726.1 238.2,727.1 241.9,730.0 243.8,731.9 246.7,735.2 250.5,740.3 255.2,747.6 268.4,770.8 274.1,780.0 278.9,786.7 281.7,790.0 283.6,792.0 286.4,794.4 288.3,795.6 290.2,796.6 292.1,797.2 295.0,797.6 307.3,797.6"/>
<polyline points="81.0,797.6 159.6,797.6 160.5,797.4 164.3,794.6 170.0,789.6 176.6,783.2 183.2,776.4 192.7,769.0 197.4,765.0 213.5,749.6 220.2,744.0 225.8,740.1 230.6,737.7 235.3,736.3 238.2,735.9 240.0,735.8 241.9,736.0 243.8,736.5 245.7,737.3 247.6,738.4 251.4,741.5 255.2,745.6 258.0,749.2 261.8,754.7 274.1,774.5 278.9,781.7 283.6,788.0 287.4,792.1 290.2,794.4 292.1,795.7 294.0,796.6 295.9,797.2 298.7,797.6 307.3,797.6"/>
<polyline points="81.0,797.6 152.9,797.6 155.8,796.7 161.5,793.8 167.1,789.9 173.8,784.8 181.3,778.2 189.9,770.1 194.6,765.4 199.3,760.1 210.7,746.8 214.5,742.8 218.3,739.4 222.1,736.7 224.9,735.2 228.7,734.0 231.5,733.7 233.4,733.9 235.3,734.3 237.2,735.0 239.1,736.0 242.9,738.8 247.6,743.6 251.4,748.3 255.2,753.7 268.4,774.5 273.2,781.5 277.9,787.6 282.6,792.4 285.5,794.6 287.4,795.8 289.3,796.6 291.2,797.2 294.0,797.6 307.3,797.6"/>
<polyline points="81.0,797.6 159.6,797.6 183.2,776.4 190.8,770.1 195.6,765.8 201.2,760.1 215.4,744.4 219.2,740.6 223.0,737.2 227.7,733.7 232.5,731.1 235.3,730.1 237.2,729.6 241.0,729.2 242.9,729.4 244.8,729.9 246.7,730.7 248.6,731.8 252.4,734.9 256.1,739.2 259.9,744.4 263.7,750.3 276.0,771.7 280.8,779.5 285.5,786.3 289.3,790.8 292.1,793.5 294.0,795.0 295.9,796.1 297.8,796.9 300.6,797.6 307.3,797.6"/>
<polyline points="81.0,797.6 145.4,797.6 148.2,796.9 152.9,795.1 159.6,791.8 167.1,787.4 174.7,782.5 183.2,776.4 191.8,768.5 196.5,763.6 201.2,758.2 212.6,744.6 216.4,740.6 219.2,737.8 224.0,734.1 227.7,731.9 231.5,730.6 235.3,730.1 237.2,730.3 239.1,730.8 241.0,731.5 242.9,732.6 246.7,735.5 251.4,740.6 255.2,745.6 259.0,751.3 272.2,773.3 277.0,780.6 281.7,787.0 286.4,792.1 289.3,794.5 291.2,795.7 293.1,796.6 295.0,797.2 297.8,797.6 307.3,797.6"/>
<polyline points="81.0,797.6 152.9,797.6 154.8,797.3 158.6,795.8 161.5,794.2 165.3,791.8 172.8,786.0 179.5,780.1 191.8,768.1 196.5,762.9 200.3,758.2 211.6,742.8 216.4,736.7 220.2,732.3 224.0,728.5 227.7,725.5 231.5,723.4 235.3,722.1 238.2,721.9 240.0,722.1 241.9,722.5 243.8,723.2 246.7,724.8 248.6,726.2 251.4,728.8 256.1,734.2 259.9,739.4 264.7,746.7 277.9,769.3 282.6,777.0 287.4,783.8 292.1,789.5 295.9,793.1 299.7,795.7 301.6,796.6 303.5,797.2 305.4,797.5 307.3,797.6"/>
<polyline points="81.0,797.6 163.4,797.6 164.3,797.6 166.2,797.0 168.1,795.8 170.0,794.3 173.8,790.4 178.5,784.0 183.2,776.4 191.8,768.8 196.5,764.2 201.2,759.1 211.6,747.3 217.3,741.5 222.1,737.5 226.8,734.5 229.6,733.2 231.5,732.6 234.4,732.1 236.3,732.1 238.2,732.3 240.0,732.7 241.9,733.4 244.8,734.8 248.6,737.5 253.3,742.1 257.1,746.6 261.8,752.9 275.1,772.6 279.8,779.4 284.5,785.4 289.3,790.4 292.1,792.9 294.0,794.3 297.8,796.3 301.6,797.4 307.3,797.6"/>
<polyline points="81.0,797.6 143.5,797.6 144.4,797.6 145.4,797.2 151.1,794.6 165.3,787.0 183.2,776.4 191.8,768.2 197.4,761.9 203.1,754.5 216.4,736.3 220.2,731.6 224.0,727.5 228.7,723.2 232.5,720.8 236.3,719.2 238.2,718.8 240.0,718.7 241.9,718.8 243.8,719.4 245.7,720.3 247.6,721.6 249.5,723.2 251.4,725.2 255.2,730.1 259.0,736.2 262.8,743.1 275.1,768.0 279.8,777.1 284.5,785.0 288.3,790.1 291.2,793.2 293.1,794.8 295.0,796.1 296.8,797.0 299.7,797.6 307.3,797.6"/>
<polyline points="81.0,797.6 155.8,797.6 156.7,797.5 157.7,797.1 162.4,794.1 168.1,789.8 175.7,783.4 183.2,776.4 187.0,769.3 196.5,749.0 199.3,743.7 201.2,740.6 204.1,736.7 206.9,733.9 209.8,732.4 210.7,732.1 212.6,732.0 216.4,732.6 218.3,733.2 221.1,734.6 224.9,737.2 229.6,741.4 233.4,745.6 238.2,751.5 254.2,774.3 259.9,781.8 263.7,786.2 266.6,789.2 269.4,791.7 272.2,793.9 275.1,795.5 277.0,796.4 279.8,797.2 281.7,797.5 307.3,797.6"/>
<polyline points="81.0,797.6 160.5,797.6 161.5,797.2 164.3,795.2 167.1,792.8 173.8,786.5 186.1,773.3 191.8,766.8 195.6,761.9 199.3,756.4 214.5,732.1 218.3,726.9 221.1,723.5 224.9,719.8 227.7,717.9 229.6,716.9 231.5,716.3 234.4,716.1 237.2,716.8 239.1,717.9 241.0,719.4 243.8,722.5 247.6,728.1 250.5,733.2 254.2,741.0 265.6,767.1 270.3,777.4 275.1,786.1 277.9,790.4 279.8,792.7 281.7,794.6 283.6,796.0 285.5,797.0 287.4,797.5 307.3,797.6"/>
</g>
<line x1="81.0" y1="797.6" x2="143.8" y2="797.6" stroke="#4a50b8" stroke-width="1.1"/>
<path d="M80.5,670.0 L80.5,818.8 L311.8,818.8" fill="none" stroke="#4e4e4e" stroke-width="1.45"/>
<line x1="80.50" y1="797.60" x2="83.00" y2="797.60" stroke="#4e4e4e" stroke-width="1" />
<text x="75.5" y="802.6" font-size="14" fill="#505050" text-anchor="end" stroke="#505050" stroke-width="0.3">0</text>
<line x1="80.50" y1="755.24" x2="83.00" y2="755.24" stroke="#4e4e4e" stroke-width="1" />
<text x="75.5" y="760.2" font-size="14" fill="#505050" text-anchor="end" stroke="#505050" stroke-width="0.3">0.2</text>
<line x1="80.50" y1="712.88" x2="83.00" y2="712.88" stroke="#4e4e4e" stroke-width="1" />
<text x="75.5" y="717.9" font-size="14" fill="#505050" text-anchor="end" stroke="#505050" stroke-width="0.3">0.4</text>
<line x1="80.50" y1="670.52" x2="83.00" y2="670.52" stroke="#4e4e4e" stroke-width="1" />
<text x="75.5" y="675.5" font-size="14" fill="#505050" text-anchor="end" stroke="#505050" stroke-width="0.3">0.6</text>
<line x1="81.00" y1="818.80" x2="81.00" y2="816.30" stroke="#4e4e4e" stroke-width="1" />
<text x="80.2" y="836.3" font-size="14" fill="#505050" text-anchor="middle" stroke="#505050" stroke-width="0.3">80</text>
<line x1="122.90" y1="818.80" x2="122.90" y2="816.30" stroke="#4e4e4e" stroke-width="1" />
<text x="122.1" y="836.3" font-size="14" fill="#505050" text-anchor="middle" stroke="#505050" stroke-width="0.3">82</text>
<line x1="164.80" y1="818.80" x2="164.80" y2="816.30" stroke="#4e4e4e" stroke-width="1" />
<text x="164.0" y="836.3" font-size="14" fill="#505050" text-anchor="middle" stroke="#505050" stroke-width="0.3">84</text>
<line x1="206.70" y1="818.80" x2="206.70" y2="816.30" stroke="#4e4e4e" stroke-width="1" />
<text x="205.9" y="836.3" font-size="14" fill="#505050" text-anchor="middle" stroke="#505050" stroke-width="0.3">86</text>
<line x1="248.60" y1="818.80" x2="248.60" y2="816.30" stroke="#4e4e4e" stroke-width="1" />
<text x="247.8" y="836.3" font-size="14" fill="#505050" text-anchor="middle" stroke="#505050" stroke-width="0.3">88</text>
<line x1="290.50" y1="818.80" x2="290.50" y2="816.30" stroke="#4e4e4e" stroke-width="1" />
<text x="289.7" y="836.3" font-size="14" fill="#505050" text-anchor="middle" stroke="#505050" stroke-width="0.3">90</text>
<text x="196.8" y="850.9" font-size="14.5" fill="#505050" text-anchor="middle" stroke="#505050" stroke-width="0.3" textLength="116.8" lengthAdjust="spacingAndGlyphs">Temperature (°C)</text>
<text x="49.0" y="744.7" font-size="13.5" fill="#505050" text-anchor="middle" stroke="#505050" stroke-width="0.3" textLength="176.0" lengthAdjust="spacingAndGlyphs" transform="rotate(-90 49.0 744.7)">-d(Fluorescence)/dT (a.u.)</text>
<text x="212.6" y="657.5" font-size="15.5" fill="#111" text-anchor="middle" stroke="#111" stroke-width="0.3" textLength="20.7" lengthAdjust="spacingAndGlyphs">1:1</text>
<g fill="none" stroke="#E8A235" stroke-width="1.2" stroke-linejoin="round">
<polyline points="410.3,798.3 462.5,798.3 500.7,788.8 501.6,788.2 510.0,781.4 511.0,780.4 513.8,776.1 516.6,770.3 520.3,761.2 524.0,750.2 527.7,737.3 534.3,713.3 538.0,701.4 540.8,694.5 542.7,691.3 544.5,689.3 545.5,688.8 546.4,688.6 547.3,688.7 549.2,689.4 550.1,690.1 552.0,691.9 554.8,696.0 556.6,699.5 558.5,703.7 561.3,710.9 565.0,722.1 576.2,759.9 580.9,774.3 583.7,781.8 586.5,788.1 588.3,791.5 591.1,795.5 593.0,797.4 593.9,798.1 595.8,798.9 632.1,803.2 642.4,803.2"/>
<polyline points="410.3,798.3 469.0,798.3 470.0,798.2 500.7,788.8 501.6,788.2 511.0,780.7 515.6,772.8 520.3,763.0 524.0,753.7 527.7,743.0 535.2,720.3 538.9,710.5 541.7,704.9 543.6,702.1 545.5,700.3 546.4,699.8 547.3,699.5 548.3,699.5 549.2,699.7 551.1,700.6 552.0,701.3 553.8,703.3 556.6,707.6 559.4,713.3 562.2,720.2 565.0,728.1 576.2,763.8 580.9,777.4 583.7,784.3 585.5,788.3 587.4,791.7 590.2,795.6 592.1,797.5 593.0,798.1 594.9,798.9 631.2,802.7 642.4,802.7"/>
<polyline points="410.3,798.3 461.6,798.3 500.7,788.8 501.6,788.2 509.1,782.2 512.8,777.6 513.8,776.0 516.6,770.1 519.4,763.2 522.2,755.1 525.0,745.8 534.3,710.3 538.0,698.1 539.9,693.3 541.7,689.6 543.6,687.2 544.5,686.6 545.5,686.2 546.4,686.2 548.3,686.9 549.2,687.6 551.1,689.5 553.8,693.8 555.7,697.6 557.6,702.1 560.4,709.9 563.2,718.8 574.4,759.0 579.0,774.4 581.8,782.2 584.6,788.7 586.5,792.2 589.3,796.1 591.1,797.7 592.1,798.2 593.9,798.5 629.4,799.9 642.4,799.9"/>
<polyline points="410.3,798.3 472.8,798.3 473.7,798.2 500.7,788.8 501.6,788.2 510.0,781.4 513.8,776.1 516.6,771.1 520.3,763.2 524.0,754.0 527.7,743.4 535.2,720.7 538.0,713.0 539.9,708.5 542.7,703.1 544.5,700.5 546.4,698.9 548.3,698.2 549.2,698.3 551.1,698.7 552.9,699.7 554.8,701.2 556.6,703.2 558.5,705.7 562.2,712.0 566.0,719.8 569.7,728.8 581.8,761.8 587.4,775.8 590.2,782.0 593.0,787.3 595.8,791.6 597.7,794.0 599.5,795.9 601.4,797.3 603.3,798.2 604.2,798.5 642.4,800.3"/>
<polyline points="410.3,798.3 497.9,798.3 498.9,797.7 512.8,777.6 516.6,770.4 520.3,761.5 524.0,750.7 534.3,715.6 538.0,704.6 540.8,698.5 542.7,695.7 544.5,694.2 545.5,693.9 546.4,693.9 548.3,694.5 549.2,695.2 551.1,697.1 553.8,701.5 556.6,707.5 559.4,714.9 562.2,723.5 573.4,762.7 578.1,777.4 580.9,784.9 582.7,789.0 585.5,793.9 587.4,796.2 589.3,797.7 591.1,798.3 642.4,798.5"/>
<polyline points="410.3,798.3 497.9,798.3 512.8,777.6 513.8,776.0 516.6,770.0 520.3,760.3 524.0,748.3 526.8,738.0 534.3,708.5 538.0,696.1 539.9,691.3 541.7,687.8 543.6,685.6 544.5,685.0 545.5,684.8 546.4,684.9 548.3,685.8 549.2,686.5 551.1,688.6 553.8,693.2 555.7,697.2 557.6,701.8 560.4,709.9 563.2,719.0 574.4,759.7 579.0,775.0 581.8,782.8 583.7,787.3 585.5,791.0 588.3,795.4 590.2,797.4 591.1,798.1 593.0,798.9 629.4,802.6 642.4,802.6"/>
<polyline points="410.3,798.3 499.8,798.3 513.8,776.1 517.5,769.2 520.3,763.1 525.0,751.2 527.7,743.0 536.1,716.7 538.9,709.0 540.8,704.6 543.6,699.4 545.5,697.1 547.3,695.7 548.3,695.3 549.2,695.3 550.1,695.4 552.0,696.3 552.9,696.9 554.8,698.8 557.6,702.9 559.4,706.5 561.3,710.6 564.1,717.7 566.9,725.7 578.1,761.8 582.7,775.6 585.5,782.7 588.3,788.7 590.2,792.0 593.0,795.8 594.9,797.6 595.8,798.3 597.7,799.0 634.0,803.4 642.4,803.4"/>
<polyline points="410.3,798.3 499.8,798.3 500.7,797.2 512.8,777.7 517.5,768.9 521.2,760.4 524.0,753.0 527.7,741.8 535.2,718.2 538.9,708.1 541.7,702.3 543.6,699.6 545.5,697.9 546.4,697.5 547.3,697.3 548.3,697.3 550.1,698.0 551.1,698.7 552.9,700.6 555.7,704.8 558.5,710.5 561.3,717.6 564.1,725.7 575.3,762.8 579.9,776.9 582.7,784.2 584.6,788.3 586.5,791.7 589.3,795.8 591.1,797.6 592.1,798.3 593.9,799.0 629.4,802.7 642.4,802.8"/>
<polyline points="410.3,798.3 497.0,798.3 497.9,797.6 512.8,777.6 514.7,774.4 517.5,768.8 521.2,760.0 525.0,749.5 528.7,737.3 536.1,711.3 539.9,700.1 542.7,693.5 544.5,690.3 546.4,688.2 547.3,687.5 548.3,687.1 549.2,687.0 550.1,687.2 552.0,688.0 552.9,688.7 554.8,690.7 557.6,695.0 559.4,698.7 561.3,703.0 564.1,710.5 566.9,719.0 579.0,760.6 583.7,775.1 586.5,782.6 589.3,788.8 591.1,792.1 593.9,796.0 595.8,797.9 596.7,798.5 598.6,799.1 634.0,803.9 642.4,804.0"/>
<polyline points="410.3,798.3 497.9,798.3 498.9,797.7 512.8,777.6 514.7,774.4 517.5,768.7 521.2,759.8 525.0,749.2 535.2,714.5 538.0,705.9 539.9,701.0 542.7,695.1 544.5,692.5 546.4,690.9 547.3,690.6 548.3,690.5 549.2,690.6 551.1,691.4 552.9,692.8 554.8,694.9 557.6,699.0 561.3,706.5 564.1,713.4 567.8,723.8 579.9,761.7 584.6,775.0 587.4,781.9 590.2,787.8 593.0,792.5 594.9,794.9 597.7,797.5 599.5,798.4 600.5,798.6 636.8,800.5 642.4,800.5"/>
<polyline points="410.3,798.3 500.7,798.3 513.8,776.1 518.4,766.5 522.2,757.1 525.0,748.9 535.2,714.3 538.9,703.4 541.7,697.3 543.6,694.4 545.5,692.7 546.4,692.2 547.3,692.1 548.3,692.2 550.1,692.8 552.0,694.1 553.8,696.0 556.6,699.9 560.4,707.1 563.2,713.6 566.9,723.7 579.0,760.8 584.6,776.4 587.4,783.0 590.2,788.6 592.1,791.7 594.9,795.4 597.7,797.9 599.5,798.9 600.5,799.1 635.9,803.6 642.4,803.7"/>
<polyline points="410.3,798.3 497.9,798.3 498.9,797.8 512.8,777.6 516.6,770.5 520.3,761.7 524.0,751.2 526.8,742.2 534.3,716.5 538.0,705.5 540.8,699.2 542.7,696.3 544.5,694.5 545.5,694.1 546.4,694.0 547.3,694.1 549.2,694.6 551.1,695.8 552.9,697.5 554.8,699.7 556.6,702.5 560.4,709.3 563.2,715.5 566.9,725.0 579.9,762.2 584.6,774.5 587.4,781.0 590.2,786.6 593.0,791.3 594.9,793.7 596.7,795.8 598.6,797.4 600.5,798.5 602.3,799.1 637.7,803.4 642.4,803.4"/>
<polyline points="410.3,798.3 499.8,798.3 500.7,797.5 512.8,777.7 514.7,774.2 517.5,767.9 521.2,758.0 524.0,749.2 533.3,715.5 537.1,703.8 538.9,699.2 540.8,695.7 542.7,693.5 543.6,692.9 544.5,692.6 545.5,692.7 547.3,693.3 548.3,693.8 550.1,695.5 552.9,699.2 554.8,702.4 556.6,706.2 559.4,712.9 563.2,723.2 575.3,761.8 579.9,775.4 582.7,782.4 585.5,788.4 587.4,791.6 590.2,795.5 592.1,797.4 593.0,798.1 593.9,798.6 595.8,799.2 631.2,803.9 642.4,803.9"/>
<polyline points="410.3,798.3 497.0,798.3 497.9,797.7 512.8,777.6 513.8,776.0 516.6,770.1 520.3,760.5 523.1,752.0 526.8,739.0 533.3,714.4 537.1,702.1 539.9,695.2 541.7,692.1 542.7,691.0 543.6,690.2 544.5,689.9 545.5,689.8 546.4,690.0 548.3,690.8 549.2,691.4 551.1,693.2 553.8,697.1 555.7,700.5 557.6,704.4 560.4,711.1 564.1,721.5 576.2,760.1 581.8,776.3 584.6,783.1 587.4,788.9 589.3,792.0 592.1,795.7 593.9,797.5 594.9,798.2 595.8,798.7 597.7,799.1 633.1,803.6 642.4,803.6"/>
<polyline points="410.3,798.3 498.9,798.3 499.8,797.2 512.8,777.6 514.7,774.2 517.5,768.2 521.2,758.6 525.0,746.9 535.2,708.6 538.9,696.4 541.7,689.6 543.6,686.4 545.5,684.5 546.4,684.1 547.3,683.9 548.3,684.1 550.1,685.0 551.1,685.8 552.9,688.1 555.7,693.1 558.5,699.7 561.3,707.8 564.1,717.1 575.3,759.1 579.9,775.0 582.7,783.0 584.6,787.5 586.5,791.3 589.3,795.7 591.1,797.5 592.1,798.1 593.9,798.6 629.4,800.3 642.4,800.4"/>
<polyline points="410.3,798.3 497.9,798.3 498.9,797.4 512.8,777.6 514.7,774.3 517.5,768.6 521.2,759.6 525.0,748.8 535.2,713.6 538.9,702.3 541.7,695.9 543.6,692.8 545.5,690.8 546.4,690.2 547.3,690.0 548.3,690.0 550.1,690.6 552.0,691.9 553.8,693.9 556.6,698.1 558.5,701.7 560.4,705.8 563.2,713.0 566.9,723.9 578.1,760.6 582.7,774.6 585.5,781.9 588.3,788.0 590.2,791.4 593.0,795.3 594.9,797.2 595.8,797.8 596.7,798.3 598.6,798.8 634.0,801.5 642.4,801.5"/>
<polyline points="410.3,798.3 498.9,798.2 512.8,777.6 514.7,774.2 517.5,768.0 521.2,758.1 524.0,749.2 527.7,735.8 534.3,710.6 538.0,698.1 540.8,691.0 542.7,687.7 544.5,685.7 545.5,685.3 546.4,685.1 547.3,685.3 549.2,686.1 550.1,686.8 552.0,688.8 554.8,693.0 556.6,696.7 558.5,701.0 561.3,708.5 565.0,720.0 576.2,758.8 580.9,773.6 583.7,781.3 586.5,787.7 588.3,791.2 591.1,795.3 593.0,797.1 593.9,797.8 595.8,798.5 632.1,799.9 642.4,800.0"/>
<polyline points="410.3,798.3 499.8,798.3 500.7,797.9 513.8,776.0 516.6,770.0 518.4,765.4 521.2,757.5 524.0,748.3 526.8,738.0 534.3,708.4 538.0,695.8 539.9,690.9 541.7,687.3 543.6,684.9 544.5,684.3 545.5,684.1 546.4,684.1 548.3,684.9 549.2,685.6 551.1,687.6 553.8,692.0 555.7,695.9 557.6,700.5 560.4,708.4 563.2,717.4 574.4,758.0 579.0,773.5 581.8,781.5 584.6,788.2 586.5,791.7 589.3,795.9 591.1,797.7 592.1,798.3 593.9,798.9 629.4,802.1 642.4,802.1"/>
<polyline points="410.3,798.3 499.8,798.3 500.7,797.3 513.8,776.2 517.5,769.4 520.3,763.6 523.1,757.0 525.9,749.6 537.1,716.5 539.9,709.4 541.7,705.4 543.6,702.2 545.5,699.7 547.3,698.1 549.2,697.5 550.1,697.6 552.0,698.0 553.8,699.0 555.7,700.6 557.6,702.6 559.4,705.2 563.2,711.6 566.0,717.5 569.7,726.4 582.7,762.3 588.3,776.4 591.1,782.5 593.9,787.8 596.7,792.1 598.6,794.4 600.5,796.3 602.3,797.7 604.2,798.5 605.1,798.8 642.4,801.9"/>
<polyline points="410.3,798.3 498.9,798.3 499.8,797.8 512.8,777.7 515.6,772.5 518.4,766.5 522.2,757.0 525.0,748.7 527.7,739.4 535.2,713.0 538.0,704.1 539.9,699.0 542.7,692.9 544.5,690.1 546.4,688.5 547.3,688.1 548.3,688.0 549.2,688.2 551.1,689.0 552.0,689.7 553.8,691.7 556.6,695.9 558.5,699.6 560.4,703.8 563.2,711.2 566.9,722.5 578.1,760.4 582.7,774.8 585.5,782.2 588.3,788.4 590.2,791.8 593.0,795.6 594.9,797.3 595.8,797.9 597.7,798.5 634.0,799.8 642.4,799.8"/>
<polyline points="410.3,798.3 499.8,798.3 500.7,798.2 512.8,777.7 514.7,774.1 517.5,767.6 520.3,760.0 524.0,747.9 533.3,712.1 537.1,699.8 538.9,695.1 540.8,691.5 542.7,689.4 543.6,688.9 544.5,688.8 545.5,688.9 547.3,689.7 548.3,690.4 550.1,692.2 552.9,696.4 554.8,699.9 556.6,704.0 559.4,711.2 563.2,722.3 574.4,759.7 579.0,774.0 581.8,781.5 584.6,787.8 586.5,791.2 589.3,795.2 591.1,797.0 592.1,797.7 593.0,798.2 594.9,798.6 630.3,800.0 642.4,800.0"/>
<polyline points="410.3,798.3 500.7,798.3 501.6,797.0 513.8,776.1 516.6,770.6 519.4,764.2 522.2,756.8 525.9,745.3 536.1,708.1 539.9,696.4 542.7,689.7 544.5,686.4 546.4,684.4 547.3,683.8 548.3,683.5 549.2,683.5 551.1,684.1 552.9,685.2 554.8,687.0 556.6,689.3 558.5,692.3 562.2,699.7 565.0,706.5 568.8,716.8 581.8,758.0 587.4,774.2 590.2,781.1 593.0,787.1 595.8,791.8 597.7,794.3 599.5,796.3 601.4,797.6 603.3,798.3 604.2,798.4 642.4,799.3"/>
<polyline points="410.3,798.3 497.0,798.3 497.9,797.5 512.8,777.6 515.6,772.3 519.4,763.7 523.1,753.4 526.8,741.3 533.3,718.8 537.1,707.7 539.9,701.4 541.7,698.5 543.6,696.9 544.5,696.5 545.5,696.4 546.4,696.6 548.3,697.4 549.2,698.1 551.1,700.0 553.8,704.2 556.6,709.7 559.4,716.4 563.2,726.9 574.4,762.7 579.0,776.3 581.8,783.4 584.6,789.2 586.5,792.4 589.3,796.0 591.1,797.5 592.1,798.0 593.9,798.4 629.4,799.3 642.4,799.3"/>
<polyline points="410.3,798.3 498.9,798.3 499.8,797.8 512.8,777.7 514.7,774.0 517.5,767.4 521.2,756.6 524.0,746.9 533.3,709.2 537.1,696.1 538.9,691.1 540.8,687.3 541.7,686.0 542.7,685.1 543.6,684.5 544.5,684.4 545.5,684.5 547.3,685.4 548.3,686.2 550.1,688.2 552.9,692.8 554.8,696.7 556.6,701.2 559.4,709.1 562.2,718.0 573.4,757.9 578.1,773.3 580.9,781.2 583.7,787.8 585.5,791.4 588.3,795.6 590.2,797.4 591.1,798.1 593.0,798.7 629.4,801.2 642.4,801.2"/>
<polyline points="410.3,798.3 498.9,798.3 499.8,797.2 512.8,777.7 514.7,774.3 517.5,768.6 521.2,759.5 525.0,748.6 527.7,739.2 536.1,709.3 539.9,698.1 542.7,691.8 544.5,688.9 546.4,687.2 547.3,686.7 548.3,686.6 549.2,686.7 551.1,687.5 552.0,688.2 553.8,690.2 556.6,694.5 558.5,698.3 560.4,702.6 563.2,710.2 566.0,718.9 578.1,761.0 582.7,775.6 585.5,783.1 587.4,787.4 590.2,792.5 592.1,795.1 593.9,797.0 594.9,797.6 596.7,798.3 642.4,798.9"/>
<polyline points="410.3,798.3 497.9,798.3 498.9,797.3 512.8,777.6 516.6,770.5 520.3,761.7 524.0,751.2 533.3,720.2 537.1,709.0 539.9,702.5 541.7,699.4 543.6,697.4 544.5,696.8 545.5,696.5 546.4,696.6 548.3,697.2 549.2,697.8 551.1,699.5 553.8,703.4 555.7,706.8 557.6,710.8 560.4,717.8 563.2,725.8 575.3,764.9 579.9,778.4 582.7,785.2 584.6,789.1 586.5,792.3 589.3,796.0 591.1,797.7 592.1,798.3 593.9,798.8 629.4,801.9 642.4,802.0"/>
<polyline points="410.3,798.3 496.1,798.3 497.0,798.1 512.8,777.6 515.6,772.4 519.4,764.0 523.1,753.8 526.8,742.0 534.3,716.5 538.0,705.6 540.8,699.5 542.7,696.8 544.5,695.1 545.5,694.8 546.4,694.8 547.3,694.9 549.2,695.6 551.1,696.9 552.9,698.7 555.7,702.5 559.4,709.3 562.2,715.5 566.0,725.0 579.0,762.7 583.7,775.1 586.5,781.7 589.3,787.3 592.1,791.8 593.9,794.3 595.8,796.1 597.7,797.4 599.5,798.1 600.5,798.3 642.4,798.3"/>
<polyline points="410.3,798.3 499.8,798.3 512.8,777.7 514.7,774.1 517.5,767.5 521.2,756.9 524.0,747.4 533.3,710.4 537.1,697.5 538.9,692.5 540.8,688.7 542.7,686.4 543.6,685.8 544.5,685.6 545.5,685.6 547.3,686.3 549.2,687.7 551.1,689.8 553.8,694.1 557.6,701.9 560.4,709.0 564.1,720.0 576.2,760.1 580.9,774.1 583.7,781.4 586.5,787.6 588.3,791.0 591.1,795.0 593.9,797.9 595.8,798.9 596.7,799.2 632.1,804.3 642.4,804.4"/>
<polyline points="410.3,798.3 498.9,798.3 512.8,777.6 514.7,774.1 517.5,767.7 521.2,757.4 524.0,748.2 526.8,737.9 534.3,708.3 538.0,695.9 539.9,691.1 541.7,687.5 543.6,685.4 544.5,684.8 545.5,684.6 546.4,684.8 548.3,685.6 549.2,686.4 551.1,688.5 553.8,693.3 556.6,699.6 559.4,707.4 562.2,716.4 574.4,760.8 579.0,776.1 581.8,783.8 583.7,788.2 585.5,791.8 588.3,796.0 590.2,797.8 591.1,798.4 593.0,799.0 628.4,802.6 642.4,802.7"/>
<polyline points="410.3,798.3 497.0,798.3 512.8,777.6 516.6,771.0 520.3,763.0 524.0,753.5 527.7,742.7 536.1,716.4 539.9,706.6 542.7,701.0 544.5,698.4 546.4,696.7 547.3,696.3 548.3,696.1 549.2,696.1 551.1,696.7 552.0,697.3 553.8,698.9 556.6,702.6 558.5,705.8 560.4,709.5 563.2,716.1 566.9,726.3 579.0,763.9 583.7,777.1 586.5,783.8 588.3,787.7 591.1,792.5 593.0,795.0 594.9,796.8 595.8,797.5 597.7,798.4 598.6,798.6 634.0,800.1 642.4,800.1"/>
<polyline points="410.3,798.3 499.8,798.3 500.7,797.3 513.8,776.1 516.6,770.8 519.4,764.6 522.2,757.6 525.9,746.6 536.1,710.8 538.9,701.9 540.8,696.7 543.6,690.5 545.5,687.5 547.3,685.7 548.3,685.1 549.2,684.9 550.1,684.9 552.0,685.6 553.8,686.9 555.7,688.9 558.5,693.3 560.4,696.9 562.2,701.2 565.0,708.5 568.8,719.7 580.9,760.5 585.5,774.7 588.3,782.0 591.1,788.1 593.0,791.5 595.8,795.5 597.7,797.4 598.6,798.1 599.5,798.7 601.4,799.2 636.8,804.0 642.4,804.1"/>
<polyline points="410.3,798.3 497.0,798.3 497.9,797.7 512.8,777.6 513.8,776.0 516.6,770.1 520.3,760.5 524.0,748.7 526.8,738.5 534.3,709.1 538.0,696.3 540.8,689.2 542.7,686.0 543.6,684.8 544.5,684.1 545.5,683.7 546.4,683.6 547.3,683.8 549.2,684.7 550.1,685.5 552.0,687.6 554.8,692.1 556.6,695.9 558.5,700.3 561.3,708.1 564.1,716.8 576.2,759.3 580.9,774.2 583.7,781.9 586.5,788.3 588.3,791.7 591.1,795.7 593.0,797.5 593.9,798.1 595.8,798.8 631.2,801.6 642.4,801.7"/>
<polyline points="410.3,798.3 497.0,798.3 512.8,777.6 513.8,776.1 516.6,770.5 520.3,761.7 524.0,751.1 527.7,738.7 535.2,712.1 538.9,700.7 541.7,694.2 543.6,691.1 545.5,689.2 546.4,688.7 547.3,688.5 548.3,688.6 550.1,689.2 552.0,690.5 553.8,692.5 556.6,696.6 560.4,704.0 563.2,710.9 566.9,721.4 579.0,760.1 584.6,776.3 587.4,783.1 590.2,788.8 592.1,792.0 594.9,795.6 596.7,797.4 597.7,798.0 598.6,798.5 600.5,798.9 635.9,802.4 642.4,802.4"/>
<polyline points="410.3,798.3 498.9,798.3 512.8,777.6 515.6,772.7 518.4,766.9 522.2,757.9 525.0,750.0 528.7,738.1 536.1,712.8 539.9,701.9 542.7,695.4 544.5,692.3 546.4,690.1 547.3,689.4 548.3,689.0 549.2,688.9 550.1,689.0 552.0,689.6 553.8,690.7 555.7,692.5 557.6,694.8 559.4,697.6 563.2,704.6 566.0,711.0 569.7,720.7 582.7,759.4 588.3,774.6 591.1,781.2 593.9,786.9 596.7,791.5 598.6,794.0 600.5,796.0 602.3,797.6 604.2,798.7 605.1,799.0 642.4,803.5"/>
<polyline points="410.3,798.3 499.8,798.3 500.7,798.0 512.8,777.7 514.7,774.1 517.5,767.6 521.2,757.2 524.0,747.8 526.8,737.3 533.3,711.2 537.1,698.1 539.9,690.7 541.7,687.4 542.7,686.3 543.6,685.5 544.5,685.1 545.5,685.1 546.4,685.3 548.3,686.2 549.2,687.0 551.1,689.1 553.8,693.6 555.7,697.4 557.6,701.9 560.4,709.6 563.2,718.2 575.3,760.4 579.9,775.1 582.7,782.6 584.6,786.9 586.5,790.6 589.3,794.9 591.1,796.9 592.1,797.6 593.9,798.5 594.9,798.6 630.3,800.3 642.4,800.4"/>
<polyline points="410.3,798.3 498.9,798.3 499.8,797.7 512.8,777.7 515.6,772.4 518.4,766.2 522.2,756.4 525.0,747.7 527.7,738.1 535.2,710.7 538.9,698.8 541.7,692.0 543.6,688.8 545.5,686.7 546.4,686.1 547.3,685.9 548.3,685.9 550.1,686.5 552.0,687.8 553.8,689.7 556.6,693.7 558.5,697.2 560.4,701.1 563.2,708.0 566.9,718.5 579.9,760.7 584.6,774.3 587.4,781.5 590.2,787.5 592.1,790.9 594.9,794.8 597.7,797.7 599.5,798.8 600.5,799.1 636.8,804.5 642.4,804.5"/>
</g>
<g fill="none" stroke="#1f2a93" stroke-width="1.1" stroke-linejoin="round">
<polyline points="410.3,798.3 422.4,798.3 423.3,797.6 425.2,794.1 426.1,793.5 434.5,792.6 443.9,791.3 451.3,787.8 456.0,786.4 458.8,786.0 461.6,786.0 464.4,786.2 469.0,786.9 470.0,786.8 492.3,782.3 515.6,777.0 516.6,773.4 525.0,763.7 537.1,747.7 541.7,742.3 545.5,738.8 549.2,736.3 551.1,735.5 552.9,735.0 555.7,734.8 559.4,735.4 561.3,736.1 564.1,737.4 567.8,740.0 572.5,744.2 576.2,748.4 580.9,754.2 595.8,775.3 601.4,782.7 607.0,789.1 609.8,791.7 613.5,794.8 616.3,796.7 618.2,797.7 621.9,798.9 623.8,799.2 642.4,800.6"/>
<polyline points="410.3,798.3 435.5,798.3 438.3,794.5 447.6,793.2 456.9,791.5 464.4,787.9 467.2,786.9 470.0,786.2 472.8,785.8 475.5,785.7 482.1,786.0 497.9,782.0 515.6,777.0 516.6,773.1 521.2,767.4 525.0,762.5 537.1,744.3 539.9,740.4 542.7,736.8 546.4,733.0 549.2,730.9 551.1,729.9 552.9,729.2 555.7,728.9 557.6,729.1 559.4,729.5 561.3,730.2 564.1,731.6 567.8,734.4 572.5,739.1 576.2,743.6 580.9,750.1 595.8,773.4 601.4,781.5 607.0,788.5 609.8,791.4 612.6,793.9 615.4,796.1 617.2,797.2 620.0,798.4 621.9,798.9 642.4,800.3"/>
<polyline points="410.3,798.3 443.9,798.3 446.7,794.8 456.0,793.3 465.3,791.2 471.8,786.8 474.6,785.4 477.4,784.4 480.2,783.8 483.0,783.7 485.8,783.9 490.5,784.8 502.6,781.2 515.6,777.1 516.6,774.1 522.2,769.1 526.8,764.5 531.5,759.4 542.7,746.6 549.2,740.1 553.8,736.3 558.5,733.6 561.3,732.5 563.2,732.0 566.9,731.6 568.8,731.8 570.6,732.2 572.5,732.9 575.3,734.4 579.0,737.4 583.7,742.3 587.4,747.1 591.1,752.5 604.2,773.3 609.8,781.7 615.4,789.0 620.0,793.8 622.8,796.0 624.7,797.2 626.6,798.0 628.4,798.7 631.2,799.1 642.4,799.5"/>
<polyline points="410.3,798.3 456.0,798.3 456.9,798.0 458.8,794.6 459.7,793.6 468.1,792.0 478.3,789.3 502.6,781.7 515.6,777.1 516.6,773.0 521.2,767.1 525.9,760.4 529.6,754.4 538.9,738.6 541.7,734.2 544.5,730.2 548.3,725.8 550.1,724.1 552.0,722.7 553.8,721.7 555.7,721.0 558.5,720.8 560.4,721.0 562.2,721.5 564.1,722.4 566.9,724.2 570.6,727.5 575.3,733.0 579.0,738.3 582.7,744.3 597.7,770.8 603.3,780.0 607.9,786.7 612.6,792.4 615.4,795.5 619.1,798.6 621.0,799.8 622.8,800.7 624.7,801.2 642.4,804.9"/>
<polyline points="410.3,798.3 464.4,798.3 465.3,798.0 467.2,794.4 468.1,793.2 476.5,791.3 485.8,788.5 486.7,787.9 493.3,782.8 496.1,781.1 497.9,780.1 500.7,779.1 503.5,778.6 506.3,778.4 511.9,778.6 515.6,777.1 516.6,773.5 525.0,764.1 538.0,747.3 542.7,741.8 546.4,738.2 550.1,735.6 552.0,734.6 553.8,733.9 555.7,733.6 557.6,733.5 561.3,734.0 563.2,734.5 566.0,735.8 567.8,736.9 570.6,738.9 575.3,743.2 579.0,747.3 583.7,753.1 598.6,774.0 604.2,781.4 607.9,785.9 612.6,791.0 617.2,795.6 620.0,797.7 621.9,798.9 625.6,800.7 628.4,801.4 642.4,803.9"/>
<polyline points="410.3,798.3 473.7,798.2 475.5,795.8 476.5,794.9 480.2,793.8 484.9,792.1 494.2,788.2 495.1,787.6 501.6,781.8 506.3,778.6 511.0,776.4 515.6,775.2 516.6,773.7 523.1,766.8 527.7,761.2 532.4,754.9 544.5,737.4 548.3,732.5 552.0,728.3 556.6,724.0 560.4,721.5 562.2,720.7 564.1,720.1 566.0,719.8 567.8,719.7 569.7,719.9 571.6,720.4 573.4,721.2 576.2,722.9 578.1,724.3 580.9,727.0 585.5,732.5 589.3,737.7 593.9,745.2 607.0,768.1 614.4,780.6 619.1,787.5 623.8,793.2 626.6,795.9 628.4,797.4 632.1,799.6 634.0,800.2 635.9,800.6 642.4,801.3"/>
<polyline points="410.3,798.3 470.9,798.3 471.8,797.9 473.7,795.7 474.6,795.1 483.0,792.5 492.3,788.7 504.4,781.9 509.1,779.6 515.6,776.8 516.6,773.4 521.2,768.0 525.9,762.2 538.9,743.5 544.5,736.3 548.3,732.6 552.0,729.9 553.8,728.9 555.7,728.3 558.5,728.0 560.4,728.2 562.2,728.6 564.1,729.4 566.0,730.4 569.7,733.3 574.4,738.3 578.1,743.3 581.8,749.0 595.8,772.7 601.4,781.5 604.2,785.5 607.0,789.0 612.6,794.8 615.4,797.0 617.2,798.2 619.1,799.1 621.0,799.7 642.4,802.7"/>
<polyline points="410.3,798.3 497.0,798.3 497.9,797.9 500.7,795.2 504.4,790.6 508.2,785.2 513.8,776.5 521.2,768.5 526.8,761.7 531.5,755.2 542.7,738.4 546.4,733.3 549.2,729.9 553.8,725.2 557.6,722.4 559.4,721.4 561.3,720.7 563.2,720.3 565.0,720.2 566.9,720.4 569.7,721.1 571.6,721.9 574.4,723.5 576.2,724.9 579.0,727.5 583.7,732.7 588.3,739.0 593.0,746.2 606.0,768.1 615.4,783.2 620.0,789.9 623.8,794.4 626.6,797.2 628.4,798.8 632.1,801.2 634.0,802.0 635.9,802.6 642.4,803.8"/>
<polyline points="410.3,798.3 491.4,798.3 492.3,797.8 493.3,797.0 512.8,777.4 524.0,766.9 529.6,761.0 540.8,748.3 546.4,742.8 551.1,739.1 554.8,737.0 557.6,735.9 559.4,735.4 563.2,735.2 565.0,735.4 566.9,735.9 570.6,737.7 574.4,740.4 579.0,745.0 582.7,749.6 586.5,754.7 599.5,774.5 605.1,782.5 607.9,786.1 612.6,791.6 617.2,796.4 621.0,799.1 624.7,800.8 642.4,804.2"/>
<polyline points="410.3,798.3 482.1,798.3 483.0,797.8 495.1,789.1 513.8,776.5 525.0,765.7 539.9,749.0 543.6,745.2 547.3,742.0 551.1,739.4 553.8,737.9 557.6,736.7 560.4,736.4 564.1,736.8 566.0,737.3 568.8,738.5 570.6,739.5 573.4,741.5 578.1,745.6 581.8,749.6 586.5,755.4 601.4,775.9 607.0,783.1 613.5,790.3 618.2,794.5 621.0,796.4 622.8,797.5 625.6,798.6 627.5,799.2 629.4,799.4 642.4,800.2"/>
<polyline points="410.3,798.3 473.7,798.3 475.5,797.9 479.3,796.4 485.8,793.2 494.2,788.6 503.5,783.1 512.8,777.3 518.4,771.5 524.0,765.0 528.7,759.1 539.9,743.8 542.7,740.4 545.5,737.4 549.2,734.1 552.0,732.3 553.8,731.5 555.7,730.9 558.5,730.6 562.2,731.2 564.1,731.8 566.9,733.1 568.8,734.2 571.6,736.3 576.2,740.8 579.9,745.1 584.6,751.2 599.5,773.1 605.1,780.9 607.9,784.4 613.5,790.9 618.2,795.5 621.0,797.6 622.8,798.7 626.6,800.3 629.4,801.0 642.4,802.8"/>
<polyline points="410.3,798.3 474.6,798.3 475.5,798.1 489.5,790.5 512.8,777.2 520.3,771.1 525.9,766.2 530.5,761.6 543.6,748.0 547.3,744.5 551.1,741.4 555.7,738.2 559.4,736.3 562.2,735.4 564.1,734.9 567.8,734.6 569.7,734.7 571.6,735.1 573.4,735.8 576.2,737.3 579.9,740.1 584.6,744.8 588.3,749.4 592.1,754.6 605.1,774.6 609.8,781.4 615.4,788.6 620.0,793.4 622.8,795.7 624.7,796.9 628.4,798.5 631.2,799.1 642.4,799.5"/>
<polyline points="410.3,798.3 483.0,798.3 483.9,798.2 485.8,797.5 491.4,794.5 497.9,789.9 505.4,784.0 512.8,777.4 518.4,771.2 523.1,765.6 527.7,759.4 537.1,746.5 539.9,742.9 542.7,739.7 546.4,736.3 549.2,734.5 552.0,733.4 554.8,733.0 556.6,733.1 558.5,733.4 560.4,734.1 563.2,735.5 566.9,738.2 571.6,742.8 575.3,747.3 579.9,753.7 593.0,773.8 598.6,781.9 604.2,788.8 607.0,791.6 609.8,794.0 612.6,796.1 614.4,797.2 617.2,798.4 619.1,798.9 642.4,801.0"/>
<polyline points="410.3,798.3 473.7,798.3 475.5,798.0 479.3,796.5 485.8,793.4 494.2,788.8 503.5,783.2 512.8,777.3 517.5,772.5 523.1,766.3 527.7,760.7 538.0,747.5 540.8,744.2 543.6,741.3 547.3,738.2 550.1,736.5 552.0,735.7 553.8,735.2 556.6,734.9 558.5,735.1 560.4,735.5 562.2,736.2 565.0,737.6 568.8,740.3 573.4,744.9 577.2,749.3 580.9,754.3 595.8,776.2 601.4,783.8 607.0,790.2 613.5,796.1 617.2,798.7 621.0,800.3 642.4,804.8"/>
<polyline points="410.3,798.3 470.9,798.3 472.8,797.9 476.5,796.5 483.9,793.0 492.3,788.8 501.6,783.7 512.8,777.3 520.3,770.6 525.9,765.1 530.5,760.0 541.7,747.1 545.5,743.2 548.3,740.6 552.9,737.0 556.6,734.9 560.4,733.6 564.1,733.1 566.0,733.2 567.8,733.5 569.7,734.2 572.5,735.7 576.2,738.5 580.9,743.3 584.6,748.0 588.3,753.3 601.4,773.9 607.0,782.2 613.5,790.5 616.3,793.5 618.2,795.1 621.9,797.8 623.8,798.7 625.6,799.3 627.5,799.7 642.4,801.0"/>
<polyline points="410.3,798.3 489.5,798.3 490.5,798.0 493.3,796.2 496.1,794.1 502.6,788.2 513.8,776.6 521.2,769.9 525.9,765.4 540.8,749.1 547.3,742.7 552.0,739.2 555.7,737.0 558.5,735.9 560.4,735.5 564.1,735.1 566.0,735.3 567.8,735.7 569.7,736.3 572.5,737.7 576.2,740.4 580.9,744.9 584.6,749.3 589.3,755.5 602.3,774.8 607.0,781.4 614.4,790.6 619.1,795.3 621.9,797.4 623.8,798.6 627.5,800.1 629.4,800.6 642.4,802.2"/>
<polyline points="410.3,798.3 485.8,798.3 486.7,798.1 489.5,796.7 494.2,793.5 498.9,790.0 504.4,785.2 513.8,776.6 521.2,770.3 525.9,766.1 530.5,761.4 542.7,748.6 546.4,745.0 550.1,741.8 554.8,738.5 559.4,736.1 562.2,735.2 564.1,734.8 567.8,734.6 569.7,734.8 571.6,735.3 573.4,736.1 576.2,737.6 579.9,740.5 584.6,745.2 588.3,749.8 592.1,754.9 605.1,774.5 614.4,787.9 618.2,792.8 621.9,796.9 625.6,800.0 629.4,802.2 632.1,803.2 642.4,805.6"/>
<polyline points="410.3,798.3 489.5,798.3 490.5,797.8 518.4,772.3 524.0,766.9 530.5,759.6 544.5,742.3 548.3,738.1 552.0,734.4 556.6,730.6 560.4,728.4 563.2,727.3 565.0,726.8 568.8,726.5 570.6,726.7 573.4,727.5 575.3,728.3 578.1,729.9 579.9,731.2 582.7,733.6 587.4,738.6 592.1,744.6 596.7,751.3 617.2,783.3 621.9,789.6 625.6,793.9 630.3,798.1 634.0,800.5 637.7,802.0 642.4,802.8"/>
<polyline points="410.3,798.3 470.0,798.3 472.8,797.8 476.5,796.7 481.1,795.1 485.8,793.1 492.3,789.8 498.9,786.2 505.4,782.2 512.8,777.3 518.4,771.4 524.0,765.0 528.7,759.0 539.9,743.7 542.7,740.3 545.5,737.2 549.2,733.9 552.0,732.1 553.8,731.3 555.7,730.7 558.5,730.4 560.4,730.6 562.2,731.0 564.1,731.7 566.0,732.7 569.7,735.4 574.4,740.1 578.1,744.8 582.7,751.5 596.7,774.0 602.3,782.3 605.1,786.1 607.9,789.4 614.4,795.9 618.2,798.5 620.0,799.5 621.9,800.1 642.4,803.6"/>
<polyline points="410.3,798.3 474.6,798.3 477.4,797.5 481.1,796.0 487.7,792.9 495.1,788.7 503.5,783.5 512.8,777.3 520.3,770.5 525.9,765.0 530.5,759.8 542.7,745.5 546.4,741.6 549.2,739.0 553.8,735.4 557.6,733.3 561.3,732.0 565.0,731.6 566.9,731.8 568.8,732.2 570.6,732.8 573.4,734.2 575.3,735.4 578.1,737.7 582.7,742.4 586.5,747.0 590.2,752.1 605.1,774.7 613.5,786.6 618.2,792.6 621.9,796.5 624.7,798.8 626.6,800.1 630.3,802.0 632.1,802.5 642.4,804.6"/>
<polyline points="410.3,798.3 489.5,798.3 490.5,797.9 498.9,790.1 512.8,777.4 522.2,767.6 525.9,763.1 529.6,758.1 544.5,736.4 548.3,731.7 551.1,728.5 554.8,725.0 558.5,722.5 560.4,721.6 562.2,721.0 565.0,720.6 566.9,720.7 568.8,721.1 570.6,721.9 573.4,723.5 577.2,726.6 581.8,732.0 585.5,737.3 590.2,744.9 604.2,770.2 608.8,778.1 615.4,788.2 620.0,794.0 622.8,796.7 624.7,798.1 626.6,799.3 628.4,800.2 631.2,800.9 642.4,802.3"/>
<polyline points="410.3,798.3 479.3,798.3 481.1,797.6 486.7,794.5 494.2,789.9 512.8,777.3 513.8,776.4 518.4,770.8 524.0,763.4 528.7,756.6 538.0,742.0 540.8,738.0 543.6,734.5 547.3,730.8 550.1,728.8 552.9,727.7 555.7,727.3 557.6,727.5 559.4,727.9 561.3,728.6 564.1,730.1 566.0,731.3 568.8,733.7 573.4,738.6 577.2,743.3 581.8,750.0 595.8,772.2 601.4,780.5 607.0,787.7 614.4,795.3 617.2,797.5 619.1,798.7 622.8,800.2 642.4,803.6"/>
<polyline points="410.3,798.3 477.4,798.3 479.3,798.0 481.1,797.5 485.8,795.7 492.3,792.2 498.9,788.1 506.3,782.6 513.8,776.5 520.3,769.7 525.0,764.5 529.6,758.7 541.7,742.7 545.5,738.4 549.2,734.8 552.9,732.1 555.7,730.6 558.5,729.8 561.3,729.6 563.2,729.8 565.0,730.3 566.9,731.0 568.8,732.1 572.5,734.9 577.2,739.8 580.9,744.6 584.6,750.1 598.6,773.0 604.2,781.6 608.8,787.7 613.5,793.3 616.3,796.3 620.0,799.3 621.9,800.4 623.8,801.2 642.4,805.5"/>
<polyline points="410.3,798.3 475.5,798.3 478.3,797.1 486.7,792.6 497.0,786.7 512.8,777.3 513.8,776.4 520.3,768.7 525.0,762.5 529.6,755.5 540.8,737.5 543.6,733.4 546.4,729.8 550.1,725.9 552.9,723.8 554.8,722.7 556.6,722.1 559.4,721.7 561.3,721.8 564.1,722.5 566.0,723.3 568.8,724.9 570.6,726.2 573.4,728.6 578.1,733.7 581.8,738.5 586.5,745.3 601.4,769.6 607.0,778.2 614.4,788.6 617.2,792.0 620.0,794.9 622.8,797.4 624.7,798.8 628.4,800.8 631.2,801.6 642.4,803.5"/>
<polyline points="410.3,798.3 490.5,798.3 491.4,798.2 492.3,797.8 494.2,796.6 497.0,794.5 499.8,792.1 503.5,788.3 509.1,782.1 520.3,768.4 524.0,763.2 527.7,757.6 540.8,735.7 543.6,731.5 546.4,727.8 550.1,723.9 552.9,721.9 555.7,720.6 558.5,720.3 560.4,720.4 562.2,720.9 564.1,721.7 566.9,723.4 570.6,726.6 575.3,731.9 579.0,737.2 583.7,744.7 597.7,769.7 603.3,779.1 608.8,787.1 611.6,790.5 614.4,793.4 617.2,795.8 619.1,797.0 621.9,798.3 623.8,798.8 642.4,799.9"/>
<polyline points="410.3,798.3 470.9,798.3 473.7,797.4 477.4,795.9 484.9,792.5 493.3,788.2 502.6,783.1 512.8,777.3 520.3,770.7 525.9,765.3 530.5,760.2 543.6,745.1 547.3,741.2 551.1,737.8 555.7,734.4 559.4,732.4 563.2,731.3 566.9,730.9 568.8,731.1 570.6,731.6 572.5,732.3 575.3,733.9 579.0,736.9 583.7,742.0 587.4,746.9 591.1,752.3 604.2,773.3 608.8,780.5 615.4,789.6 618.2,793.0 621.0,795.8 624.7,798.8 626.6,799.9 628.4,800.7 631.2,801.4 642.4,803.0"/>
<polyline points="410.3,798.3 494.2,798.3 501.6,789.5 513.8,776.4 521.2,767.2 527.7,757.8 539.9,737.9 542.7,733.8 545.5,730.1 549.2,726.1 552.0,724.0 554.8,722.7 557.6,722.2 559.4,722.3 561.3,722.7 563.2,723.4 566.0,725.0 569.7,728.1 574.4,733.4 578.1,738.5 582.7,745.9 596.7,770.7 602.3,780.0 605.1,784.1 607.9,787.8 610.7,791.1 613.5,793.9 616.3,796.2 618.2,797.3 620.0,798.2 621.9,798.8 623.8,799.1 642.4,800.3"/>
<polyline points="410.3,798.3 481.1,798.3 483.9,797.6 487.7,796.0 493.3,792.9 499.8,788.4 506.3,783.2 512.8,777.4 519.4,769.9 524.0,764.0 528.7,757.5 538.0,743.6 540.8,739.8 543.6,736.4 547.3,732.7 550.1,730.7 552.0,729.8 553.8,729.2 556.6,728.9 558.5,729.1 560.4,729.6 562.2,730.3 565.0,731.9 568.8,734.8 573.4,739.7 577.2,744.4 580.9,749.8 595.8,773.5 601.4,781.8 607.0,788.8 613.5,795.2 616.3,797.3 618.2,798.4 620.0,799.2 621.9,799.8 642.4,802.6"/>
<polyline points="410.3,798.3 483.9,798.3 484.9,798.2 486.7,797.5 489.5,796.1 492.3,794.5 496.1,791.9 499.8,789.1 507.2,782.7 515.6,774.7 521.2,769.1 525.9,764.0 530.5,758.4 541.7,744.1 545.5,739.9 549.2,736.2 552.9,733.3 556.6,731.2 560.4,730.1 563.2,729.9 565.0,730.1 567.8,730.7 569.7,731.5 572.5,733.0 577.2,736.5 581.8,741.1 585.5,745.6 590.2,751.8 605.1,773.7 614.4,786.7 619.1,792.6 622.8,796.5 625.6,798.9 627.5,800.3 631.2,802.3 634.0,803.3 642.4,805.1"/>
<polyline points="410.3,798.3 496.1,798.3 497.0,798.0 499.8,795.8 502.6,792.8 507.2,786.6 513.8,776.5 521.2,769.0 525.9,763.9 530.5,758.2 540.8,744.8 546.4,738.4 551.1,734.0 554.8,731.5 557.6,730.1 559.4,729.5 561.3,729.2 563.2,729.1 565.0,729.3 566.9,729.8 568.8,730.5 571.6,732.1 575.3,735.0 579.9,740.0 583.7,744.8 587.4,750.2 601.4,772.7 607.0,781.2 614.4,791.1 619.1,796.2 622.8,799.1 626.6,801.1 628.4,801.6 642.4,804.3"/>
<polyline points="410.3,798.3 476.5,798.3 480.2,797.5 485.8,795.2 492.3,791.7 498.9,787.7 505.4,783.1 512.8,777.3 518.4,771.2 524.0,764.4 528.7,758.0 538.9,743.1 541.7,739.5 544.5,736.2 548.3,732.7 551.1,730.8 552.9,729.9 554.8,729.3 557.6,729.1 559.4,729.3 562.2,730.0 564.1,730.7 566.9,732.2 571.6,735.7 576.2,740.3 579.9,744.7 584.6,750.9 599.5,772.8 605.1,780.5 608.8,785.2 613.5,790.5 618.2,795.0 621.0,797.2 622.8,798.3 626.6,800.0 629.4,800.7 642.4,802.3"/>
<polyline points="410.3,798.3 488.6,798.3 489.5,798.2 490.5,797.9 494.2,795.7 498.9,792.0 504.4,786.8 510.0,780.7 519.4,770.2 524.0,764.5 528.7,758.3 538.9,743.8 541.7,740.2 544.5,737.0 548.3,733.6 551.1,731.8 553.8,730.6 556.6,730.1 558.5,730.2 560.4,730.6 562.2,731.2 565.0,732.7 568.8,735.6 573.4,740.6 577.2,745.4 580.9,750.9 594.9,773.8 600.5,782.3 603.3,786.1 606.0,789.4 608.8,792.3 610.7,794.0 613.5,796.0 615.4,797.0 617.2,797.7 619.1,798.2 621.0,798.4 642.4,798.5"/>
<polyline points="410.3,798.3 484.9,798.3 486.7,797.9 489.5,796.7 495.1,793.3 501.6,788.1 509.1,781.2 512.8,777.5 515.6,774.3 520.3,768.7 525.0,762.4 529.6,755.5 540.8,737.7 544.5,732.6 547.3,729.4 550.1,726.8 552.9,724.9 555.7,723.8 558.5,723.4 560.4,723.6 562.2,724.1 564.1,724.9 566.9,726.6 570.6,729.9 575.3,735.3 579.0,740.6 582.7,746.5 596.7,771.1 602.3,780.3 605.1,784.4 607.9,788.1 613.5,794.3 616.3,796.7 618.2,798.0 620.0,799.0 621.9,799.7 642.4,802.5"/>
<polyline points="410.3,798.3 485.8,798.3 486.7,797.9 491.4,794.8 498.9,789.0 509.1,780.6 513.8,776.4 520.3,767.8 525.0,760.9 528.7,754.7 538.0,738.2 540.8,733.6 543.6,729.6 547.3,725.2 550.1,722.9 552.9,721.5 555.7,721.0 557.6,721.2 559.4,721.6 561.3,722.3 564.1,723.7 566.0,725.0 568.8,727.4 573.4,732.4 577.2,737.3 581.8,744.2 597.7,770.6 603.3,779.3 608.8,786.8 612.6,791.2 615.4,794.1 618.2,796.6 620.0,797.9 622.8,799.4 624.7,800.1 626.6,800.5 642.4,802.6"/>
<polyline points="410.3,798.3 470.9,798.2 512.8,777.2 513.8,776.5 517.5,772.8 524.0,766.1 528.7,760.8 539.9,747.2 545.5,741.4 549.2,738.3 552.9,736.1 556.6,734.8 559.4,734.5 561.3,734.6 563.2,735.0 565.0,735.6 567.8,737.1 571.6,739.8 576.2,744.4 579.9,748.9 583.7,754.0 597.7,775.3 603.3,783.2 606.0,786.7 608.8,789.9 611.6,792.6 614.4,795.0 617.2,796.9 619.1,797.8 621.0,798.5 622.8,798.9 642.4,800.1"/>
<polyline points="410.3,798.3 493.3,798.3 494.2,797.6 503.5,787.3 520.3,769.8 524.0,765.7 529.6,758.8 541.7,742.4 545.5,737.8 548.3,734.8 552.0,731.3 555.7,728.8 559.4,727.2 561.3,726.8 563.2,726.6 565.0,726.8 566.9,727.2 568.8,727.8 571.6,729.2 573.4,730.4 576.2,732.7 580.9,737.5 584.6,742.2 589.3,748.8 603.3,771.0 608.8,779.4 615.4,788.3 620.0,793.4 622.8,795.9 624.7,797.3 627.5,798.8 629.4,799.6 632.1,800.2 642.4,801.2"/>
<polyline points="410.3,798.3 470.9,798.3 471.8,798.0 486.7,790.2 512.8,777.2 513.8,776.4 516.6,773.1 523.1,764.9 527.7,758.4 538.0,742.9 542.7,736.9 546.4,733.2 549.2,731.1 552.0,729.9 554.8,729.4 556.6,729.5 558.5,729.9 560.4,730.6 562.2,731.6 566.0,734.3 567.8,736.0 570.6,739.1 574.4,743.8 579.0,750.7 593.0,773.8 598.6,782.3 601.4,786.1 604.2,789.5 607.0,792.4 608.8,794.1 613.5,797.3 615.4,798.2 617.2,798.8 619.1,799.1 642.4,801.2"/>
<polyline points="410.3,798.3 476.5,798.2 482.1,795.4 490.5,790.7 512.8,777.3 520.3,770.6 525.9,765.0 530.5,759.9 542.7,745.7 546.4,741.8 549.2,739.1 553.8,735.5 557.6,733.5 561.3,732.2 565.0,731.7 566.9,731.8 569.7,732.4 571.6,733.1 574.4,734.5 579.0,737.9 583.7,742.4 587.4,746.7 592.1,752.7 607.0,774.2 614.4,784.5 619.1,790.2 622.8,794.0 627.5,797.7 630.3,799.3 632.1,800.1 634.9,800.9 642.4,801.8"/>
<polyline points="410.3,798.3 493.3,798.3 494.2,797.7 501.6,789.1 512.8,777.4 519.4,769.7 525.9,760.9 538.0,742.5 540.8,738.7 543.6,735.4 547.3,731.9 550.1,730.1 552.9,729.1 555.7,728.9 557.6,729.1 559.4,729.6 561.3,730.3 564.1,731.9 567.8,734.7 572.5,739.3 576.2,743.8 580.9,750.2 595.8,773.2 601.4,781.2 607.0,788.1 614.4,795.6 617.2,797.7 619.1,798.9 622.8,800.5 642.4,804.3"/>
<polyline points="410.3,798.3 495.1,798.3 496.1,797.6 500.7,792.4 513.8,776.5 520.3,769.7 525.0,764.4 529.6,758.4 541.7,741.7 547.3,735.1 551.1,731.5 554.8,728.9 556.6,727.9 558.5,727.2 560.4,726.8 562.2,726.7 564.1,726.8 566.0,727.3 567.8,728.0 569.7,729.1 573.4,732.0 575.3,733.9 578.1,737.1 581.8,742.1 585.5,747.8 599.5,771.9 605.1,780.9 607.9,785.0 611.6,789.8 614.4,793.1 616.3,795.0 619.1,797.3 621.0,798.5 622.8,799.4 624.7,800.0 642.4,802.4"/>
<polyline points="410.3,798.3 497.9,798.3 498.9,798.1 504.4,790.2 512.8,777.7 521.2,768.0 526.8,760.7 530.5,755.2 541.7,737.8 547.3,730.2 551.1,726.2 554.8,723.3 556.6,722.2 558.5,721.5 560.4,721.1 562.2,721.0 564.1,721.2 566.0,721.7 567.8,722.5 570.6,724.1 572.5,725.5 575.3,728.0 579.9,733.3 583.7,738.5 588.3,745.7 602.3,769.6 607.9,778.6 614.4,788.1 617.2,791.7 620.0,794.8 622.8,797.3 624.7,798.7 628.4,800.7 631.2,801.5 642.4,803.2"/>
<polyline points="410.3,798.3 485.8,798.2 490.5,795.2 497.0,790.3 506.3,782.8 513.8,776.5 520.3,769.8 525.0,764.6 529.6,758.8 541.7,742.5 545.5,738.0 549.2,734.2 552.9,731.1 555.7,729.5 557.6,728.6 559.4,728.1 562.2,727.8 564.1,727.9 566.9,728.5 568.8,729.3 571.6,730.8 573.4,732.1 576.2,734.5 580.9,739.4 584.6,744.1 589.3,750.6 602.3,771.0 607.9,779.3 615.4,789.4 618.2,792.6 621.0,795.4 623.8,797.7 625.6,799.0 629.4,800.8 632.1,801.5 642.4,803.1"/>
<polyline points="410.3,798.3 483.9,798.3 485.8,797.8 488.6,796.4 494.2,793.0 499.8,788.8 506.3,783.4 512.8,777.4 513.8,776.3 516.6,771.9 521.2,763.9 525.0,756.9 533.3,740.0 537.1,733.5 539.9,729.8 541.7,727.9 543.6,726.6 544.5,726.2 546.4,725.9 547.3,725.9 549.2,726.5 552.0,728.4 554.8,731.6 557.6,735.8 560.4,740.9 563.2,746.8 574.4,773.5 579.0,783.6 581.8,788.7 583.7,791.6 586.5,795.0 588.3,796.6 590.2,797.4 592.1,797.5 600.5,795.7 606.0,794.8 612.6,794.2 618.2,794.0 623.8,794.3 629.4,794.9 634.9,795.8 642.4,797.3"/>
<polyline points="410.3,798.3 483.9,798.3 485.8,797.8 488.6,796.4 494.2,793.0 500.7,788.1 508.2,781.7 512.8,777.4 513.8,776.3 518.4,769.2 523.1,761.3 526.8,754.2 535.2,737.3 538.9,730.7 541.7,726.7 544.5,723.8 546.4,722.5 547.3,722.0 549.2,721.6 550.1,721.6 552.0,722.1 554.8,723.8 557.6,726.7 559.4,729.2 561.3,732.2 564.1,737.4 566.9,743.3 579.0,772.6 583.7,782.8 586.5,788.0 588.3,790.9 591.1,794.5 593.0,796.2 593.9,796.9 594.9,797.2 596.7,797.4 605.1,795.7 610.7,794.7 616.3,794.2 621.9,794.1 626.6,794.3 631.2,794.9 636.8,795.9 642.4,797.2"/>
<polyline points="410.3,798.3 483.9,798.3 485.8,797.8 488.6,796.4 494.2,793.0 499.8,788.8 507.2,782.5 513.8,776.4 520.3,768.7 525.9,761.1 530.5,753.8 542.7,733.0 545.5,728.7 548.3,724.9 552.0,720.5 553.8,718.8 555.7,717.4 557.6,716.4 559.4,715.6 562.2,715.2 563.2,715.4 564.1,715.8 566.0,717.4 567.8,720.1 570.6,726.0 572.5,730.9 575.3,739.6 583.7,769.4 587.4,781.4 589.3,786.5 591.1,790.8 593.0,794.2 593.9,795.6 595.8,797.0 596.7,797.3 597.7,797.3 605.1,795.7 611.6,794.6 617.2,794.1 622.8,794.1 627.5,794.4 632.1,795.1 642.4,797.2"/>
<polyline points="410.3,798.3 483.9,798.3 485.8,797.8 488.6,796.4 494.2,793.0 499.8,788.8 507.2,782.5 513.8,776.4 520.3,768.7 525.9,761.1 530.5,753.8 540.8,736.8 544.5,731.3 547.3,727.6 551.1,723.7 553.8,721.5 555.7,720.5 557.6,719.8 560.4,719.5 562.2,720.1 563.2,720.7 565.0,722.7 566.9,725.5 569.7,731.2 571.6,735.9 574.4,743.8 582.7,770.6 586.5,781.5 588.3,786.2 590.2,790.2 592.1,793.5 593.9,796.0 595.8,797.1 597.7,797.3 605.1,795.7 610.7,794.7 616.3,794.2 621.9,794.1 626.6,794.3 631.2,794.9 636.8,795.9 642.4,797.2"/>
</g>
<path d="M409.8,670.4 L409.8,819.3 L641.8,819.3" fill="none" stroke="#4e4e4e" stroke-width="1.45"/>
<line x1="409.80" y1="798.30" x2="412.30" y2="798.30" stroke="#4e4e4e" stroke-width="1" />
<text x="404.5" y="803.3" font-size="14" fill="#505050" text-anchor="end" stroke="#505050" stroke-width="0.3">0</text>
<line x1="409.80" y1="755.70" x2="412.30" y2="755.70" stroke="#4e4e4e" stroke-width="1" />
<text x="404.5" y="760.7" font-size="14" fill="#505050" text-anchor="end" stroke="#505050" stroke-width="0.3">0.2</text>
<line x1="409.80" y1="713.10" x2="412.30" y2="713.10" stroke="#4e4e4e" stroke-width="1" />
<text x="404.5" y="718.1" font-size="14" fill="#505050" text-anchor="end" stroke="#505050" stroke-width="0.3">0.4</text>
<line x1="409.80" y1="670.50" x2="412.30" y2="670.50" stroke="#4e4e4e" stroke-width="1" />
<text x="404.5" y="675.5" font-size="14" fill="#505050" text-anchor="end" stroke="#505050" stroke-width="0.3">0.6</text>
<line x1="410.30" y1="819.30" x2="410.30" y2="816.80" stroke="#4e4e4e" stroke-width="1" />
<text x="409.5" y="836.4" font-size="14" fill="#505050" text-anchor="middle" stroke="#505050" stroke-width="0.3">80</text>
<line x1="452.50" y1="819.30" x2="452.50" y2="816.80" stroke="#4e4e4e" stroke-width="1" />
<text x="451.7" y="836.4" font-size="14" fill="#505050" text-anchor="middle" stroke="#505050" stroke-width="0.3">82</text>
<line x1="494.70" y1="819.30" x2="494.70" y2="816.80" stroke="#4e4e4e" stroke-width="1" />
<text x="493.9" y="836.4" font-size="14" fill="#505050" text-anchor="middle" stroke="#505050" stroke-width="0.3">84</text>
<line x1="536.90" y1="819.30" x2="536.90" y2="816.80" stroke="#4e4e4e" stroke-width="1" />
<text x="536.1" y="836.4" font-size="14" fill="#505050" text-anchor="middle" stroke="#505050" stroke-width="0.3">86</text>
<line x1="579.10" y1="819.30" x2="579.10" y2="816.80" stroke="#4e4e4e" stroke-width="1" />
<text x="578.3" y="836.4" font-size="14" fill="#505050" text-anchor="middle" stroke="#505050" stroke-width="0.3">88</text>
<line x1="621.30" y1="819.30" x2="621.30" y2="816.80" stroke="#4e4e4e" stroke-width="1" />
<text x="620.5" y="836.4" font-size="14" fill="#505050" text-anchor="middle" stroke="#505050" stroke-width="0.3">90</text>
<text x="526.4" y="852.2" font-size="14.5" fill="#505050" text-anchor="middle" stroke="#505050" stroke-width="0.3" textLength="116.2" lengthAdjust="spacingAndGlyphs">Temperature (°C)</text>
<text x="379.0" y="744.7" font-size="13.5" fill="#505050" text-anchor="middle" stroke="#505050" stroke-width="0.3" textLength="176.0" lengthAdjust="spacingAndGlyphs" transform="rotate(-90 379.0 744.7)">-d(Fluorescence)/dT (a.u.)</text>
<text x="543.7" y="653.2" font-size="15.5" fill="#111" text-anchor="middle" stroke="#111" stroke-width="0.3" textLength="20.9" lengthAdjust="spacingAndGlyphs">1:3</text>
<text x="9.6" y="16.1" font-size="19.5" fill="#000" text-anchor="start" font-weight="bold">A</text>
<text x="343.6" y="16.1" font-size="19.5" fill="#000" text-anchor="start" font-weight="bold">B</text>
<text x="9.2" y="411.3" font-size="19.5" fill="#000" text-anchor="start" font-weight="bold">C</text>
<text x="346.5" y="411.0" font-size="19.5" fill="#000" text-anchor="start" font-weight="bold">D</text>
<text x="0.6" y="645.0" font-size="19.5" fill="#000" text-anchor="start" font-weight="bold">E</text>
</svg></body></html>
